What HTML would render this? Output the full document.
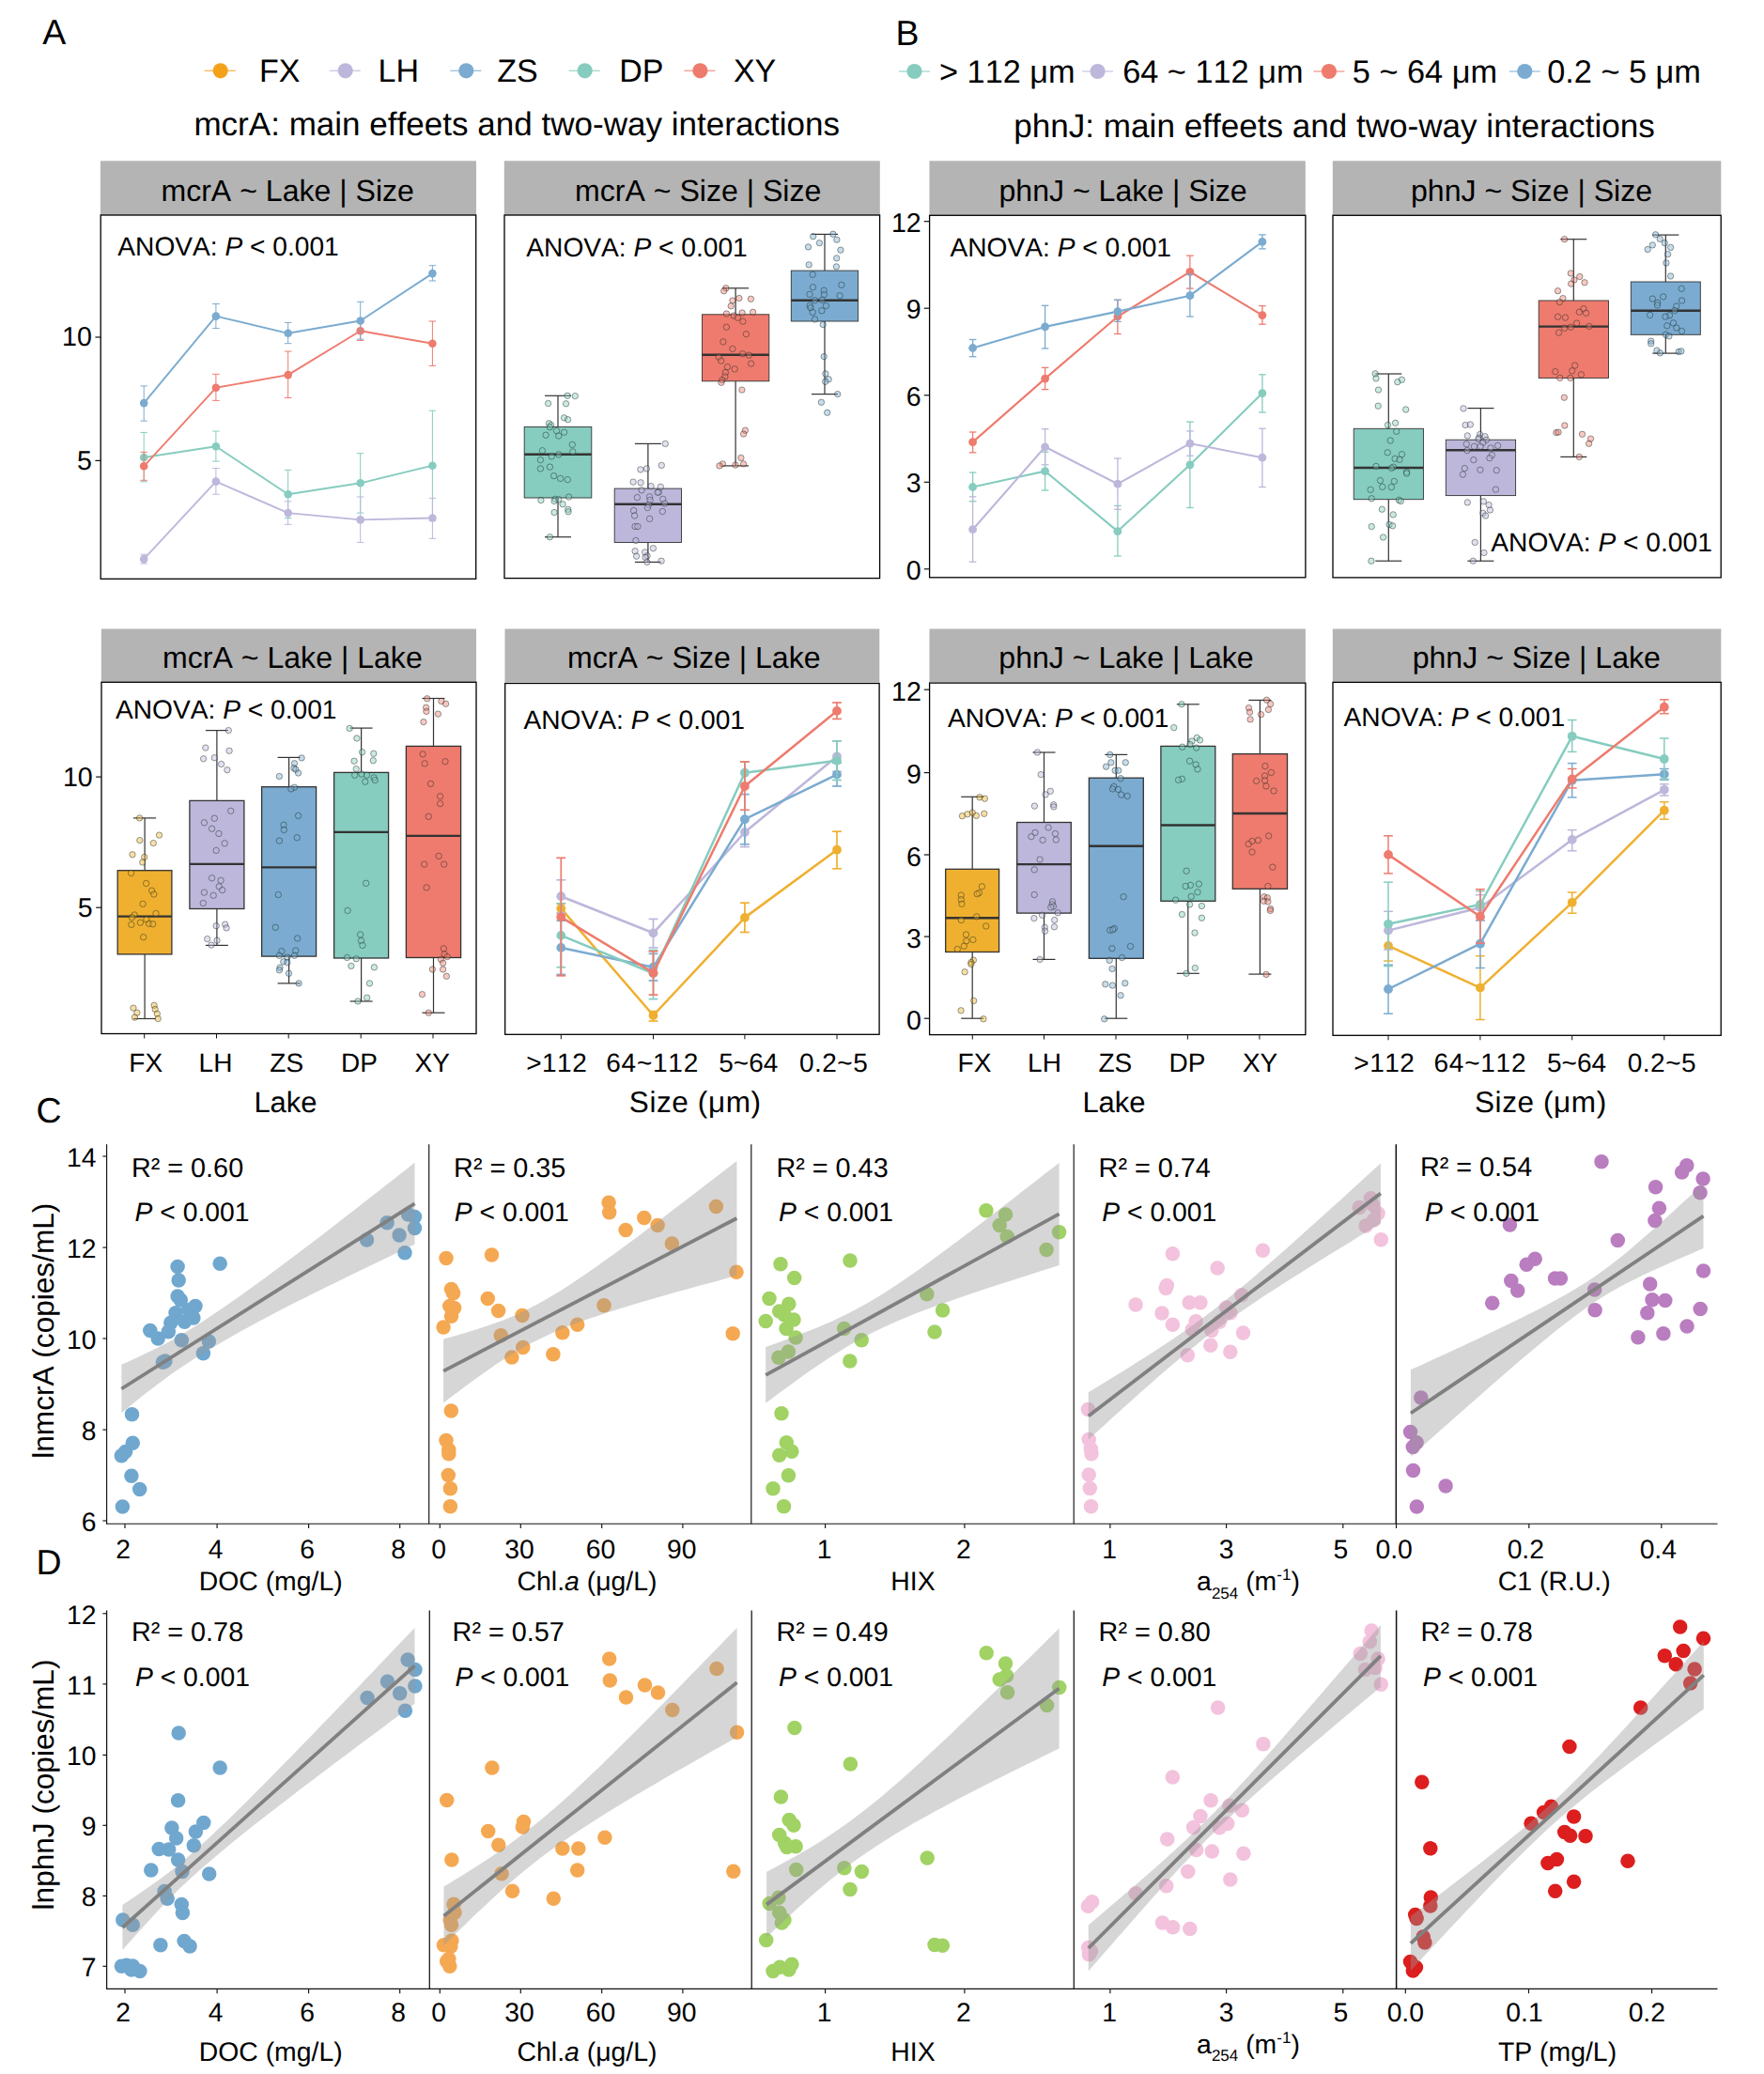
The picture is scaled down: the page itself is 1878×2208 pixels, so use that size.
<!DOCTYPE html>
<html lang="en"><head><meta charset="utf-8"><title>Figure</title>
<style>html,body{margin:0;padding:0;background:#fff}svg{display:block}</style></head>
<body>
<svg width="1878" height="2208" viewBox="0 0 1878 2208" font-family='"Liberation Sans", sans-serif' style="font-kerning:none" text-rendering="geometricPrecision">
<rect x="0.0" y="0.0" width="1878.0" height="2208.0" fill="#fff" stroke="none" stroke-width="1" />
<text x="45.3" y="47.3" font-size="37.5" text-anchor="start" fill="#000" >A</text>
<text x="953.5" y="47.8" font-size="37.5" text-anchor="start" fill="#000" >B</text>
<text x="38.5" y="1195.0" font-size="37.5" text-anchor="start" fill="#000" >C</text>
<text x="38.5" y="1676.3" font-size="37.5" text-anchor="start" fill="#000" >D</text>
<line x1="217.7" y1="75.3" x2="250.7" y2="75.3" stroke="#F4A21C" stroke-width="1.05" />
<circle cx="234.7" cy="75.3" r="8.1" fill="#F4A21C" />
<text x="276.1" y="87.0" font-size="34" text-anchor="start" fill="#000" >FX</text>
<line x1="350.7" y1="75.3" x2="383.7" y2="75.3" stroke="#BDB7DB" stroke-width="1.05" />
<circle cx="367.7" cy="75.3" r="8.1" fill="#BDB7DB" />
<text x="402.5" y="87.0" font-size="34" text-anchor="start" fill="#000" >LH</text>
<line x1="479.3" y1="75.3" x2="512.3" y2="75.3" stroke="#7BABD0" stroke-width="1.05" />
<circle cx="496.3" cy="75.3" r="8.1" fill="#7BABD0" />
<text x="529.2" y="87.0" font-size="34" text-anchor="start" fill="#000" >ZS</text>
<line x1="605.7" y1="75.3" x2="638.7" y2="75.3" stroke="#86CCBF" stroke-width="1.05" />
<circle cx="622.7" cy="75.3" r="8.1" fill="#86CCBF" />
<text x="659.3" y="87.0" font-size="34" text-anchor="start" fill="#000" >DP</text>
<line x1="728.4" y1="75.3" x2="761.4" y2="75.3" stroke="#EE7B6E" stroke-width="1.05" />
<circle cx="745.4" cy="75.3" r="8.1" fill="#EE7B6E" />
<text x="780.9" y="87.0" font-size="34" text-anchor="start" fill="#000" >XY</text>
<line x1="957.0" y1="76.0" x2="990.0" y2="76.0" stroke="#86CCBF" stroke-width="1.05" />
<circle cx="973.5" cy="76.0" r="8.1" fill="#86CCBF" />
<text x="1000.0" y="87.5" font-size="34.3" text-anchor="start" fill="#000" >&gt; 112 μm</text>
<line x1="1152.1" y1="76.0" x2="1185.1" y2="76.0" stroke="#BDB7DB" stroke-width="1.05" />
<circle cx="1168.6" cy="76.0" r="8.1" fill="#BDB7DB" />
<text x="1195.2" y="87.5" font-size="34.3" text-anchor="start" fill="#000" >64 ~ 112 μm</text>
<line x1="1398.4" y1="76.0" x2="1431.4" y2="76.0" stroke="#EE7B6E" stroke-width="1.05" />
<circle cx="1414.9" cy="76.0" r="8.1" fill="#EE7B6E" />
<text x="1439.8" y="87.5" font-size="34.3" text-anchor="start" fill="#000" >5 ~ 64 μm</text>
<line x1="1606.8" y1="76.0" x2="1639.8" y2="76.0" stroke="#7BABD0" stroke-width="1.05" />
<circle cx="1623.3" cy="76.0" r="8.1" fill="#7BABD0" />
<text x="1647.2" y="87.5" font-size="34.3" text-anchor="start" fill="#000" >0.2 ~ 5 μm</text>
<text x="206.4" y="143.5" font-size="35.05" text-anchor="start" fill="#000" >mcrA: main effeets and two-way interactions</text>
<text x="1079.3" y="145.5" font-size="35.1" text-anchor="start" fill="#000" >phnJ: main effeets and two-way interactions</text>
<rect x="106.9" y="171.3" width="400.1" height="57.7" fill="#B4B4B4" stroke="none" stroke-width="1" />
<text x="306.2" y="213.5" font-size="32.1" text-anchor="middle" fill="#000" >mcrA ~ Lake | Size</text>
<rect x="107.2" y="229.0" width="399.5" height="387.3" fill="#fff" stroke="#000" stroke-width="1.3" />
<line x1="101.4" y1="359.0" x2="107.2" y2="359.0" stroke="#111" stroke-width="1.2" />
<text x="97.9" y="368.4" font-size="28.6" text-anchor="end" fill="#000" >10</text>
<line x1="101.4" y1="490.4" x2="107.2" y2="490.4" stroke="#111" stroke-width="1.2" />
<text x="97.9" y="499.8" font-size="28.6" text-anchor="end" fill="#000" >5</text>
<text x="125.3" y="272.2" font-size="28.15" text-anchor="start" fill="#000" >ANOVA: <tspan font-style="italic">P</tspan> &lt; 0.001</text>
<line x1="153.2" y1="460.4" x2="153.2" y2="512.9" stroke="#86CCBF" stroke-width="1.0" />
<line x1="149.4" y1="460.4" x2="156.9" y2="460.4" stroke="#86CCBF" stroke-width="1.0" />
<line x1="149.4" y1="512.9" x2="156.9" y2="512.9" stroke="#86CCBF" stroke-width="1.0" />
<line x1="229.9" y1="459.0" x2="229.9" y2="491.1" stroke="#86CCBF" stroke-width="1.0" />
<line x1="226.2" y1="459.0" x2="233.7" y2="459.0" stroke="#86CCBF" stroke-width="1.0" />
<line x1="226.2" y1="491.1" x2="233.7" y2="491.1" stroke="#86CCBF" stroke-width="1.0" />
<line x1="306.7" y1="500.4" x2="306.7" y2="551.5" stroke="#86CCBF" stroke-width="1.0" />
<line x1="302.9" y1="500.4" x2="310.4" y2="500.4" stroke="#86CCBF" stroke-width="1.0" />
<line x1="302.9" y1="551.5" x2="310.4" y2="551.5" stroke="#86CCBF" stroke-width="1.0" />
<line x1="383.7" y1="482.7" x2="383.7" y2="546.1" stroke="#86CCBF" stroke-width="1.0" />
<line x1="379.9" y1="482.7" x2="387.4" y2="482.7" stroke="#86CCBF" stroke-width="1.0" />
<line x1="379.9" y1="546.1" x2="387.4" y2="546.1" stroke="#86CCBF" stroke-width="1.0" />
<line x1="460.4" y1="437.2" x2="460.4" y2="554.3" stroke="#86CCBF" stroke-width="1.0" />
<line x1="456.6" y1="437.2" x2="464.1" y2="437.2" stroke="#86CCBF" stroke-width="1.0" />
<line x1="456.6" y1="554.3" x2="464.1" y2="554.3" stroke="#86CCBF" stroke-width="1.0" />
<polyline points="153.2,487.0 229.9,475.3 306.7,526.2 383.7,514.3 460.4,495.7" fill="none" stroke="#86CCBF" stroke-width="1.9" stroke-linejoin="round"/>
<circle cx="153.2" cy="487.0" r="4.3" fill="#86CCBF" />
<circle cx="229.9" cy="475.3" r="4.3" fill="#86CCBF" />
<circle cx="306.7" cy="526.2" r="4.3" fill="#86CCBF" />
<circle cx="383.7" cy="514.3" r="4.3" fill="#86CCBF" />
<circle cx="460.4" cy="495.7" r="4.3" fill="#86CCBF" />
<line x1="153.2" y1="590.2" x2="153.2" y2="600.0" stroke="#BDB7DB" stroke-width="1.0" />
<line x1="149.4" y1="590.2" x2="156.9" y2="590.2" stroke="#BDB7DB" stroke-width="1.0" />
<line x1="149.4" y1="600.0" x2="156.9" y2="600.0" stroke="#BDB7DB" stroke-width="1.0" />
<line x1="229.9" y1="498.5" x2="229.9" y2="526.2" stroke="#BDB7DB" stroke-width="1.0" />
<line x1="226.2" y1="498.5" x2="233.7" y2="498.5" stroke="#BDB7DB" stroke-width="1.0" />
<line x1="226.2" y1="526.2" x2="233.7" y2="526.2" stroke="#BDB7DB" stroke-width="1.0" />
<line x1="306.7" y1="533.8" x2="306.7" y2="558.3" stroke="#BDB7DB" stroke-width="1.0" />
<line x1="302.9" y1="533.8" x2="310.4" y2="533.8" stroke="#BDB7DB" stroke-width="1.0" />
<line x1="302.9" y1="558.3" x2="310.4" y2="558.3" stroke="#BDB7DB" stroke-width="1.0" />
<line x1="383.7" y1="529.0" x2="383.7" y2="577.4" stroke="#BDB7DB" stroke-width="1.0" />
<line x1="379.9" y1="529.0" x2="387.4" y2="529.0" stroke="#BDB7DB" stroke-width="1.0" />
<line x1="379.9" y1="577.4" x2="387.4" y2="577.4" stroke="#BDB7DB" stroke-width="1.0" />
<line x1="460.4" y1="530.3" x2="460.4" y2="573.3" stroke="#BDB7DB" stroke-width="1.0" />
<line x1="456.6" y1="530.3" x2="464.1" y2="530.3" stroke="#BDB7DB" stroke-width="1.0" />
<line x1="456.6" y1="573.3" x2="464.1" y2="573.3" stroke="#BDB7DB" stroke-width="1.0" />
<polyline points="153.2,595.1 229.9,512.6 306.7,546.1 383.7,553.4 460.4,551.5" fill="none" stroke="#BDB7DB" stroke-width="1.9" stroke-linejoin="round"/>
<circle cx="153.2" cy="595.1" r="4.3" fill="#BDB7DB" />
<circle cx="229.9" cy="512.6" r="4.3" fill="#BDB7DB" />
<circle cx="306.7" cy="546.1" r="4.3" fill="#BDB7DB" />
<circle cx="383.7" cy="553.4" r="4.3" fill="#BDB7DB" />
<circle cx="460.4" cy="551.5" r="4.3" fill="#BDB7DB" />
<line x1="153.2" y1="481.3" x2="153.2" y2="511.3" stroke="#EE7B6E" stroke-width="1.0" />
<line x1="149.4" y1="481.3" x2="156.9" y2="481.3" stroke="#EE7B6E" stroke-width="1.0" />
<line x1="149.4" y1="511.3" x2="156.9" y2="511.3" stroke="#EE7B6E" stroke-width="1.0" />
<line x1="229.9" y1="398.3" x2="229.9" y2="426.4" stroke="#EE7B6E" stroke-width="1.0" />
<line x1="226.2" y1="398.3" x2="233.7" y2="398.3" stroke="#EE7B6E" stroke-width="1.0" />
<line x1="226.2" y1="426.4" x2="233.7" y2="426.4" stroke="#EE7B6E" stroke-width="1.0" />
<line x1="306.7" y1="374.1" x2="306.7" y2="423.6" stroke="#EE7B6E" stroke-width="1.0" />
<line x1="302.9" y1="374.1" x2="310.4" y2="374.1" stroke="#EE7B6E" stroke-width="1.0" />
<line x1="302.9" y1="423.6" x2="310.4" y2="423.6" stroke="#EE7B6E" stroke-width="1.0" />
<line x1="383.7" y1="342.6" x2="383.7" y2="362.4" stroke="#EE7B6E" stroke-width="1.0" />
<line x1="379.9" y1="342.6" x2="387.4" y2="342.6" stroke="#EE7B6E" stroke-width="1.0" />
<line x1="379.9" y1="362.4" x2="387.4" y2="362.4" stroke="#EE7B6E" stroke-width="1.0" />
<line x1="460.4" y1="342.0" x2="460.4" y2="389.4" stroke="#EE7B6E" stroke-width="1.0" />
<line x1="456.6" y1="342.0" x2="464.1" y2="342.0" stroke="#EE7B6E" stroke-width="1.0" />
<line x1="456.6" y1="389.4" x2="464.1" y2="389.4" stroke="#EE7B6E" stroke-width="1.0" />
<polyline points="153.2,496.3 229.9,412.8 306.7,399.1 383.7,352.3 460.4,365.7" fill="none" stroke="#EE7B6E" stroke-width="1.9" stroke-linejoin="round"/>
<circle cx="153.2" cy="496.3" r="4.3" fill="#EE7B6E" />
<circle cx="229.9" cy="412.8" r="4.3" fill="#EE7B6E" />
<circle cx="306.7" cy="399.1" r="4.3" fill="#EE7B6E" />
<circle cx="383.7" cy="352.3" r="4.3" fill="#EE7B6E" />
<circle cx="460.4" cy="365.7" r="4.3" fill="#EE7B6E" />
<line x1="153.2" y1="410.9" x2="153.2" y2="448.1" stroke="#7BABD0" stroke-width="1.0" />
<line x1="149.4" y1="410.9" x2="156.9" y2="410.9" stroke="#7BABD0" stroke-width="1.0" />
<line x1="149.4" y1="448.1" x2="156.9" y2="448.1" stroke="#7BABD0" stroke-width="1.0" />
<line x1="229.9" y1="323.5" x2="229.9" y2="349.6" stroke="#7BABD0" stroke-width="1.0" />
<line x1="226.2" y1="323.5" x2="233.7" y2="323.5" stroke="#7BABD0" stroke-width="1.0" />
<line x1="226.2" y1="349.6" x2="233.7" y2="349.6" stroke="#7BABD0" stroke-width="1.0" />
<line x1="306.7" y1="343.4" x2="306.7" y2="365.7" stroke="#7BABD0" stroke-width="1.0" />
<line x1="302.9" y1="343.4" x2="310.4" y2="343.4" stroke="#7BABD0" stroke-width="1.0" />
<line x1="302.9" y1="365.7" x2="310.4" y2="365.7" stroke="#7BABD0" stroke-width="1.0" />
<line x1="383.7" y1="321.3" x2="383.7" y2="361.1" stroke="#7BABD0" stroke-width="1.0" />
<line x1="379.9" y1="321.3" x2="387.4" y2="321.3" stroke="#7BABD0" stroke-width="1.0" />
<line x1="379.9" y1="361.1" x2="387.4" y2="361.1" stroke="#7BABD0" stroke-width="1.0" />
<line x1="460.4" y1="282.7" x2="460.4" y2="299.0" stroke="#7BABD0" stroke-width="1.0" />
<line x1="456.6" y1="282.7" x2="464.1" y2="282.7" stroke="#7BABD0" stroke-width="1.0" />
<line x1="456.6" y1="299.0" x2="464.1" y2="299.0" stroke="#7BABD0" stroke-width="1.0" />
<polyline points="153.2,429.1 229.9,336.6 306.7,354.8 383.7,341.5 460.4,291.1" fill="none" stroke="#7BABD0" stroke-width="1.9" stroke-linejoin="round"/>
<circle cx="153.2" cy="429.1" r="4.3" fill="#7BABD0" />
<circle cx="229.9" cy="336.6" r="4.3" fill="#7BABD0" />
<circle cx="306.7" cy="354.8" r="4.3" fill="#7BABD0" />
<circle cx="383.7" cy="341.5" r="4.3" fill="#7BABD0" />
<circle cx="460.4" cy="291.1" r="4.3" fill="#7BABD0" />
<rect x="536.8" y="171.3" width="400.0" height="57.7" fill="#B4B4B4" stroke="none" stroke-width="1" />
<text x="743.2" y="213.5" font-size="32.1" text-anchor="middle" fill="#000" >mcrA ~ Size | Size</text>
<rect x="537.0" y="229.0" width="399.6" height="386.6" fill="#fff" stroke="#000" stroke-width="1.3" />
<text x="560.3" y="272.5" font-size="28.15" text-anchor="start" fill="#000" >ANOVA: <tspan font-style="italic">P</tspan> &lt; 0.001</text>
<line x1="594.0" y1="421.3" x2="594.0" y2="454.5" stroke="#333333" stroke-width="1.2" />
<line x1="594.0" y1="530.0" x2="594.0" y2="571.7" stroke="#333333" stroke-width="1.2" />
<line x1="580.0" y1="421.3" x2="608.0" y2="421.3" stroke="#333333" stroke-width="1.2" />
<line x1="580.0" y1="571.7" x2="608.0" y2="571.7" stroke="#333333" stroke-width="1.2" />
<rect x="558.2" y="454.5" width="71.6" height="75.5" fill="#86CCBF" stroke="#333333" stroke-width="0.9" />
<line x1="558.2" y1="483.7" x2="629.8" y2="483.7" stroke="#333333" stroke-width="2.4" />
<circle cx="604.1" cy="421.3" r="3.2" fill="#86CCBF" fill-opacity="0.42" stroke="#10201c" stroke-opacity="0.62" stroke-width="0.7"/>
<circle cx="612.3" cy="421.6" r="3.2" fill="#86CCBF" fill-opacity="0.42" stroke="#10201c" stroke-opacity="0.62" stroke-width="0.7"/>
<circle cx="583.6" cy="429.5" r="3.2" fill="#86CCBF" fill-opacity="0.42" stroke="#10201c" stroke-opacity="0.62" stroke-width="0.7"/>
<circle cx="602.6" cy="429.8" r="3.2" fill="#86CCBF" fill-opacity="0.42" stroke="#10201c" stroke-opacity="0.62" stroke-width="0.7"/>
<circle cx="600.6" cy="444.8" r="3.2" fill="#86CCBF" fill-opacity="0.42" stroke="#10201c" stroke-opacity="0.62" stroke-width="0.7"/>
<circle cx="604.6" cy="446.7" r="3.2" fill="#86CCBF" fill-opacity="0.42" stroke="#10201c" stroke-opacity="0.62" stroke-width="0.7"/>
<circle cx="584.4" cy="450.7" r="3.2" fill="#86CCBF" fill-opacity="0.42" stroke="#10201c" stroke-opacity="0.62" stroke-width="0.7"/>
<circle cx="586.6" cy="452.5" r="3.2" fill="#86CCBF" fill-opacity="0.42" stroke="#10201c" stroke-opacity="0.62" stroke-width="0.7"/>
<circle cx="585.4" cy="454.7" r="3.2" fill="#86CCBF" fill-opacity="0.42" stroke="#10201c" stroke-opacity="0.62" stroke-width="0.7"/>
<circle cx="592.6" cy="458.7" r="3.2" fill="#86CCBF" fill-opacity="0.42" stroke="#10201c" stroke-opacity="0.62" stroke-width="0.7"/>
<circle cx="600.6" cy="460.2" r="3.2" fill="#86CCBF" fill-opacity="0.42" stroke="#10201c" stroke-opacity="0.62" stroke-width="0.7"/>
<circle cx="581.1" cy="463.2" r="3.2" fill="#86CCBF" fill-opacity="0.42" stroke="#10201c" stroke-opacity="0.62" stroke-width="0.7"/>
<circle cx="594.8" cy="464.0" r="3.2" fill="#86CCBF" fill-opacity="0.42" stroke="#10201c" stroke-opacity="0.62" stroke-width="0.7"/>
<circle cx="609.3" cy="473.4" r="3.2" fill="#86CCBF" fill-opacity="0.42" stroke="#10201c" stroke-opacity="0.62" stroke-width="0.7"/>
<circle cx="577.4" cy="479.7" r="3.2" fill="#86CCBF" fill-opacity="0.42" stroke="#10201c" stroke-opacity="0.62" stroke-width="0.7"/>
<circle cx="609.8" cy="480.9" r="3.2" fill="#86CCBF" fill-opacity="0.42" stroke="#10201c" stroke-opacity="0.62" stroke-width="0.7"/>
<circle cx="594.8" cy="483.9" r="3.2" fill="#86CCBF" fill-opacity="0.42" stroke="#10201c" stroke-opacity="0.62" stroke-width="0.7"/>
<circle cx="587.3" cy="485.9" r="3.2" fill="#86CCBF" fill-opacity="0.42" stroke="#10201c" stroke-opacity="0.62" stroke-width="0.7"/>
<circle cx="575.4" cy="489.6" r="3.2" fill="#86CCBF" fill-opacity="0.42" stroke="#10201c" stroke-opacity="0.62" stroke-width="0.7"/>
<circle cx="585.4" cy="497.1" r="3.2" fill="#86CCBF" fill-opacity="0.42" stroke="#10201c" stroke-opacity="0.62" stroke-width="0.7"/>
<circle cx="575.4" cy="498.9" r="3.2" fill="#86CCBF" fill-opacity="0.42" stroke="#10201c" stroke-opacity="0.62" stroke-width="0.7"/>
<circle cx="589.6" cy="506.6" r="3.2" fill="#86CCBF" fill-opacity="0.42" stroke="#10201c" stroke-opacity="0.62" stroke-width="0.7"/>
<circle cx="596.6" cy="509.4" r="3.2" fill="#86CCBF" fill-opacity="0.42" stroke="#10201c" stroke-opacity="0.62" stroke-width="0.7"/>
<circle cx="604.3" cy="510.6" r="3.2" fill="#86CCBF" fill-opacity="0.42" stroke="#10201c" stroke-opacity="0.62" stroke-width="0.7"/>
<circle cx="575.9" cy="532.6" r="3.2" fill="#86CCBF" fill-opacity="0.42" stroke="#10201c" stroke-opacity="0.62" stroke-width="0.7"/>
<circle cx="605.6" cy="529.1" r="3.2" fill="#86CCBF" fill-opacity="0.42" stroke="#10201c" stroke-opacity="0.62" stroke-width="0.7"/>
<circle cx="591.1" cy="531.3" r="3.2" fill="#86CCBF" fill-opacity="0.42" stroke="#10201c" stroke-opacity="0.62" stroke-width="0.7"/>
<circle cx="594.8" cy="531.8" r="3.2" fill="#86CCBF" fill-opacity="0.42" stroke="#10201c" stroke-opacity="0.62" stroke-width="0.7"/>
<circle cx="590.1" cy="533.5" r="3.2" fill="#86CCBF" fill-opacity="0.42" stroke="#10201c" stroke-opacity="0.62" stroke-width="0.7"/>
<circle cx="599.1" cy="536.8" r="3.2" fill="#86CCBF" fill-opacity="0.42" stroke="#10201c" stroke-opacity="0.62" stroke-width="0.7"/>
<circle cx="604.8" cy="542.3" r="3.2" fill="#86CCBF" fill-opacity="0.42" stroke="#10201c" stroke-opacity="0.62" stroke-width="0.7"/>
<circle cx="605.1" cy="544.8" r="3.2" fill="#86CCBF" fill-opacity="0.42" stroke="#10201c" stroke-opacity="0.62" stroke-width="0.7"/>
<circle cx="590.1" cy="545.5" r="3.2" fill="#86CCBF" fill-opacity="0.42" stroke="#10201c" stroke-opacity="0.62" stroke-width="0.7"/>
<circle cx="585.4" cy="571.7" r="3.2" fill="#86CCBF" fill-opacity="0.42" stroke="#10201c" stroke-opacity="0.62" stroke-width="0.7"/>
<line x1="689.9" y1="472.4" x2="689.9" y2="520.1" stroke="#333333" stroke-width="1.2" />
<line x1="689.9" y1="577.5" x2="689.9" y2="598.4" stroke="#333333" stroke-width="1.2" />
<line x1="675.9" y1="472.4" x2="703.9" y2="472.4" stroke="#333333" stroke-width="1.2" />
<line x1="675.9" y1="598.4" x2="703.9" y2="598.4" stroke="#333333" stroke-width="1.2" />
<rect x="654.2" y="520.1" width="71.3" height="57.4" fill="#BDB7DB" stroke="#333333" stroke-width="0.9" />
<line x1="654.2" y1="536.8" x2="725.5" y2="536.8" stroke="#333333" stroke-width="2.4" />
<circle cx="708.3" cy="472.4" r="3.2" fill="#BDB7DB" fill-opacity="0.42" stroke="#10201c" stroke-opacity="0.62" stroke-width="0.7"/>
<circle cx="704.3" cy="495.4" r="3.2" fill="#BDB7DB" fill-opacity="0.42" stroke="#10201c" stroke-opacity="0.62" stroke-width="0.7"/>
<circle cx="681.9" cy="499.9" r="3.2" fill="#BDB7DB" fill-opacity="0.42" stroke="#10201c" stroke-opacity="0.62" stroke-width="0.7"/>
<circle cx="688.4" cy="498.9" r="3.2" fill="#BDB7DB" fill-opacity="0.42" stroke="#10201c" stroke-opacity="0.62" stroke-width="0.7"/>
<circle cx="674.1" cy="513.1" r="3.2" fill="#BDB7DB" fill-opacity="0.42" stroke="#10201c" stroke-opacity="0.62" stroke-width="0.7"/>
<circle cx="682.1" cy="513.8" r="3.2" fill="#BDB7DB" fill-opacity="0.42" stroke="#10201c" stroke-opacity="0.62" stroke-width="0.7"/>
<circle cx="693.1" cy="517.6" r="3.2" fill="#BDB7DB" fill-opacity="0.42" stroke="#10201c" stroke-opacity="0.62" stroke-width="0.7"/>
<circle cx="703.3" cy="518.3" r="3.2" fill="#BDB7DB" fill-opacity="0.42" stroke="#10201c" stroke-opacity="0.62" stroke-width="0.7"/>
<circle cx="683.1" cy="521.8" r="3.2" fill="#BDB7DB" fill-opacity="0.42" stroke="#10201c" stroke-opacity="0.62" stroke-width="0.7"/>
<circle cx="701.3" cy="523.8" r="3.2" fill="#BDB7DB" fill-opacity="0.42" stroke="#10201c" stroke-opacity="0.62" stroke-width="0.7"/>
<circle cx="700.1" cy="524.3" r="3.2" fill="#BDB7DB" fill-opacity="0.42" stroke="#10201c" stroke-opacity="0.62" stroke-width="0.7"/>
<circle cx="678.4" cy="529.6" r="3.2" fill="#BDB7DB" fill-opacity="0.42" stroke="#10201c" stroke-opacity="0.62" stroke-width="0.7"/>
<circle cx="691.6" cy="528.8" r="3.2" fill="#BDB7DB" fill-opacity="0.42" stroke="#10201c" stroke-opacity="0.62" stroke-width="0.7"/>
<circle cx="705.8" cy="531.3" r="3.2" fill="#BDB7DB" fill-opacity="0.42" stroke="#10201c" stroke-opacity="0.62" stroke-width="0.7"/>
<circle cx="692.1" cy="532.3" r="3.2" fill="#BDB7DB" fill-opacity="0.42" stroke="#10201c" stroke-opacity="0.62" stroke-width="0.7"/>
<circle cx="707.6" cy="536.0" r="3.2" fill="#BDB7DB" fill-opacity="0.42" stroke="#10201c" stroke-opacity="0.62" stroke-width="0.7"/>
<circle cx="690.6" cy="537.3" r="3.2" fill="#BDB7DB" fill-opacity="0.42" stroke="#10201c" stroke-opacity="0.62" stroke-width="0.7"/>
<circle cx="689.4" cy="540.5" r="3.2" fill="#BDB7DB" fill-opacity="0.42" stroke="#10201c" stroke-opacity="0.62" stroke-width="0.7"/>
<circle cx="674.6" cy="543.5" r="3.2" fill="#BDB7DB" fill-opacity="0.42" stroke="#10201c" stroke-opacity="0.62" stroke-width="0.7"/>
<circle cx="705.3" cy="544.5" r="3.2" fill="#BDB7DB" fill-opacity="0.42" stroke="#10201c" stroke-opacity="0.62" stroke-width="0.7"/>
<circle cx="675.6" cy="549.0" r="3.2" fill="#BDB7DB" fill-opacity="0.42" stroke="#10201c" stroke-opacity="0.62" stroke-width="0.7"/>
<circle cx="691.6" cy="552.3" r="3.2" fill="#BDB7DB" fill-opacity="0.42" stroke="#10201c" stroke-opacity="0.62" stroke-width="0.7"/>
<circle cx="676.1" cy="560.5" r="3.2" fill="#BDB7DB" fill-opacity="0.42" stroke="#10201c" stroke-opacity="0.62" stroke-width="0.7"/>
<circle cx="678.9" cy="560.5" r="3.2" fill="#BDB7DB" fill-opacity="0.42" stroke="#10201c" stroke-opacity="0.62" stroke-width="0.7"/>
<circle cx="676.9" cy="575.5" r="3.2" fill="#BDB7DB" fill-opacity="0.42" stroke="#10201c" stroke-opacity="0.62" stroke-width="0.7"/>
<circle cx="695.4" cy="583.7" r="3.2" fill="#BDB7DB" fill-opacity="0.42" stroke="#10201c" stroke-opacity="0.62" stroke-width="0.7"/>
<circle cx="676.1" cy="586.7" r="3.2" fill="#BDB7DB" fill-opacity="0.42" stroke="#10201c" stroke-opacity="0.62" stroke-width="0.7"/>
<circle cx="686.6" cy="587.9" r="3.2" fill="#BDB7DB" fill-opacity="0.42" stroke="#10201c" stroke-opacity="0.62" stroke-width="0.7"/>
<circle cx="677.6" cy="592.2" r="3.2" fill="#BDB7DB" fill-opacity="0.42" stroke="#10201c" stroke-opacity="0.62" stroke-width="0.7"/>
<circle cx="689.1" cy="591.7" r="3.2" fill="#BDB7DB" fill-opacity="0.42" stroke="#10201c" stroke-opacity="0.62" stroke-width="0.7"/>
<circle cx="687.1" cy="593.4" r="3.2" fill="#BDB7DB" fill-opacity="0.42" stroke="#10201c" stroke-opacity="0.62" stroke-width="0.7"/>
<circle cx="704.1" cy="597.2" r="3.2" fill="#BDB7DB" fill-opacity="0.42" stroke="#10201c" stroke-opacity="0.62" stroke-width="0.7"/>
<circle cx="688.9" cy="598.4" r="3.2" fill="#BDB7DB" fill-opacity="0.42" stroke="#10201c" stroke-opacity="0.62" stroke-width="0.7"/>
<line x1="783.1" y1="306.8" x2="783.1" y2="334.8" stroke="#333333" stroke-width="1.2" />
<line x1="783.1" y1="405.8" x2="783.1" y2="495.9" stroke="#333333" stroke-width="1.2" />
<line x1="769.1" y1="306.8" x2="797.1" y2="306.8" stroke="#333333" stroke-width="1.2" />
<line x1="769.1" y1="495.9" x2="797.1" y2="495.9" stroke="#333333" stroke-width="1.2" />
<rect x="747.5" y="334.8" width="71.3" height="71.0" fill="#EE7B6E" stroke="#333333" stroke-width="0.9" />
<line x1="747.5" y1="377.7" x2="818.8" y2="377.7" stroke="#333333" stroke-width="2.4" />
<circle cx="772.9" cy="306.8" r="3.2" fill="#EE7B6E" fill-opacity="0.42" stroke="#10201c" stroke-opacity="0.62" stroke-width="0.7"/>
<circle cx="770.7" cy="309.8" r="3.2" fill="#EE7B6E" fill-opacity="0.42" stroke="#10201c" stroke-opacity="0.62" stroke-width="0.7"/>
<circle cx="786.9" cy="317.5" r="3.2" fill="#EE7B6E" fill-opacity="0.42" stroke="#10201c" stroke-opacity="0.62" stroke-width="0.7"/>
<circle cx="779.9" cy="320.0" r="3.2" fill="#EE7B6E" fill-opacity="0.42" stroke="#10201c" stroke-opacity="0.62" stroke-width="0.7"/>
<circle cx="799.4" cy="318.3" r="3.2" fill="#EE7B6E" fill-opacity="0.42" stroke="#10201c" stroke-opacity="0.62" stroke-width="0.7"/>
<circle cx="778.2" cy="325.8" r="3.2" fill="#EE7B6E" fill-opacity="0.42" stroke="#10201c" stroke-opacity="0.62" stroke-width="0.7"/>
<circle cx="773.4" cy="334.0" r="3.2" fill="#EE7B6E" fill-opacity="0.42" stroke="#10201c" stroke-opacity="0.62" stroke-width="0.7"/>
<circle cx="790.1" cy="333.0" r="3.2" fill="#EE7B6E" fill-opacity="0.42" stroke="#10201c" stroke-opacity="0.62" stroke-width="0.7"/>
<circle cx="801.6" cy="332.3" r="3.2" fill="#EE7B6E" fill-opacity="0.42" stroke="#10201c" stroke-opacity="0.62" stroke-width="0.7"/>
<circle cx="781.2" cy="336.0" r="3.2" fill="#EE7B6E" fill-opacity="0.42" stroke="#10201c" stroke-opacity="0.62" stroke-width="0.7"/>
<circle cx="785.4" cy="338.2" r="3.2" fill="#EE7B6E" fill-opacity="0.42" stroke="#10201c" stroke-opacity="0.62" stroke-width="0.7"/>
<circle cx="790.9" cy="342.2" r="3.2" fill="#EE7B6E" fill-opacity="0.42" stroke="#10201c" stroke-opacity="0.62" stroke-width="0.7"/>
<circle cx="773.4" cy="348.2" r="3.2" fill="#EE7B6E" fill-opacity="0.42" stroke="#10201c" stroke-opacity="0.62" stroke-width="0.7"/>
<circle cx="794.4" cy="355.7" r="3.2" fill="#EE7B6E" fill-opacity="0.42" stroke="#10201c" stroke-opacity="0.62" stroke-width="0.7"/>
<circle cx="769.9" cy="363.9" r="3.2" fill="#EE7B6E" fill-opacity="0.42" stroke="#10201c" stroke-opacity="0.62" stroke-width="0.7"/>
<circle cx="779.9" cy="371.4" r="3.2" fill="#EE7B6E" fill-opacity="0.42" stroke="#10201c" stroke-opacity="0.62" stroke-width="0.7"/>
<circle cx="790.6" cy="376.7" r="3.2" fill="#EE7B6E" fill-opacity="0.42" stroke="#10201c" stroke-opacity="0.62" stroke-width="0.7"/>
<circle cx="797.4" cy="378.2" r="3.2" fill="#EE7B6E" fill-opacity="0.42" stroke="#10201c" stroke-opacity="0.62" stroke-width="0.7"/>
<circle cx="765.2" cy="380.1" r="3.2" fill="#EE7B6E" fill-opacity="0.42" stroke="#10201c" stroke-opacity="0.62" stroke-width="0.7"/>
<circle cx="767.7" cy="384.1" r="3.2" fill="#EE7B6E" fill-opacity="0.42" stroke="#10201c" stroke-opacity="0.62" stroke-width="0.7"/>
<circle cx="799.6" cy="387.1" r="3.2" fill="#EE7B6E" fill-opacity="0.42" stroke="#10201c" stroke-opacity="0.62" stroke-width="0.7"/>
<circle cx="774.4" cy="390.6" r="3.2" fill="#EE7B6E" fill-opacity="0.42" stroke="#10201c" stroke-opacity="0.62" stroke-width="0.7"/>
<circle cx="782.2" cy="392.9" r="3.2" fill="#EE7B6E" fill-opacity="0.42" stroke="#10201c" stroke-opacity="0.62" stroke-width="0.7"/>
<circle cx="772.4" cy="396.6" r="3.2" fill="#EE7B6E" fill-opacity="0.42" stroke="#10201c" stroke-opacity="0.62" stroke-width="0.7"/>
<circle cx="771.9" cy="400.9" r="3.2" fill="#EE7B6E" fill-opacity="0.42" stroke="#10201c" stroke-opacity="0.62" stroke-width="0.7"/>
<circle cx="768.9" cy="404.6" r="3.2" fill="#EE7B6E" fill-opacity="0.42" stroke="#10201c" stroke-opacity="0.62" stroke-width="0.7"/>
<circle cx="767.9" cy="407.3" r="3.2" fill="#EE7B6E" fill-opacity="0.42" stroke="#10201c" stroke-opacity="0.62" stroke-width="0.7"/>
<circle cx="789.9" cy="415.1" r="3.2" fill="#EE7B6E" fill-opacity="0.42" stroke="#10201c" stroke-opacity="0.62" stroke-width="0.7"/>
<circle cx="793.4" cy="458.2" r="3.2" fill="#EE7B6E" fill-opacity="0.42" stroke="#10201c" stroke-opacity="0.62" stroke-width="0.7"/>
<circle cx="791.6" cy="462.0" r="3.2" fill="#EE7B6E" fill-opacity="0.42" stroke="#10201c" stroke-opacity="0.62" stroke-width="0.7"/>
<circle cx="788.9" cy="487.4" r="3.2" fill="#EE7B6E" fill-opacity="0.42" stroke="#10201c" stroke-opacity="0.62" stroke-width="0.7"/>
<circle cx="769.4" cy="493.9" r="3.2" fill="#EE7B6E" fill-opacity="0.42" stroke="#10201c" stroke-opacity="0.62" stroke-width="0.7"/>
<circle cx="765.9" cy="495.9" r="3.2" fill="#EE7B6E" fill-opacity="0.42" stroke="#10201c" stroke-opacity="0.62" stroke-width="0.7"/>
<circle cx="782.9" cy="495.1" r="3.2" fill="#EE7B6E" fill-opacity="0.42" stroke="#10201c" stroke-opacity="0.62" stroke-width="0.7"/>
<circle cx="791.6" cy="493.9" r="3.2" fill="#EE7B6E" fill-opacity="0.42" stroke="#10201c" stroke-opacity="0.62" stroke-width="0.7"/>
<line x1="878.0" y1="249.4" x2="878.0" y2="288.1" stroke="#333333" stroke-width="1.2" />
<line x1="878.0" y1="342.0" x2="878.0" y2="419.6" stroke="#333333" stroke-width="1.2" />
<line x1="864.0" y1="249.4" x2="892.0" y2="249.4" stroke="#333333" stroke-width="1.2" />
<line x1="864.0" y1="419.6" x2="892.0" y2="419.6" stroke="#333333" stroke-width="1.2" />
<rect x="842.3" y="288.1" width="71.3" height="53.9" fill="#7BABD0" stroke="#333333" stroke-width="0.9" />
<line x1="842.3" y1="319.8" x2="913.6" y2="319.8" stroke="#333333" stroke-width="2.4" />
<circle cx="865.7" cy="251.7" r="3.2" fill="#7BABD0" fill-opacity="0.42" stroke="#10201c" stroke-opacity="0.62" stroke-width="0.7"/>
<circle cx="886.9" cy="249.2" r="3.2" fill="#7BABD0" fill-opacity="0.42" stroke="#10201c" stroke-opacity="0.62" stroke-width="0.7"/>
<circle cx="890.9" cy="255.2" r="3.2" fill="#7BABD0" fill-opacity="0.42" stroke="#10201c" stroke-opacity="0.62" stroke-width="0.7"/>
<circle cx="872.4" cy="258.7" r="3.2" fill="#7BABD0" fill-opacity="0.42" stroke="#10201c" stroke-opacity="0.62" stroke-width="0.7"/>
<circle cx="860.5" cy="262.9" r="3.2" fill="#7BABD0" fill-opacity="0.42" stroke="#10201c" stroke-opacity="0.62" stroke-width="0.7"/>
<circle cx="894.9" cy="266.2" r="3.2" fill="#7BABD0" fill-opacity="0.42" stroke="#10201c" stroke-opacity="0.62" stroke-width="0.7"/>
<circle cx="890.7" cy="274.9" r="3.2" fill="#7BABD0" fill-opacity="0.42" stroke="#10201c" stroke-opacity="0.62" stroke-width="0.7"/>
<circle cx="861.2" cy="281.9" r="3.2" fill="#7BABD0" fill-opacity="0.42" stroke="#10201c" stroke-opacity="0.62" stroke-width="0.7"/>
<circle cx="890.4" cy="283.9" r="3.2" fill="#7BABD0" fill-opacity="0.42" stroke="#10201c" stroke-opacity="0.62" stroke-width="0.7"/>
<circle cx="865.2" cy="292.3" r="3.2" fill="#7BABD0" fill-opacity="0.42" stroke="#10201c" stroke-opacity="0.62" stroke-width="0.7"/>
<circle cx="895.9" cy="303.3" r="3.2" fill="#7BABD0" fill-opacity="0.42" stroke="#10201c" stroke-opacity="0.62" stroke-width="0.7"/>
<circle cx="865.5" cy="305.8" r="3.2" fill="#7BABD0" fill-opacity="0.42" stroke="#10201c" stroke-opacity="0.62" stroke-width="0.7"/>
<circle cx="877.2" cy="309.3" r="3.2" fill="#7BABD0" fill-opacity="0.42" stroke="#10201c" stroke-opacity="0.62" stroke-width="0.7"/>
<circle cx="862.0" cy="313.3" r="3.2" fill="#7BABD0" fill-opacity="0.42" stroke="#10201c" stroke-opacity="0.62" stroke-width="0.7"/>
<circle cx="877.4" cy="313.5" r="3.2" fill="#7BABD0" fill-opacity="0.42" stroke="#10201c" stroke-opacity="0.62" stroke-width="0.7"/>
<circle cx="894.1" cy="314.8" r="3.2" fill="#7BABD0" fill-opacity="0.42" stroke="#10201c" stroke-opacity="0.62" stroke-width="0.7"/>
<circle cx="867.5" cy="319.8" r="3.2" fill="#7BABD0" fill-opacity="0.42" stroke="#10201c" stroke-opacity="0.62" stroke-width="0.7"/>
<circle cx="875.2" cy="319.3" r="3.2" fill="#7BABD0" fill-opacity="0.42" stroke="#10201c" stroke-opacity="0.62" stroke-width="0.7"/>
<circle cx="862.2" cy="325.3" r="3.2" fill="#7BABD0" fill-opacity="0.42" stroke="#10201c" stroke-opacity="0.62" stroke-width="0.7"/>
<circle cx="879.4" cy="325.5" r="3.2" fill="#7BABD0" fill-opacity="0.42" stroke="#10201c" stroke-opacity="0.62" stroke-width="0.7"/>
<circle cx="863.0" cy="327.8" r="3.2" fill="#7BABD0" fill-opacity="0.42" stroke="#10201c" stroke-opacity="0.62" stroke-width="0.7"/>
<circle cx="874.9" cy="330.8" r="3.2" fill="#7BABD0" fill-opacity="0.42" stroke="#10201c" stroke-opacity="0.62" stroke-width="0.7"/>
<circle cx="865.2" cy="332.5" r="3.2" fill="#7BABD0" fill-opacity="0.42" stroke="#10201c" stroke-opacity="0.62" stroke-width="0.7"/>
<circle cx="867.5" cy="340.0" r="3.2" fill="#7BABD0" fill-opacity="0.42" stroke="#10201c" stroke-opacity="0.62" stroke-width="0.7"/>
<circle cx="876.2" cy="345.5" r="3.2" fill="#7BABD0" fill-opacity="0.42" stroke="#10201c" stroke-opacity="0.62" stroke-width="0.7"/>
<circle cx="877.2" cy="379.6" r="3.2" fill="#7BABD0" fill-opacity="0.42" stroke="#10201c" stroke-opacity="0.62" stroke-width="0.7"/>
<circle cx="878.9" cy="397.9" r="3.2" fill="#7BABD0" fill-opacity="0.42" stroke="#10201c" stroke-opacity="0.62" stroke-width="0.7"/>
<circle cx="882.2" cy="403.8" r="3.2" fill="#7BABD0" fill-opacity="0.42" stroke="#10201c" stroke-opacity="0.62" stroke-width="0.7"/>
<circle cx="878.7" cy="406.3" r="3.2" fill="#7BABD0" fill-opacity="0.42" stroke="#10201c" stroke-opacity="0.62" stroke-width="0.7"/>
<circle cx="891.7" cy="419.6" r="3.2" fill="#7BABD0" fill-opacity="0.42" stroke="#10201c" stroke-opacity="0.62" stroke-width="0.7"/>
<circle cx="874.4" cy="428.3" r="3.2" fill="#7BABD0" fill-opacity="0.42" stroke="#10201c" stroke-opacity="0.62" stroke-width="0.7"/>
<circle cx="880.7" cy="439.3" r="3.2" fill="#7BABD0" fill-opacity="0.42" stroke="#10201c" stroke-opacity="0.62" stroke-width="0.7"/>
<rect x="989.5" y="171.3" width="400.3" height="57.7" fill="#B4B4B4" stroke="none" stroke-width="1" />
<text x="1195.6" y="213.5" font-size="32.1" text-anchor="middle" fill="#000" >phnJ ~ Lake | Size</text>
<rect x="989.6" y="229.3" width="400.3" height="385.5" fill="#fff" stroke="#000" stroke-width="1.3" />
<line x1="983.8" y1="235.7" x2="989.6" y2="235.7" stroke="#111" stroke-width="1.2" />
<text x="980.7" y="246.5" font-size="28.6" text-anchor="end" fill="#000" >12</text>
<line x1="983.8" y1="328.2" x2="989.6" y2="328.2" stroke="#111" stroke-width="1.2" />
<text x="980.7" y="339.0" font-size="28.6" text-anchor="end" fill="#000" >9</text>
<line x1="983.8" y1="420.8" x2="989.6" y2="420.8" stroke="#111" stroke-width="1.2" />
<text x="980.7" y="431.6" font-size="28.6" text-anchor="end" fill="#000" >6</text>
<line x1="983.8" y1="513.3" x2="989.6" y2="513.3" stroke="#111" stroke-width="1.2" />
<text x="980.7" y="524.1" font-size="28.6" text-anchor="end" fill="#000" >3</text>
<line x1="983.8" y1="605.8" x2="989.6" y2="605.8" stroke="#111" stroke-width="1.2" />
<text x="980.7" y="616.6" font-size="28.6" text-anchor="end" fill="#000" >0</text>
<text x="1011.5" y="272.8" font-size="28.15" text-anchor="start" fill="#000" >ANOVA: <tspan font-style="italic">P</tspan> &lt; 0.001</text>
<line x1="1035.6" y1="503.0" x2="1035.6" y2="533.7" stroke="#86CCBF" stroke-width="1.3" />
<line x1="1031.8" y1="503.0" x2="1039.4" y2="503.0" stroke="#86CCBF" stroke-width="1.3" />
<line x1="1031.8" y1="533.7" x2="1039.4" y2="533.7" stroke="#86CCBF" stroke-width="1.3" />
<line x1="1112.6" y1="481.2" x2="1112.6" y2="522.0" stroke="#86CCBF" stroke-width="1.3" />
<line x1="1108.8" y1="481.2" x2="1116.4" y2="481.2" stroke="#86CCBF" stroke-width="1.3" />
<line x1="1108.8" y1="522.0" x2="1116.4" y2="522.0" stroke="#86CCBF" stroke-width="1.3" />
<line x1="1189.9" y1="538.4" x2="1189.9" y2="592.0" stroke="#86CCBF" stroke-width="1.3" />
<line x1="1186.1" y1="538.4" x2="1193.7" y2="538.4" stroke="#86CCBF" stroke-width="1.3" />
<line x1="1186.1" y1="592.0" x2="1193.7" y2="592.0" stroke="#86CCBF" stroke-width="1.3" />
<line x1="1266.9" y1="449.1" x2="1266.9" y2="540.5" stroke="#86CCBF" stroke-width="1.3" />
<line x1="1263.1" y1="449.1" x2="1270.7" y2="449.1" stroke="#86CCBF" stroke-width="1.3" />
<line x1="1263.1" y1="540.5" x2="1270.7" y2="540.5" stroke="#86CCBF" stroke-width="1.3" />
<line x1="1343.9" y1="398.8" x2="1343.9" y2="439.0" stroke="#86CCBF" stroke-width="1.3" />
<line x1="1340.1" y1="398.8" x2="1347.7" y2="398.8" stroke="#86CCBF" stroke-width="1.3" />
<line x1="1340.1" y1="439.0" x2="1347.7" y2="439.0" stroke="#86CCBF" stroke-width="1.3" />
<polyline points="1035.6,518.5 1112.6,501.6 1189.9,565.6 1266.9,494.8 1343.9,418.6" fill="none" stroke="#86CCBF" stroke-width="2.1" stroke-linejoin="round"/>
<circle cx="1035.6" cy="518.5" r="4.4" fill="#86CCBF" />
<circle cx="1112.6" cy="501.6" r="4.4" fill="#86CCBF" />
<circle cx="1189.9" cy="565.6" r="4.4" fill="#86CCBF" />
<circle cx="1266.9" cy="494.8" r="4.4" fill="#86CCBF" />
<circle cx="1343.9" cy="418.6" r="4.4" fill="#86CCBF" />
<line x1="1035.6" y1="528.8" x2="1035.6" y2="598.2" stroke="#BDB7DB" stroke-width="1.3" />
<line x1="1031.8" y1="528.8" x2="1039.4" y2="528.8" stroke="#BDB7DB" stroke-width="1.3" />
<line x1="1031.8" y1="598.2" x2="1039.4" y2="598.2" stroke="#BDB7DB" stroke-width="1.3" />
<line x1="1112.6" y1="456.7" x2="1112.6" y2="494.8" stroke="#BDB7DB" stroke-width="1.3" />
<line x1="1108.8" y1="456.7" x2="1116.4" y2="456.7" stroke="#BDB7DB" stroke-width="1.3" />
<line x1="1108.8" y1="494.8" x2="1116.4" y2="494.8" stroke="#BDB7DB" stroke-width="1.3" />
<line x1="1189.9" y1="488.0" x2="1189.9" y2="542.4" stroke="#BDB7DB" stroke-width="1.3" />
<line x1="1186.1" y1="488.0" x2="1193.7" y2="488.0" stroke="#BDB7DB" stroke-width="1.3" />
<line x1="1186.1" y1="542.4" x2="1193.7" y2="542.4" stroke="#BDB7DB" stroke-width="1.3" />
<line x1="1266.9" y1="458.9" x2="1266.9" y2="485.3" stroke="#BDB7DB" stroke-width="1.3" />
<line x1="1263.1" y1="458.9" x2="1270.7" y2="458.9" stroke="#BDB7DB" stroke-width="1.3" />
<line x1="1263.1" y1="485.3" x2="1270.7" y2="485.3" stroke="#BDB7DB" stroke-width="1.3" />
<line x1="1343.9" y1="456.2" x2="1343.9" y2="518.5" stroke="#BDB7DB" stroke-width="1.3" />
<line x1="1340.1" y1="456.2" x2="1347.7" y2="456.2" stroke="#BDB7DB" stroke-width="1.3" />
<line x1="1340.1" y1="518.5" x2="1347.7" y2="518.5" stroke="#BDB7DB" stroke-width="1.3" />
<polyline points="1035.6,563.7 1112.6,475.8 1189.9,515.2 1266.9,472.2 1343.9,487.2" fill="none" stroke="#BDB7DB" stroke-width="2.1" stroke-linejoin="round"/>
<circle cx="1035.6" cy="563.7" r="4.4" fill="#BDB7DB" />
<circle cx="1112.6" cy="475.8" r="4.4" fill="#BDB7DB" />
<circle cx="1189.9" cy="515.2" r="4.4" fill="#BDB7DB" />
<circle cx="1266.9" cy="472.2" r="4.4" fill="#BDB7DB" />
<circle cx="1343.9" cy="487.2" r="4.4" fill="#BDB7DB" />
<line x1="1035.6" y1="460.0" x2="1035.6" y2="481.8" stroke="#EE7B6E" stroke-width="1.3" />
<line x1="1031.8" y1="460.0" x2="1039.4" y2="460.0" stroke="#EE7B6E" stroke-width="1.3" />
<line x1="1031.8" y1="481.8" x2="1039.4" y2="481.8" stroke="#EE7B6E" stroke-width="1.3" />
<line x1="1112.6" y1="391.4" x2="1112.6" y2="414.6" stroke="#EE7B6E" stroke-width="1.3" />
<line x1="1108.8" y1="391.4" x2="1116.4" y2="391.4" stroke="#EE7B6E" stroke-width="1.3" />
<line x1="1108.8" y1="414.6" x2="1116.4" y2="414.6" stroke="#EE7B6E" stroke-width="1.3" />
<line x1="1189.9" y1="319.3" x2="1189.9" y2="355.5" stroke="#EE7B6E" stroke-width="1.3" />
<line x1="1186.1" y1="319.3" x2="1193.7" y2="319.3" stroke="#EE7B6E" stroke-width="1.3" />
<line x1="1186.1" y1="355.5" x2="1193.7" y2="355.5" stroke="#EE7B6E" stroke-width="1.3" />
<line x1="1266.9" y1="272.2" x2="1266.9" y2="307.1" stroke="#EE7B6E" stroke-width="1.3" />
<line x1="1263.1" y1="272.2" x2="1270.7" y2="272.2" stroke="#EE7B6E" stroke-width="1.3" />
<line x1="1263.1" y1="307.1" x2="1270.7" y2="307.1" stroke="#EE7B6E" stroke-width="1.3" />
<line x1="1343.9" y1="325.6" x2="1343.9" y2="345.2" stroke="#EE7B6E" stroke-width="1.3" />
<line x1="1340.1" y1="325.6" x2="1347.7" y2="325.6" stroke="#EE7B6E" stroke-width="1.3" />
<line x1="1340.1" y1="345.2" x2="1347.7" y2="345.2" stroke="#EE7B6E" stroke-width="1.3" />
<polyline points="1035.6,470.6 1112.6,403.1 1189.9,337.0 1266.9,289.4 1343.9,335.6" fill="none" stroke="#EE7B6E" stroke-width="2.1" stroke-linejoin="round"/>
<circle cx="1035.6" cy="470.6" r="4.4" fill="#EE7B6E" />
<circle cx="1112.6" cy="403.1" r="4.4" fill="#EE7B6E" />
<circle cx="1189.9" cy="337.0" r="4.4" fill="#EE7B6E" />
<circle cx="1266.9" cy="289.4" r="4.4" fill="#EE7B6E" />
<circle cx="1343.9" cy="335.6" r="4.4" fill="#EE7B6E" />
<line x1="1035.6" y1="361.5" x2="1035.6" y2="379.7" stroke="#7BABD0" stroke-width="1.3" />
<line x1="1031.8" y1="361.5" x2="1039.4" y2="361.5" stroke="#7BABD0" stroke-width="1.3" />
<line x1="1031.8" y1="379.7" x2="1039.4" y2="379.7" stroke="#7BABD0" stroke-width="1.3" />
<line x1="1112.6" y1="325.3" x2="1112.6" y2="371.0" stroke="#7BABD0" stroke-width="1.3" />
<line x1="1108.8" y1="325.3" x2="1116.4" y2="325.3" stroke="#7BABD0" stroke-width="1.3" />
<line x1="1108.8" y1="371.0" x2="1116.4" y2="371.0" stroke="#7BABD0" stroke-width="1.3" />
<line x1="1189.9" y1="319.3" x2="1189.9" y2="342.4" stroke="#7BABD0" stroke-width="1.3" />
<line x1="1186.1" y1="319.3" x2="1193.7" y2="319.3" stroke="#7BABD0" stroke-width="1.3" />
<line x1="1186.1" y1="342.4" x2="1193.7" y2="342.4" stroke="#7BABD0" stroke-width="1.3" />
<line x1="1266.9" y1="292.1" x2="1266.9" y2="337.0" stroke="#7BABD0" stroke-width="1.3" />
<line x1="1263.1" y1="292.1" x2="1270.7" y2="292.1" stroke="#7BABD0" stroke-width="1.3" />
<line x1="1263.1" y1="337.0" x2="1270.7" y2="337.0" stroke="#7BABD0" stroke-width="1.3" />
<line x1="1343.9" y1="249.9" x2="1343.9" y2="264.9" stroke="#7BABD0" stroke-width="1.3" />
<line x1="1340.1" y1="249.9" x2="1347.7" y2="249.9" stroke="#7BABD0" stroke-width="1.3" />
<line x1="1340.1" y1="264.9" x2="1347.7" y2="264.9" stroke="#7BABD0" stroke-width="1.3" />
<polyline points="1035.6,370.5 1112.6,347.9 1189.9,331.6 1266.9,314.7 1343.9,257.3" fill="none" stroke="#7BABD0" stroke-width="2.1" stroke-linejoin="round"/>
<circle cx="1035.6" cy="370.5" r="4.4" fill="#7BABD0" />
<circle cx="1112.6" cy="347.9" r="4.4" fill="#7BABD0" />
<circle cx="1189.9" cy="331.6" r="4.4" fill="#7BABD0" />
<circle cx="1266.9" cy="314.7" r="4.4" fill="#7BABD0" />
<circle cx="1343.9" cy="257.3" r="4.4" fill="#7BABD0" />
<rect x="1418.8" y="171.3" width="413.5" height="57.7" fill="#B4B4B4" stroke="none" stroke-width="1" />
<text x="1630.5" y="213.5" font-size="32.1" text-anchor="middle" fill="#000" >phnJ ~ Size | Size</text>
<rect x="1419.0" y="229.3" width="413.2" height="385.6" fill="#fff" stroke="#000" stroke-width="1.3" />
<text x="1822.8" y="587.2" font-size="28.15" text-anchor="end" fill="#000" >ANOVA: <tspan font-style="italic">P</tspan> &lt; 0.001</text>
<line x1="1478.3" y1="398.0" x2="1478.3" y2="456.3" stroke="#333333" stroke-width="1.2" />
<line x1="1478.3" y1="531.7" x2="1478.3" y2="597.2" stroke="#333333" stroke-width="1.2" />
<line x1="1464.3" y1="398.0" x2="1492.3" y2="398.0" stroke="#333333" stroke-width="1.2" />
<line x1="1464.3" y1="597.2" x2="1492.3" y2="597.2" stroke="#333333" stroke-width="1.2" />
<rect x="1441.2" y="456.3" width="74.2" height="75.4" fill="#86CCBF" stroke="#333333" stroke-width="0.9" />
<line x1="1441.2" y1="498.0" x2="1515.4" y2="498.0" stroke="#333333" stroke-width="2.4" />
<circle cx="1464.2" cy="397.8" r="3.2" fill="#86CCBF" fill-opacity="0.42" stroke="#10201c" stroke-opacity="0.62" stroke-width="0.7"/>
<circle cx="1465.0" cy="402.9" r="3.2" fill="#86CCBF" fill-opacity="0.42" stroke="#10201c" stroke-opacity="0.62" stroke-width="0.7"/>
<circle cx="1492.4" cy="404.3" r="3.2" fill="#86CCBF" fill-opacity="0.42" stroke="#10201c" stroke-opacity="0.62" stroke-width="0.7"/>
<circle cx="1487.8" cy="406.7" r="3.2" fill="#86CCBF" fill-opacity="0.42" stroke="#10201c" stroke-opacity="0.62" stroke-width="0.7"/>
<circle cx="1467.5" cy="415.1" r="3.2" fill="#86CCBF" fill-opacity="0.42" stroke="#10201c" stroke-opacity="0.62" stroke-width="0.7"/>
<circle cx="1467.2" cy="432.2" r="3.2" fill="#86CCBF" fill-opacity="0.42" stroke="#10201c" stroke-opacity="0.62" stroke-width="0.7"/>
<circle cx="1496.7" cy="436.0" r="3.2" fill="#86CCBF" fill-opacity="0.42" stroke="#10201c" stroke-opacity="0.62" stroke-width="0.7"/>
<circle cx="1485.6" cy="450.3" r="3.2" fill="#86CCBF" fill-opacity="0.42" stroke="#10201c" stroke-opacity="0.62" stroke-width="0.7"/>
<circle cx="1477.5" cy="452.5" r="3.2" fill="#86CCBF" fill-opacity="0.42" stroke="#10201c" stroke-opacity="0.62" stroke-width="0.7"/>
<circle cx="1486.7" cy="459.3" r="3.2" fill="#86CCBF" fill-opacity="0.42" stroke="#10201c" stroke-opacity="0.62" stroke-width="0.7"/>
<circle cx="1480.2" cy="469.0" r="3.2" fill="#86CCBF" fill-opacity="0.42" stroke="#10201c" stroke-opacity="0.62" stroke-width="0.7"/>
<circle cx="1477.2" cy="481.8" r="3.2" fill="#86CCBF" fill-opacity="0.42" stroke="#10201c" stroke-opacity="0.62" stroke-width="0.7"/>
<circle cx="1492.4" cy="483.7" r="3.2" fill="#86CCBF" fill-opacity="0.42" stroke="#10201c" stroke-opacity="0.62" stroke-width="0.7"/>
<circle cx="1485.1" cy="488.3" r="3.2" fill="#86CCBF" fill-opacity="0.42" stroke="#10201c" stroke-opacity="0.62" stroke-width="0.7"/>
<circle cx="1490.0" cy="489.3" r="3.2" fill="#86CCBF" fill-opacity="0.42" stroke="#10201c" stroke-opacity="0.62" stroke-width="0.7"/>
<circle cx="1465.0" cy="496.4" r="3.2" fill="#86CCBF" fill-opacity="0.42" stroke="#10201c" stroke-opacity="0.62" stroke-width="0.7"/>
<circle cx="1483.5" cy="497.2" r="3.2" fill="#86CCBF" fill-opacity="0.42" stroke="#10201c" stroke-opacity="0.62" stroke-width="0.7"/>
<circle cx="1481.3" cy="498.3" r="3.2" fill="#86CCBF" fill-opacity="0.42" stroke="#10201c" stroke-opacity="0.62" stroke-width="0.7"/>
<circle cx="1497.6" cy="502.4" r="3.2" fill="#86CCBF" fill-opacity="0.42" stroke="#10201c" stroke-opacity="0.62" stroke-width="0.7"/>
<circle cx="1497.6" cy="504.0" r="3.2" fill="#86CCBF" fill-opacity="0.42" stroke="#10201c" stroke-opacity="0.62" stroke-width="0.7"/>
<circle cx="1469.4" cy="511.6" r="3.2" fill="#86CCBF" fill-opacity="0.42" stroke="#10201c" stroke-opacity="0.62" stroke-width="0.7"/>
<circle cx="1484.3" cy="512.4" r="3.2" fill="#86CCBF" fill-opacity="0.42" stroke="#10201c" stroke-opacity="0.62" stroke-width="0.7"/>
<circle cx="1471.8" cy="518.3" r="3.2" fill="#86CCBF" fill-opacity="0.42" stroke="#10201c" stroke-opacity="0.62" stroke-width="0.7"/>
<circle cx="1481.3" cy="518.6" r="3.2" fill="#86CCBF" fill-opacity="0.42" stroke="#10201c" stroke-opacity="0.62" stroke-width="0.7"/>
<circle cx="1459.1" cy="521.3" r="3.2" fill="#86CCBF" fill-opacity="0.42" stroke="#10201c" stroke-opacity="0.62" stroke-width="0.7"/>
<circle cx="1460.2" cy="530.8" r="3.2" fill="#86CCBF" fill-opacity="0.42" stroke="#10201c" stroke-opacity="0.62" stroke-width="0.7"/>
<circle cx="1489.4" cy="532.4" r="3.2" fill="#86CCBF" fill-opacity="0.42" stroke="#10201c" stroke-opacity="0.62" stroke-width="0.7"/>
<circle cx="1491.3" cy="533.5" r="3.2" fill="#86CCBF" fill-opacity="0.42" stroke="#10201c" stroke-opacity="0.62" stroke-width="0.7"/>
<circle cx="1471.3" cy="542.2" r="3.2" fill="#86CCBF" fill-opacity="0.42" stroke="#10201c" stroke-opacity="0.62" stroke-width="0.7"/>
<circle cx="1483.2" cy="547.9" r="3.2" fill="#86CCBF" fill-opacity="0.42" stroke="#10201c" stroke-opacity="0.62" stroke-width="0.7"/>
<circle cx="1460.2" cy="560.6" r="3.2" fill="#86CCBF" fill-opacity="0.42" stroke="#10201c" stroke-opacity="0.62" stroke-width="0.7"/>
<circle cx="1479.1" cy="558.4" r="3.2" fill="#86CCBF" fill-opacity="0.42" stroke="#10201c" stroke-opacity="0.62" stroke-width="0.7"/>
<circle cx="1482.6" cy="559.8" r="3.2" fill="#86CCBF" fill-opacity="0.42" stroke="#10201c" stroke-opacity="0.62" stroke-width="0.7"/>
<circle cx="1472.6" cy="572.0" r="3.2" fill="#86CCBF" fill-opacity="0.42" stroke="#10201c" stroke-opacity="0.62" stroke-width="0.7"/>
<circle cx="1459.9" cy="597.2" r="3.2" fill="#86CCBF" fill-opacity="0.42" stroke="#10201c" stroke-opacity="0.62" stroke-width="0.7"/>
<line x1="1576.4" y1="434.6" x2="1576.4" y2="468.2" stroke="#333333" stroke-width="1.2" />
<line x1="1576.4" y1="527.6" x2="1576.4" y2="597.2" stroke="#333333" stroke-width="1.2" />
<line x1="1562.4" y1="434.6" x2="1590.4" y2="434.6" stroke="#333333" stroke-width="1.2" />
<line x1="1562.4" y1="597.2" x2="1590.4" y2="597.2" stroke="#333333" stroke-width="1.2" />
<rect x="1539.3" y="468.2" width="74.3" height="59.4" fill="#BDB7DB" stroke="#333333" stroke-width="0.9" />
<line x1="1539.3" y1="479.3" x2="1613.6" y2="479.3" stroke="#333333" stroke-width="2.4" />
<circle cx="1558.0" cy="434.9" r="3.2" fill="#BDB7DB" fill-opacity="0.42" stroke="#10201c" stroke-opacity="0.62" stroke-width="0.7"/>
<circle cx="1560.1" cy="452.5" r="3.2" fill="#BDB7DB" fill-opacity="0.42" stroke="#10201c" stroke-opacity="0.62" stroke-width="0.7"/>
<circle cx="1565.3" cy="452.0" r="3.2" fill="#BDB7DB" fill-opacity="0.42" stroke="#10201c" stroke-opacity="0.62" stroke-width="0.7"/>
<circle cx="1562.3" cy="463.9" r="3.2" fill="#BDB7DB" fill-opacity="0.42" stroke="#10201c" stroke-opacity="0.62" stroke-width="0.7"/>
<circle cx="1575.6" cy="462.5" r="3.2" fill="#BDB7DB" fill-opacity="0.42" stroke="#10201c" stroke-opacity="0.62" stroke-width="0.7"/>
<circle cx="1581.0" cy="464.7" r="3.2" fill="#BDB7DB" fill-opacity="0.42" stroke="#10201c" stroke-opacity="0.62" stroke-width="0.7"/>
<circle cx="1574.8" cy="466.0" r="3.2" fill="#BDB7DB" fill-opacity="0.42" stroke="#10201c" stroke-opacity="0.62" stroke-width="0.7"/>
<circle cx="1582.4" cy="468.2" r="3.2" fill="#BDB7DB" fill-opacity="0.42" stroke="#10201c" stroke-opacity="0.62" stroke-width="0.7"/>
<circle cx="1574.0" cy="467.4" r="3.2" fill="#BDB7DB" fill-opacity="0.42" stroke="#10201c" stroke-opacity="0.62" stroke-width="0.7"/>
<circle cx="1561.2" cy="472.8" r="3.2" fill="#BDB7DB" fill-opacity="0.42" stroke="#10201c" stroke-opacity="0.62" stroke-width="0.7"/>
<circle cx="1569.4" cy="475.3" r="3.2" fill="#BDB7DB" fill-opacity="0.42" stroke="#10201c" stroke-opacity="0.62" stroke-width="0.7"/>
<circle cx="1578.8" cy="471.2" r="3.2" fill="#BDB7DB" fill-opacity="0.42" stroke="#10201c" stroke-opacity="0.62" stroke-width="0.7"/>
<circle cx="1576.1" cy="475.3" r="3.2" fill="#BDB7DB" fill-opacity="0.42" stroke="#10201c" stroke-opacity="0.62" stroke-width="0.7"/>
<circle cx="1587.0" cy="476.9" r="3.2" fill="#BDB7DB" fill-opacity="0.42" stroke="#10201c" stroke-opacity="0.62" stroke-width="0.7"/>
<circle cx="1594.6" cy="474.4" r="3.2" fill="#BDB7DB" fill-opacity="0.42" stroke="#10201c" stroke-opacity="0.62" stroke-width="0.7"/>
<circle cx="1562.0" cy="479.6" r="3.2" fill="#BDB7DB" fill-opacity="0.42" stroke="#10201c" stroke-opacity="0.62" stroke-width="0.7"/>
<circle cx="1588.3" cy="484.5" r="3.2" fill="#BDB7DB" fill-opacity="0.42" stroke="#10201c" stroke-opacity="0.62" stroke-width="0.7"/>
<circle cx="1585.9" cy="487.7" r="3.2" fill="#BDB7DB" fill-opacity="0.42" stroke="#10201c" stroke-opacity="0.62" stroke-width="0.7"/>
<circle cx="1568.8" cy="489.6" r="3.2" fill="#BDB7DB" fill-opacity="0.42" stroke="#10201c" stroke-opacity="0.62" stroke-width="0.7"/>
<circle cx="1559.3" cy="498.6" r="3.2" fill="#BDB7DB" fill-opacity="0.42" stroke="#10201c" stroke-opacity="0.62" stroke-width="0.7"/>
<circle cx="1575.9" cy="500.2" r="3.2" fill="#BDB7DB" fill-opacity="0.42" stroke="#10201c" stroke-opacity="0.62" stroke-width="0.7"/>
<circle cx="1593.2" cy="500.7" r="3.2" fill="#BDB7DB" fill-opacity="0.42" stroke="#10201c" stroke-opacity="0.62" stroke-width="0.7"/>
<circle cx="1557.4" cy="505.1" r="3.2" fill="#BDB7DB" fill-opacity="0.42" stroke="#10201c" stroke-opacity="0.62" stroke-width="0.7"/>
<circle cx="1592.4" cy="521.1" r="3.2" fill="#BDB7DB" fill-opacity="0.42" stroke="#10201c" stroke-opacity="0.62" stroke-width="0.7"/>
<circle cx="1562.3" cy="534.9" r="3.2" fill="#BDB7DB" fill-opacity="0.42" stroke="#10201c" stroke-opacity="0.62" stroke-width="0.7"/>
<circle cx="1579.4" cy="533.8" r="3.2" fill="#BDB7DB" fill-opacity="0.42" stroke="#10201c" stroke-opacity="0.62" stroke-width="0.7"/>
<circle cx="1585.1" cy="537.6" r="3.2" fill="#BDB7DB" fill-opacity="0.42" stroke="#10201c" stroke-opacity="0.62" stroke-width="0.7"/>
<circle cx="1586.4" cy="543.0" r="3.2" fill="#BDB7DB" fill-opacity="0.42" stroke="#10201c" stroke-opacity="0.62" stroke-width="0.7"/>
<circle cx="1578.8" cy="546.3" r="3.2" fill="#BDB7DB" fill-opacity="0.42" stroke="#10201c" stroke-opacity="0.62" stroke-width="0.7"/>
<circle cx="1581.6" cy="549.0" r="3.2" fill="#BDB7DB" fill-opacity="0.42" stroke="#10201c" stroke-opacity="0.62" stroke-width="0.7"/>
<circle cx="1570.2" cy="577.4" r="3.2" fill="#BDB7DB" fill-opacity="0.42" stroke="#10201c" stroke-opacity="0.62" stroke-width="0.7"/>
<circle cx="1579.9" cy="588.5" r="3.2" fill="#BDB7DB" fill-opacity="0.42" stroke="#10201c" stroke-opacity="0.62" stroke-width="0.7"/>
<circle cx="1568.3" cy="597.2" r="3.2" fill="#BDB7DB" fill-opacity="0.42" stroke="#10201c" stroke-opacity="0.62" stroke-width="0.7"/>
<line x1="1675.3" y1="254.7" x2="1675.3" y2="320.0" stroke="#333333" stroke-width="1.2" />
<line x1="1675.3" y1="402.4" x2="1675.3" y2="486.4" stroke="#333333" stroke-width="1.2" />
<line x1="1661.3" y1="254.7" x2="1689.3" y2="254.7" stroke="#333333" stroke-width="1.2" />
<line x1="1661.3" y1="486.4" x2="1689.3" y2="486.4" stroke="#333333" stroke-width="1.2" />
<rect x="1638.2" y="320.0" width="74.3" height="82.4" fill="#EE7B6E" stroke="#333333" stroke-width="0.9" />
<line x1="1638.2" y1="347.6" x2="1712.5" y2="347.6" stroke="#333333" stroke-width="2.4" />
<circle cx="1665.6" cy="254.7" r="3.2" fill="#EE7B6E" fill-opacity="0.42" stroke="#10201c" stroke-opacity="0.62" stroke-width="0.7"/>
<circle cx="1672.3" cy="291.0" r="3.2" fill="#EE7B6E" fill-opacity="0.42" stroke="#10201c" stroke-opacity="0.62" stroke-width="0.7"/>
<circle cx="1681.8" cy="294.5" r="3.2" fill="#EE7B6E" fill-opacity="0.42" stroke="#10201c" stroke-opacity="0.62" stroke-width="0.7"/>
<circle cx="1675.9" cy="298.0" r="3.2" fill="#EE7B6E" fill-opacity="0.42" stroke="#10201c" stroke-opacity="0.62" stroke-width="0.7"/>
<circle cx="1687.0" cy="300.8" r="3.2" fill="#EE7B6E" fill-opacity="0.42" stroke="#10201c" stroke-opacity="0.62" stroke-width="0.7"/>
<circle cx="1672.6" cy="302.1" r="3.2" fill="#EE7B6E" fill-opacity="0.42" stroke="#10201c" stroke-opacity="0.62" stroke-width="0.7"/>
<circle cx="1658.5" cy="309.7" r="3.2" fill="#EE7B6E" fill-opacity="0.42" stroke="#10201c" stroke-opacity="0.62" stroke-width="0.7"/>
<circle cx="1663.9" cy="317.6" r="3.2" fill="#EE7B6E" fill-opacity="0.42" stroke="#10201c" stroke-opacity="0.62" stroke-width="0.7"/>
<circle cx="1660.4" cy="321.6" r="3.2" fill="#EE7B6E" fill-opacity="0.42" stroke="#10201c" stroke-opacity="0.62" stroke-width="0.7"/>
<circle cx="1685.9" cy="328.7" r="3.2" fill="#EE7B6E" fill-opacity="0.42" stroke="#10201c" stroke-opacity="0.62" stroke-width="0.7"/>
<circle cx="1681.3" cy="332.2" r="3.2" fill="#EE7B6E" fill-opacity="0.42" stroke="#10201c" stroke-opacity="0.62" stroke-width="0.7"/>
<circle cx="1688.6" cy="333.3" r="3.2" fill="#EE7B6E" fill-opacity="0.42" stroke="#10201c" stroke-opacity="0.62" stroke-width="0.7"/>
<circle cx="1658.5" cy="337.3" r="3.2" fill="#EE7B6E" fill-opacity="0.42" stroke="#10201c" stroke-opacity="0.62" stroke-width="0.7"/>
<circle cx="1666.4" cy="338.1" r="3.2" fill="#EE7B6E" fill-opacity="0.42" stroke="#10201c" stroke-opacity="0.62" stroke-width="0.7"/>
<circle cx="1678.6" cy="344.1" r="3.2" fill="#EE7B6E" fill-opacity="0.42" stroke="#10201c" stroke-opacity="0.62" stroke-width="0.7"/>
<circle cx="1691.8" cy="347.4" r="3.2" fill="#EE7B6E" fill-opacity="0.42" stroke="#10201c" stroke-opacity="0.62" stroke-width="0.7"/>
<circle cx="1672.3" cy="348.2" r="3.2" fill="#EE7B6E" fill-opacity="0.42" stroke="#10201c" stroke-opacity="0.62" stroke-width="0.7"/>
<circle cx="1665.6" cy="349.3" r="3.2" fill="#EE7B6E" fill-opacity="0.42" stroke="#10201c" stroke-opacity="0.62" stroke-width="0.7"/>
<circle cx="1659.6" cy="354.1" r="3.2" fill="#EE7B6E" fill-opacity="0.42" stroke="#10201c" stroke-opacity="0.62" stroke-width="0.7"/>
<circle cx="1676.7" cy="389.1" r="3.2" fill="#EE7B6E" fill-opacity="0.42" stroke="#10201c" stroke-opacity="0.62" stroke-width="0.7"/>
<circle cx="1673.7" cy="394.8" r="3.2" fill="#EE7B6E" fill-opacity="0.42" stroke="#10201c" stroke-opacity="0.62" stroke-width="0.7"/>
<circle cx="1655.8" cy="395.6" r="3.2" fill="#EE7B6E" fill-opacity="0.42" stroke="#10201c" stroke-opacity="0.62" stroke-width="0.7"/>
<circle cx="1683.4" cy="398.8" r="3.2" fill="#EE7B6E" fill-opacity="0.42" stroke="#10201c" stroke-opacity="0.62" stroke-width="0.7"/>
<circle cx="1660.7" cy="402.4" r="3.2" fill="#EE7B6E" fill-opacity="0.42" stroke="#10201c" stroke-opacity="0.62" stroke-width="0.7"/>
<circle cx="1671.8" cy="402.4" r="3.2" fill="#EE7B6E" fill-opacity="0.42" stroke="#10201c" stroke-opacity="0.62" stroke-width="0.7"/>
<circle cx="1665.3" cy="423.2" r="3.2" fill="#EE7B6E" fill-opacity="0.42" stroke="#10201c" stroke-opacity="0.62" stroke-width="0.7"/>
<circle cx="1665.8" cy="453.0" r="3.2" fill="#EE7B6E" fill-opacity="0.42" stroke="#10201c" stroke-opacity="0.62" stroke-width="0.7"/>
<circle cx="1656.9" cy="460.6" r="3.2" fill="#EE7B6E" fill-opacity="0.42" stroke="#10201c" stroke-opacity="0.62" stroke-width="0.7"/>
<circle cx="1659.1" cy="460.1" r="3.2" fill="#EE7B6E" fill-opacity="0.42" stroke="#10201c" stroke-opacity="0.62" stroke-width="0.7"/>
<circle cx="1684.5" cy="462.3" r="3.2" fill="#EE7B6E" fill-opacity="0.42" stroke="#10201c" stroke-opacity="0.62" stroke-width="0.7"/>
<circle cx="1693.5" cy="467.1" r="3.2" fill="#EE7B6E" fill-opacity="0.42" stroke="#10201c" stroke-opacity="0.62" stroke-width="0.7"/>
<circle cx="1691.6" cy="472.3" r="3.2" fill="#EE7B6E" fill-opacity="0.42" stroke="#10201c" stroke-opacity="0.62" stroke-width="0.7"/>
<circle cx="1681.3" cy="486.4" r="3.2" fill="#EE7B6E" fill-opacity="0.42" stroke="#10201c" stroke-opacity="0.62" stroke-width="0.7"/>
<line x1="1773.3" y1="250.1" x2="1773.3" y2="300.0" stroke="#333333" stroke-width="1.2" />
<line x1="1773.3" y1="356.3" x2="1773.3" y2="376.1" stroke="#333333" stroke-width="1.2" />
<line x1="1759.3" y1="250.1" x2="1787.3" y2="250.1" stroke="#333333" stroke-width="1.2" />
<line x1="1759.3" y1="376.1" x2="1787.3" y2="376.1" stroke="#333333" stroke-width="1.2" />
<rect x="1736.3" y="300.0" width="74.0" height="56.3" fill="#7BABD0" stroke="#333333" stroke-width="0.9" />
<line x1="1736.3" y1="330.8" x2="1810.3" y2="330.8" stroke="#333333" stroke-width="2.4" />
<circle cx="1762.6" cy="249.8" r="3.2" fill="#7BABD0" fill-opacity="0.42" stroke="#10201c" stroke-opacity="0.62" stroke-width="0.7"/>
<circle cx="1767.2" cy="254.4" r="3.2" fill="#7BABD0" fill-opacity="0.42" stroke="#10201c" stroke-opacity="0.62" stroke-width="0.7"/>
<circle cx="1772.3" cy="258.7" r="3.2" fill="#7BABD0" fill-opacity="0.42" stroke="#10201c" stroke-opacity="0.62" stroke-width="0.7"/>
<circle cx="1759.3" cy="260.9" r="3.2" fill="#7BABD0" fill-opacity="0.42" stroke="#10201c" stroke-opacity="0.62" stroke-width="0.7"/>
<circle cx="1778.6" cy="263.4" r="3.2" fill="#7BABD0" fill-opacity="0.42" stroke="#10201c" stroke-opacity="0.62" stroke-width="0.7"/>
<circle cx="1754.2" cy="265.5" r="3.2" fill="#7BABD0" fill-opacity="0.42" stroke="#10201c" stroke-opacity="0.62" stroke-width="0.7"/>
<circle cx="1775.6" cy="270.7" r="3.2" fill="#7BABD0" fill-opacity="0.42" stroke="#10201c" stroke-opacity="0.62" stroke-width="0.7"/>
<circle cx="1773.9" cy="279.9" r="3.2" fill="#7BABD0" fill-opacity="0.42" stroke="#10201c" stroke-opacity="0.62" stroke-width="0.7"/>
<circle cx="1778.6" cy="294.0" r="3.2" fill="#7BABD0" fill-opacity="0.42" stroke="#10201c" stroke-opacity="0.62" stroke-width="0.7"/>
<circle cx="1790.2" cy="307.3" r="3.2" fill="#7BABD0" fill-opacity="0.42" stroke="#10201c" stroke-opacity="0.62" stroke-width="0.7"/>
<circle cx="1770.7" cy="315.9" r="3.2" fill="#7BABD0" fill-opacity="0.42" stroke="#10201c" stroke-opacity="0.62" stroke-width="0.7"/>
<circle cx="1759.3" cy="318.1" r="3.2" fill="#7BABD0" fill-opacity="0.42" stroke="#10201c" stroke-opacity="0.62" stroke-width="0.7"/>
<circle cx="1790.5" cy="320.0" r="3.2" fill="#7BABD0" fill-opacity="0.42" stroke="#10201c" stroke-opacity="0.62" stroke-width="0.7"/>
<circle cx="1764.7" cy="322.2" r="3.2" fill="#7BABD0" fill-opacity="0.42" stroke="#10201c" stroke-opacity="0.62" stroke-width="0.7"/>
<circle cx="1764.5" cy="324.9" r="3.2" fill="#7BABD0" fill-opacity="0.42" stroke="#10201c" stroke-opacity="0.62" stroke-width="0.7"/>
<circle cx="1784.8" cy="326.0" r="3.2" fill="#7BABD0" fill-opacity="0.42" stroke="#10201c" stroke-opacity="0.62" stroke-width="0.7"/>
<circle cx="1782.9" cy="330.6" r="3.2" fill="#7BABD0" fill-opacity="0.42" stroke="#10201c" stroke-opacity="0.62" stroke-width="0.7"/>
<circle cx="1756.6" cy="335.4" r="3.2" fill="#7BABD0" fill-opacity="0.42" stroke="#10201c" stroke-opacity="0.62" stroke-width="0.7"/>
<circle cx="1777.5" cy="335.7" r="3.2" fill="#7BABD0" fill-opacity="0.42" stroke="#10201c" stroke-opacity="0.62" stroke-width="0.7"/>
<circle cx="1773.1" cy="337.1" r="3.2" fill="#7BABD0" fill-opacity="0.42" stroke="#10201c" stroke-opacity="0.62" stroke-width="0.7"/>
<circle cx="1781.5" cy="343.8" r="3.2" fill="#7BABD0" fill-opacity="0.42" stroke="#10201c" stroke-opacity="0.62" stroke-width="0.7"/>
<circle cx="1774.8" cy="346.8" r="3.2" fill="#7BABD0" fill-opacity="0.42" stroke="#10201c" stroke-opacity="0.62" stroke-width="0.7"/>
<circle cx="1784.8" cy="349.0" r="3.2" fill="#7BABD0" fill-opacity="0.42" stroke="#10201c" stroke-opacity="0.62" stroke-width="0.7"/>
<circle cx="1790.5" cy="352.5" r="3.2" fill="#7BABD0" fill-opacity="0.42" stroke="#10201c" stroke-opacity="0.62" stroke-width="0.7"/>
<circle cx="1773.4" cy="356.3" r="3.2" fill="#7BABD0" fill-opacity="0.42" stroke="#10201c" stroke-opacity="0.62" stroke-width="0.7"/>
<circle cx="1776.9" cy="357.9" r="3.2" fill="#7BABD0" fill-opacity="0.42" stroke="#10201c" stroke-opacity="0.62" stroke-width="0.7"/>
<circle cx="1757.7" cy="363.1" r="3.2" fill="#7BABD0" fill-opacity="0.42" stroke="#10201c" stroke-opacity="0.62" stroke-width="0.7"/>
<circle cx="1757.7" cy="365.8" r="3.2" fill="#7BABD0" fill-opacity="0.42" stroke="#10201c" stroke-opacity="0.62" stroke-width="0.7"/>
<circle cx="1763.9" cy="373.1" r="3.2" fill="#7BABD0" fill-opacity="0.42" stroke="#10201c" stroke-opacity="0.62" stroke-width="0.7"/>
<circle cx="1767.4" cy="375.8" r="3.2" fill="#7BABD0" fill-opacity="0.42" stroke="#10201c" stroke-opacity="0.62" stroke-width="0.7"/>
<circle cx="1787.2" cy="374.5" r="3.2" fill="#7BABD0" fill-opacity="0.42" stroke="#10201c" stroke-opacity="0.62" stroke-width="0.7"/>
<circle cx="1789.9" cy="373.9" r="3.2" fill="#7BABD0" fill-opacity="0.42" stroke="#10201c" stroke-opacity="0.62" stroke-width="0.7"/>
<rect x="107.8" y="669.5" width="399.2" height="56.9" fill="#B4B4B4" stroke="none" stroke-width="1" />
<text x="311.4" y="711.3" font-size="32.1" text-anchor="middle" fill="#000" >mcrA ~ Lake | Lake</text>
<rect x="108.0" y="726.3" width="399.0" height="374.2" fill="#fff" stroke="#000" stroke-width="1.3" />
<line x1="102.2" y1="827.1" x2="108.0" y2="827.1" stroke="#111" stroke-width="1.2" />
<text x="98.7" y="836.5" font-size="28.6" text-anchor="end" fill="#000" >10</text>
<line x1="102.2" y1="966.2" x2="108.0" y2="966.2" stroke="#111" stroke-width="1.2" />
<text x="98.7" y="975.6" font-size="28.6" text-anchor="end" fill="#000" >5</text>
<text x="123.0" y="764.8" font-size="28.15" text-anchor="start" fill="#000" >ANOVA: <tspan font-style="italic">P</tspan> &lt; 0.001</text>
<line x1="154.1" y1="870.9" x2="154.1" y2="926.7" stroke="#333333" stroke-width="1.2" />
<line x1="154.1" y1="1015.9" x2="154.1" y2="1084.5" stroke="#333333" stroke-width="1.2" />
<line x1="142.1" y1="870.9" x2="166.1" y2="870.9" stroke="#333333" stroke-width="1.2" />
<line x1="142.1" y1="1084.5" x2="166.1" y2="1084.5" stroke="#333333" stroke-width="1.2" />
<rect x="125.2" y="926.7" width="57.7" height="89.2" fill="#EFB030" stroke="#333333" stroke-width="1.3" />
<line x1="125.2" y1="975.6" x2="182.9" y2="975.6" stroke="#333333" stroke-width="2.4" />
<circle cx="148.6" cy="870.9" r="3.2" fill="#EFB030" fill-opacity="0.42" stroke="#10201c" stroke-opacity="0.62" stroke-width="0.7"/>
<circle cx="169.5" cy="889.1" r="3.2" fill="#EFB030" fill-opacity="0.42" stroke="#10201c" stroke-opacity="0.62" stroke-width="0.7"/>
<circle cx="148.8" cy="894.6" r="3.2" fill="#EFB030" fill-opacity="0.42" stroke="#10201c" stroke-opacity="0.62" stroke-width="0.7"/>
<circle cx="163.3" cy="897.6" r="3.2" fill="#EFB030" fill-opacity="0.42" stroke="#10201c" stroke-opacity="0.62" stroke-width="0.7"/>
<circle cx="141.0" cy="909.8" r="3.2" fill="#EFB030" fill-opacity="0.42" stroke="#10201c" stroke-opacity="0.62" stroke-width="0.7"/>
<circle cx="153.7" cy="912.5" r="3.2" fill="#EFB030" fill-opacity="0.42" stroke="#10201c" stroke-opacity="0.62" stroke-width="0.7"/>
<circle cx="151.8" cy="918.0" r="3.2" fill="#EFB030" fill-opacity="0.42" stroke="#10201c" stroke-opacity="0.62" stroke-width="0.7"/>
<circle cx="139.6" cy="929.4" r="3.2" fill="#EFB030" fill-opacity="0.42" stroke="#10201c" stroke-opacity="0.62" stroke-width="0.7"/>
<circle cx="155.6" cy="940.5" r="3.2" fill="#EFB030" fill-opacity="0.42" stroke="#10201c" stroke-opacity="0.62" stroke-width="0.7"/>
<circle cx="161.6" cy="948.2" r="3.2" fill="#EFB030" fill-opacity="0.42" stroke="#10201c" stroke-opacity="0.62" stroke-width="0.7"/>
<circle cx="163.8" cy="952.0" r="3.2" fill="#EFB030" fill-opacity="0.42" stroke="#10201c" stroke-opacity="0.62" stroke-width="0.7"/>
<circle cx="152.1" cy="962.3" r="3.2" fill="#EFB030" fill-opacity="0.42" stroke="#10201c" stroke-opacity="0.62" stroke-width="0.7"/>
<circle cx="166.0" cy="972.4" r="3.2" fill="#EFB030" fill-opacity="0.42" stroke="#10201c" stroke-opacity="0.62" stroke-width="0.7"/>
<circle cx="143.1" cy="974.0" r="3.2" fill="#EFB030" fill-opacity="0.42" stroke="#10201c" stroke-opacity="0.62" stroke-width="0.7"/>
<circle cx="140.4" cy="976.7" r="3.2" fill="#EFB030" fill-opacity="0.42" stroke="#10201c" stroke-opacity="0.62" stroke-width="0.7"/>
<circle cx="155.9" cy="978.9" r="3.2" fill="#EFB030" fill-opacity="0.42" stroke="#10201c" stroke-opacity="0.62" stroke-width="0.7"/>
<circle cx="149.4" cy="982.2" r="3.2" fill="#EFB030" fill-opacity="0.42" stroke="#10201c" stroke-opacity="0.62" stroke-width="0.7"/>
<circle cx="139.9" cy="984.4" r="3.2" fill="#EFB030" fill-opacity="0.42" stroke="#10201c" stroke-opacity="0.62" stroke-width="0.7"/>
<circle cx="158.6" cy="983.3" r="3.2" fill="#EFB030" fill-opacity="0.42" stroke="#10201c" stroke-opacity="0.62" stroke-width="0.7"/>
<circle cx="162.7" cy="983.8" r="3.2" fill="#EFB030" fill-opacity="0.42" stroke="#10201c" stroke-opacity="0.62" stroke-width="0.7"/>
<circle cx="152.7" cy="997.7" r="3.2" fill="#EFB030" fill-opacity="0.42" stroke="#10201c" stroke-opacity="0.62" stroke-width="0.7"/>
<circle cx="142.0" cy="1073.1" r="3.2" fill="#EFB030" fill-opacity="0.42" stroke="#10201c" stroke-opacity="0.62" stroke-width="0.7"/>
<circle cx="164.1" cy="1070.3" r="3.2" fill="#EFB030" fill-opacity="0.42" stroke="#10201c" stroke-opacity="0.62" stroke-width="0.7"/>
<circle cx="165.2" cy="1074.4" r="3.2" fill="#EFB030" fill-opacity="0.42" stroke="#10201c" stroke-opacity="0.62" stroke-width="0.7"/>
<circle cx="145.9" cy="1078.2" r="3.2" fill="#EFB030" fill-opacity="0.42" stroke="#10201c" stroke-opacity="0.62" stroke-width="0.7"/>
<circle cx="167.3" cy="1079.3" r="3.2" fill="#EFB030" fill-opacity="0.42" stroke="#10201c" stroke-opacity="0.62" stroke-width="0.7"/>
<circle cx="143.4" cy="1083.1" r="3.2" fill="#EFB030" fill-opacity="0.42" stroke="#10201c" stroke-opacity="0.62" stroke-width="0.7"/>
<circle cx="168.2" cy="1084.5" r="3.2" fill="#EFB030" fill-opacity="0.42" stroke="#10201c" stroke-opacity="0.62" stroke-width="0.7"/>
<line x1="230.9" y1="777.6" x2="230.9" y2="852.4" stroke="#333333" stroke-width="1.2" />
<line x1="230.9" y1="967.5" x2="230.9" y2="1006.4" stroke="#333333" stroke-width="1.2" />
<line x1="218.9" y1="777.6" x2="242.9" y2="777.6" stroke="#333333" stroke-width="1.2" />
<line x1="218.9" y1="1006.4" x2="242.9" y2="1006.4" stroke="#333333" stroke-width="1.2" />
<rect x="201.9" y="852.4" width="58.0" height="115.1" fill="#BDB7DB" stroke="#333333" stroke-width="1.3" />
<line x1="201.9" y1="919.9" x2="259.9" y2="919.9" stroke="#333333" stroke-width="2.4" />
<circle cx="243.3" cy="777.6" r="3.2" fill="#BDB7DB" fill-opacity="0.42" stroke="#10201c" stroke-opacity="0.62" stroke-width="0.7"/>
<circle cx="218.8" cy="796.1" r="3.2" fill="#BDB7DB" fill-opacity="0.42" stroke="#10201c" stroke-opacity="0.62" stroke-width="0.7"/>
<circle cx="244.1" cy="799.3" r="3.2" fill="#BDB7DB" fill-opacity="0.42" stroke="#10201c" stroke-opacity="0.62" stroke-width="0.7"/>
<circle cx="216.6" cy="807.8" r="3.2" fill="#BDB7DB" fill-opacity="0.42" stroke="#10201c" stroke-opacity="0.62" stroke-width="0.7"/>
<circle cx="228.3" cy="806.7" r="3.2" fill="#BDB7DB" fill-opacity="0.42" stroke="#10201c" stroke-opacity="0.62" stroke-width="0.7"/>
<circle cx="235.6" cy="813.5" r="3.2" fill="#BDB7DB" fill-opacity="0.42" stroke="#10201c" stroke-opacity="0.62" stroke-width="0.7"/>
<circle cx="241.9" cy="819.7" r="3.2" fill="#BDB7DB" fill-opacity="0.42" stroke="#10201c" stroke-opacity="0.62" stroke-width="0.7"/>
<circle cx="245.7" cy="863.3" r="3.2" fill="#BDB7DB" fill-opacity="0.42" stroke="#10201c" stroke-opacity="0.62" stroke-width="0.7"/>
<circle cx="228.3" cy="871.2" r="3.2" fill="#BDB7DB" fill-opacity="0.42" stroke="#10201c" stroke-opacity="0.62" stroke-width="0.7"/>
<circle cx="217.4" cy="875.8" r="3.2" fill="#BDB7DB" fill-opacity="0.42" stroke="#10201c" stroke-opacity="0.62" stroke-width="0.7"/>
<circle cx="225.6" cy="882.3" r="3.2" fill="#BDB7DB" fill-opacity="0.42" stroke="#10201c" stroke-opacity="0.62" stroke-width="0.7"/>
<circle cx="232.9" cy="887.5" r="3.2" fill="#BDB7DB" fill-opacity="0.42" stroke="#10201c" stroke-opacity="0.62" stroke-width="0.7"/>
<circle cx="239.2" cy="897.8" r="3.2" fill="#BDB7DB" fill-opacity="0.42" stroke="#10201c" stroke-opacity="0.62" stroke-width="0.7"/>
<circle cx="230.2" cy="905.4" r="3.2" fill="#BDB7DB" fill-opacity="0.42" stroke="#10201c" stroke-opacity="0.62" stroke-width="0.7"/>
<circle cx="225.6" cy="934.8" r="3.2" fill="#BDB7DB" fill-opacity="0.42" stroke="#10201c" stroke-opacity="0.62" stroke-width="0.7"/>
<circle cx="235.1" cy="937.3" r="3.2" fill="#BDB7DB" fill-opacity="0.42" stroke="#10201c" stroke-opacity="0.62" stroke-width="0.7"/>
<circle cx="233.2" cy="943.8" r="3.2" fill="#BDB7DB" fill-opacity="0.42" stroke="#10201c" stroke-opacity="0.62" stroke-width="0.7"/>
<circle cx="236.7" cy="947.6" r="3.2" fill="#BDB7DB" fill-opacity="0.42" stroke="#10201c" stroke-opacity="0.62" stroke-width="0.7"/>
<circle cx="217.4" cy="950.1" r="3.2" fill="#BDB7DB" fill-opacity="0.42" stroke="#10201c" stroke-opacity="0.62" stroke-width="0.7"/>
<circle cx="227.2" cy="953.3" r="3.2" fill="#BDB7DB" fill-opacity="0.42" stroke="#10201c" stroke-opacity="0.62" stroke-width="0.7"/>
<circle cx="216.3" cy="961.5" r="3.2" fill="#BDB7DB" fill-opacity="0.42" stroke="#10201c" stroke-opacity="0.62" stroke-width="0.7"/>
<circle cx="239.7" cy="984.1" r="3.2" fill="#BDB7DB" fill-opacity="0.42" stroke="#10201c" stroke-opacity="0.62" stroke-width="0.7"/>
<circle cx="230.2" cy="985.7" r="3.2" fill="#BDB7DB" fill-opacity="0.42" stroke="#10201c" stroke-opacity="0.62" stroke-width="0.7"/>
<circle cx="241.1" cy="987.9" r="3.2" fill="#BDB7DB" fill-opacity="0.42" stroke="#10201c" stroke-opacity="0.62" stroke-width="0.7"/>
<circle cx="220.7" cy="999.6" r="3.2" fill="#BDB7DB" fill-opacity="0.42" stroke="#10201c" stroke-opacity="0.62" stroke-width="0.7"/>
<circle cx="231.0" cy="1001.2" r="3.2" fill="#BDB7DB" fill-opacity="0.42" stroke="#10201c" stroke-opacity="0.62" stroke-width="0.7"/>
<circle cx="225.0" cy="1006.1" r="3.2" fill="#BDB7DB" fill-opacity="0.42" stroke="#10201c" stroke-opacity="0.62" stroke-width="0.7"/>
<line x1="307.6" y1="806.4" x2="307.6" y2="837.7" stroke="#333333" stroke-width="1.2" />
<line x1="307.6" y1="1018.1" x2="307.6" y2="1046.9" stroke="#333333" stroke-width="1.2" />
<line x1="295.6" y1="806.4" x2="319.6" y2="806.4" stroke="#333333" stroke-width="1.2" />
<line x1="295.6" y1="1046.9" x2="319.6" y2="1046.9" stroke="#333333" stroke-width="1.2" />
<rect x="278.6" y="837.7" width="58.0" height="180.4" fill="#7BABD0" stroke="#333333" stroke-width="1.3" />
<line x1="278.6" y1="923.4" x2="336.6" y2="923.4" stroke="#333333" stroke-width="2.4" />
<circle cx="321.1" cy="806.9" r="3.2" fill="#7BABD0" fill-opacity="0.42" stroke="#10201c" stroke-opacity="0.62" stroke-width="0.7"/>
<circle cx="313.5" cy="812.7" r="3.2" fill="#7BABD0" fill-opacity="0.42" stroke="#10201c" stroke-opacity="0.62" stroke-width="0.7"/>
<circle cx="312.9" cy="817.8" r="3.2" fill="#7BABD0" fill-opacity="0.42" stroke="#10201c" stroke-opacity="0.62" stroke-width="0.7"/>
<circle cx="314.8" cy="819.2" r="3.2" fill="#7BABD0" fill-opacity="0.42" stroke="#10201c" stroke-opacity="0.62" stroke-width="0.7"/>
<circle cx="317.6" cy="823.0" r="3.2" fill="#7BABD0" fill-opacity="0.42" stroke="#10201c" stroke-opacity="0.62" stroke-width="0.7"/>
<circle cx="297.4" cy="826.5" r="3.2" fill="#7BABD0" fill-opacity="0.42" stroke="#10201c" stroke-opacity="0.62" stroke-width="0.7"/>
<circle cx="313.5" cy="838.2" r="3.2" fill="#7BABD0" fill-opacity="0.42" stroke="#10201c" stroke-opacity="0.62" stroke-width="0.7"/>
<circle cx="309.9" cy="839.9" r="3.2" fill="#7BABD0" fill-opacity="0.42" stroke="#10201c" stroke-opacity="0.62" stroke-width="0.7"/>
<circle cx="317.6" cy="868.4" r="3.2" fill="#7BABD0" fill-opacity="0.42" stroke="#10201c" stroke-opacity="0.62" stroke-width="0.7"/>
<circle cx="302.0" cy="878.2" r="3.2" fill="#7BABD0" fill-opacity="0.42" stroke="#10201c" stroke-opacity="0.62" stroke-width="0.7"/>
<circle cx="302.3" cy="883.4" r="3.2" fill="#7BABD0" fill-opacity="0.42" stroke="#10201c" stroke-opacity="0.62" stroke-width="0.7"/>
<circle cx="316.2" cy="891.8" r="3.2" fill="#7BABD0" fill-opacity="0.42" stroke="#10201c" stroke-opacity="0.62" stroke-width="0.7"/>
<circle cx="297.4" cy="895.1" r="3.2" fill="#7BABD0" fill-opacity="0.42" stroke="#10201c" stroke-opacity="0.62" stroke-width="0.7"/>
<circle cx="296.3" cy="952.5" r="3.2" fill="#7BABD0" fill-opacity="0.42" stroke="#10201c" stroke-opacity="0.62" stroke-width="0.7"/>
<circle cx="293.3" cy="987.3" r="3.2" fill="#7BABD0" fill-opacity="0.42" stroke="#10201c" stroke-opacity="0.62" stroke-width="0.7"/>
<circle cx="316.7" cy="999.0" r="3.2" fill="#7BABD0" fill-opacity="0.42" stroke="#10201c" stroke-opacity="0.62" stroke-width="0.7"/>
<circle cx="299.9" cy="1012.7" r="3.2" fill="#7BABD0" fill-opacity="0.42" stroke="#10201c" stroke-opacity="0.62" stroke-width="0.7"/>
<circle cx="314.8" cy="1012.1" r="3.2" fill="#7BABD0" fill-opacity="0.42" stroke="#10201c" stroke-opacity="0.62" stroke-width="0.7"/>
<circle cx="297.4" cy="1017.3" r="3.2" fill="#7BABD0" fill-opacity="0.42" stroke="#10201c" stroke-opacity="0.62" stroke-width="0.7"/>
<circle cx="313.5" cy="1017.3" r="3.2" fill="#7BABD0" fill-opacity="0.42" stroke="#10201c" stroke-opacity="0.62" stroke-width="0.7"/>
<circle cx="305.9" cy="1019.2" r="3.2" fill="#7BABD0" fill-opacity="0.42" stroke="#10201c" stroke-opacity="0.62" stroke-width="0.7"/>
<circle cx="301.8" cy="1023.8" r="3.2" fill="#7BABD0" fill-opacity="0.42" stroke="#10201c" stroke-opacity="0.62" stroke-width="0.7"/>
<circle cx="305.9" cy="1024.6" r="3.2" fill="#7BABD0" fill-opacity="0.42" stroke="#10201c" stroke-opacity="0.62" stroke-width="0.7"/>
<circle cx="298.0" cy="1030.1" r="3.2" fill="#7BABD0" fill-opacity="0.42" stroke="#10201c" stroke-opacity="0.62" stroke-width="0.7"/>
<circle cx="297.4" cy="1032.8" r="3.2" fill="#7BABD0" fill-opacity="0.42" stroke="#10201c" stroke-opacity="0.62" stroke-width="0.7"/>
<circle cx="307.5" cy="1036.3" r="3.2" fill="#7BABD0" fill-opacity="0.42" stroke="#10201c" stroke-opacity="0.62" stroke-width="0.7"/>
<circle cx="318.1" cy="1046.9" r="3.2" fill="#7BABD0" fill-opacity="0.42" stroke="#10201c" stroke-opacity="0.62" stroke-width="0.7"/>
<line x1="384.6" y1="775.1" x2="384.6" y2="822.4" stroke="#333333" stroke-width="1.2" />
<line x1="384.6" y1="1020.0" x2="384.6" y2="1066.0" stroke="#333333" stroke-width="1.2" />
<line x1="372.6" y1="775.1" x2="396.6" y2="775.1" stroke="#333333" stroke-width="1.2" />
<line x1="372.6" y1="1066.0" x2="396.6" y2="1066.0" stroke="#333333" stroke-width="1.2" />
<rect x="355.6" y="822.4" width="58.0" height="197.6" fill="#86CCBF" stroke="#333333" stroke-width="1.3" />
<line x1="355.6" y1="885.9" x2="413.6" y2="885.9" stroke="#333333" stroke-width="2.4" />
<circle cx="372.2" cy="775.4" r="3.2" fill="#86CCBF" fill-opacity="0.42" stroke="#10201c" stroke-opacity="0.62" stroke-width="0.7"/>
<circle cx="379.9" cy="786.0" r="3.2" fill="#86CCBF" fill-opacity="0.42" stroke="#10201c" stroke-opacity="0.62" stroke-width="0.7"/>
<circle cx="385.6" cy="800.7" r="3.2" fill="#86CCBF" fill-opacity="0.42" stroke="#10201c" stroke-opacity="0.62" stroke-width="0.7"/>
<circle cx="397.8" cy="802.3" r="3.2" fill="#86CCBF" fill-opacity="0.42" stroke="#10201c" stroke-opacity="0.62" stroke-width="0.7"/>
<circle cx="377.1" cy="810.2" r="3.2" fill="#86CCBF" fill-opacity="0.42" stroke="#10201c" stroke-opacity="0.62" stroke-width="0.7"/>
<circle cx="397.3" cy="809.7" r="3.2" fill="#86CCBF" fill-opacity="0.42" stroke="#10201c" stroke-opacity="0.62" stroke-width="0.7"/>
<circle cx="379.3" cy="818.6" r="3.2" fill="#86CCBF" fill-opacity="0.42" stroke="#10201c" stroke-opacity="0.62" stroke-width="0.7"/>
<circle cx="377.7" cy="825.2" r="3.2" fill="#86CCBF" fill-opacity="0.42" stroke="#10201c" stroke-opacity="0.62" stroke-width="0.7"/>
<circle cx="385.0" cy="824.1" r="3.2" fill="#86CCBF" fill-opacity="0.42" stroke="#10201c" stroke-opacity="0.62" stroke-width="0.7"/>
<circle cx="390.5" cy="825.2" r="3.2" fill="#86CCBF" fill-opacity="0.42" stroke="#10201c" stroke-opacity="0.62" stroke-width="0.7"/>
<circle cx="398.1" cy="827.9" r="3.2" fill="#86CCBF" fill-opacity="0.42" stroke="#10201c" stroke-opacity="0.62" stroke-width="0.7"/>
<circle cx="399.2" cy="830.6" r="3.2" fill="#86CCBF" fill-opacity="0.42" stroke="#10201c" stroke-opacity="0.62" stroke-width="0.7"/>
<circle cx="388.8" cy="832.2" r="3.2" fill="#86CCBF" fill-opacity="0.42" stroke="#10201c" stroke-opacity="0.62" stroke-width="0.7"/>
<circle cx="389.7" cy="940.3" r="3.2" fill="#86CCBF" fill-opacity="0.42" stroke="#10201c" stroke-opacity="0.62" stroke-width="0.7"/>
<circle cx="370.1" cy="969.4" r="3.2" fill="#86CCBF" fill-opacity="0.42" stroke="#10201c" stroke-opacity="0.62" stroke-width="0.7"/>
<circle cx="383.7" cy="995.0" r="3.2" fill="#86CCBF" fill-opacity="0.42" stroke="#10201c" stroke-opacity="0.62" stroke-width="0.7"/>
<circle cx="384.5" cy="1001.5" r="3.2" fill="#86CCBF" fill-opacity="0.42" stroke="#10201c" stroke-opacity="0.62" stroke-width="0.7"/>
<circle cx="385.9" cy="1006.4" r="3.2" fill="#86CCBF" fill-opacity="0.42" stroke="#10201c" stroke-opacity="0.62" stroke-width="0.7"/>
<circle cx="369.5" cy="1019.5" r="3.2" fill="#86CCBF" fill-opacity="0.42" stroke="#10201c" stroke-opacity="0.62" stroke-width="0.7"/>
<circle cx="379.3" cy="1020.8" r="3.2" fill="#86CCBF" fill-opacity="0.42" stroke="#10201c" stroke-opacity="0.62" stroke-width="0.7"/>
<circle cx="373.9" cy="1028.4" r="3.2" fill="#86CCBF" fill-opacity="0.42" stroke="#10201c" stroke-opacity="0.62" stroke-width="0.7"/>
<circle cx="398.4" cy="1029.8" r="3.2" fill="#86CCBF" fill-opacity="0.42" stroke="#10201c" stroke-opacity="0.62" stroke-width="0.7"/>
<circle cx="393.5" cy="1046.9" r="3.2" fill="#86CCBF" fill-opacity="0.42" stroke="#10201c" stroke-opacity="0.62" stroke-width="0.7"/>
<circle cx="390.7" cy="1062.2" r="3.2" fill="#86CCBF" fill-opacity="0.42" stroke="#10201c" stroke-opacity="0.62" stroke-width="0.7"/>
<circle cx="381.0" cy="1066.0" r="3.2" fill="#86CCBF" fill-opacity="0.42" stroke="#10201c" stroke-opacity="0.62" stroke-width="0.7"/>
<line x1="461.5" y1="743.5" x2="461.5" y2="794.4" stroke="#333333" stroke-width="1.2" />
<line x1="461.5" y1="1019.5" x2="461.5" y2="1078.2" stroke="#333333" stroke-width="1.2" />
<line x1="449.5" y1="743.5" x2="473.5" y2="743.5" stroke="#333333" stroke-width="1.2" />
<line x1="449.5" y1="1078.2" x2="473.5" y2="1078.2" stroke="#333333" stroke-width="1.2" />
<rect x="432.4" y="794.4" width="58.2" height="225.1" fill="#EE7B6E" stroke="#333333" stroke-width="1.3" />
<line x1="432.4" y1="889.9" x2="490.6" y2="889.9" stroke="#333333" stroke-width="2.4" />
<circle cx="454.7" cy="743.8" r="3.2" fill="#EE7B6E" fill-opacity="0.42" stroke="#10201c" stroke-opacity="0.62" stroke-width="0.7"/>
<circle cx="469.9" cy="746.5" r="3.2" fill="#EE7B6E" fill-opacity="0.42" stroke="#10201c" stroke-opacity="0.62" stroke-width="0.7"/>
<circle cx="474.6" cy="749.3" r="3.2" fill="#EE7B6E" fill-opacity="0.42" stroke="#10201c" stroke-opacity="0.62" stroke-width="0.7"/>
<circle cx="453.6" cy="753.3" r="3.2" fill="#EE7B6E" fill-opacity="0.42" stroke="#10201c" stroke-opacity="0.62" stroke-width="0.7"/>
<circle cx="453.9" cy="757.4" r="3.2" fill="#EE7B6E" fill-opacity="0.42" stroke="#10201c" stroke-opacity="0.62" stroke-width="0.7"/>
<circle cx="466.4" cy="760.1" r="3.2" fill="#EE7B6E" fill-opacity="0.42" stroke="#10201c" stroke-opacity="0.62" stroke-width="0.7"/>
<circle cx="450.9" cy="768.6" r="3.2" fill="#EE7B6E" fill-opacity="0.42" stroke="#10201c" stroke-opacity="0.62" stroke-width="0.7"/>
<circle cx="450.1" cy="802.9" r="3.2" fill="#EE7B6E" fill-opacity="0.42" stroke="#10201c" stroke-opacity="0.62" stroke-width="0.7"/>
<circle cx="474.0" cy="810.7" r="3.2" fill="#EE7B6E" fill-opacity="0.42" stroke="#10201c" stroke-opacity="0.62" stroke-width="0.7"/>
<circle cx="452.2" cy="812.9" r="3.2" fill="#EE7B6E" fill-opacity="0.42" stroke="#10201c" stroke-opacity="0.62" stroke-width="0.7"/>
<circle cx="458.5" cy="834.4" r="3.2" fill="#EE7B6E" fill-opacity="0.42" stroke="#10201c" stroke-opacity="0.62" stroke-width="0.7"/>
<circle cx="468.6" cy="847.8" r="3.2" fill="#EE7B6E" fill-opacity="0.42" stroke="#10201c" stroke-opacity="0.62" stroke-width="0.7"/>
<circle cx="468.6" cy="855.6" r="3.2" fill="#EE7B6E" fill-opacity="0.42" stroke="#10201c" stroke-opacity="0.62" stroke-width="0.7"/>
<circle cx="456.3" cy="869.3" r="3.2" fill="#EE7B6E" fill-opacity="0.42" stroke="#10201c" stroke-opacity="0.62" stroke-width="0.7"/>
<circle cx="467.2" cy="911.4" r="3.2" fill="#EE7B6E" fill-opacity="0.42" stroke="#10201c" stroke-opacity="0.62" stroke-width="0.7"/>
<circle cx="451.7" cy="920.1" r="3.2" fill="#EE7B6E" fill-opacity="0.42" stroke="#10201c" stroke-opacity="0.62" stroke-width="0.7"/>
<circle cx="472.7" cy="920.1" r="3.2" fill="#EE7B6E" fill-opacity="0.42" stroke="#10201c" stroke-opacity="0.62" stroke-width="0.7"/>
<circle cx="454.1" cy="944.9" r="3.2" fill="#EE7B6E" fill-opacity="0.42" stroke="#10201c" stroke-opacity="0.62" stroke-width="0.7"/>
<circle cx="472.4" cy="1009.9" r="3.2" fill="#EE7B6E" fill-opacity="0.42" stroke="#10201c" stroke-opacity="0.62" stroke-width="0.7"/>
<circle cx="473.2" cy="1015.9" r="3.2" fill="#EE7B6E" fill-opacity="0.42" stroke="#10201c" stroke-opacity="0.62" stroke-width="0.7"/>
<circle cx="476.2" cy="1018.6" r="3.2" fill="#EE7B6E" fill-opacity="0.42" stroke="#10201c" stroke-opacity="0.62" stroke-width="0.7"/>
<circle cx="469.4" cy="1021.4" r="3.2" fill="#EE7B6E" fill-opacity="0.42" stroke="#10201c" stroke-opacity="0.62" stroke-width="0.7"/>
<circle cx="471.6" cy="1025.2" r="3.2" fill="#EE7B6E" fill-opacity="0.42" stroke="#10201c" stroke-opacity="0.62" stroke-width="0.7"/>
<circle cx="460.4" cy="1032.0" r="3.2" fill="#EE7B6E" fill-opacity="0.42" stroke="#10201c" stroke-opacity="0.62" stroke-width="0.7"/>
<circle cx="471.6" cy="1032.0" r="3.2" fill="#EE7B6E" fill-opacity="0.42" stroke="#10201c" stroke-opacity="0.62" stroke-width="0.7"/>
<circle cx="475.4" cy="1039.3" r="3.2" fill="#EE7B6E" fill-opacity="0.42" stroke="#10201c" stroke-opacity="0.62" stroke-width="0.7"/>
<circle cx="449.5" cy="1058.6" r="3.2" fill="#EE7B6E" fill-opacity="0.42" stroke="#10201c" stroke-opacity="0.62" stroke-width="0.7"/>
<circle cx="456.3" cy="1078.2" r="3.2" fill="#EE7B6E" fill-opacity="0.42" stroke="#10201c" stroke-opacity="0.62" stroke-width="0.7"/>
<line x1="153.7" y1="1100.5" x2="153.7" y2="1105.5" stroke="#111" stroke-width="1.0" />
<text x="155.2" y="1141.4" font-size="28" text-anchor="middle" fill="#000" >FX</text>
<line x1="230.5" y1="1100.5" x2="230.5" y2="1105.5" stroke="#111" stroke-width="1.0" />
<text x="229.5" y="1141.4" font-size="28" text-anchor="middle" fill="#000" >LH</text>
<line x1="307.2" y1="1100.5" x2="307.2" y2="1105.5" stroke="#111" stroke-width="1.0" />
<text x="305.2" y="1141.4" font-size="28" text-anchor="middle" fill="#000" >ZS</text>
<line x1="384.2" y1="1100.5" x2="384.2" y2="1105.5" stroke="#111" stroke-width="1.0" />
<text x="382.5" y="1141.4" font-size="28" text-anchor="middle" fill="#000" >DP</text>
<line x1="461.0" y1="1100.5" x2="461.0" y2="1105.5" stroke="#111" stroke-width="1.0" />
<text x="460.3" y="1141.4" font-size="28" text-anchor="middle" fill="#000" >XY</text>
<text x="304.0" y="1184.0" font-size="31" text-anchor="middle" fill="#000" >Lake</text>
<rect x="537.5" y="669.5" width="398.8" height="56.9" fill="#B4B4B4" stroke="none" stroke-width="1" />
<text x="738.8" y="711.3" font-size="32.1" text-anchor="middle" fill="#000" >mcrA ~ Size | Lake</text>
<rect x="537.7" y="727.5" width="398.4" height="373.8" fill="#fff" stroke="#000" stroke-width="1.3" />
<text x="557.5" y="776.1" font-size="28.15" text-anchor="start" fill="#000" >ANOVA: <tspan font-style="italic">P</tspan> &lt; 0.001</text>
<line x1="597.3" y1="962.0" x2="597.3" y2="972.4" stroke="#EFB030" stroke-width="1.7" />
<line x1="592.4" y1="962.0" x2="602.2" y2="962.0" stroke="#EFB030" stroke-width="1.7" />
<line x1="592.4" y1="972.4" x2="602.2" y2="972.4" stroke="#EFB030" stroke-width="1.7" />
<line x1="695.5" y1="1076.6" x2="695.5" y2="1087.0" stroke="#EFB030" stroke-width="1.7" />
<line x1="690.6" y1="1076.6" x2="700.4" y2="1076.6" stroke="#EFB030" stroke-width="1.7" />
<line x1="690.6" y1="1087.0" x2="700.4" y2="1087.0" stroke="#EFB030" stroke-width="1.7" />
<line x1="792.9" y1="961.2" x2="792.9" y2="992.5" stroke="#EFB030" stroke-width="1.7" />
<line x1="788.0" y1="961.2" x2="797.8" y2="961.2" stroke="#EFB030" stroke-width="1.7" />
<line x1="788.0" y1="992.5" x2="797.8" y2="992.5" stroke="#EFB030" stroke-width="1.7" />
<line x1="891.0" y1="885.2" x2="891.0" y2="924.8" stroke="#EFB030" stroke-width="1.7" />
<line x1="886.1" y1="885.2" x2="895.9" y2="885.2" stroke="#EFB030" stroke-width="1.7" />
<line x1="886.1" y1="924.8" x2="895.9" y2="924.8" stroke="#EFB030" stroke-width="1.7" />
<polyline points="597.3,967.2 695.5,1081.0 792.9,976.9 891.0,904.7" fill="none" stroke="#EFB030" stroke-width="2.55" stroke-linejoin="round"/>
<circle cx="597.3" cy="967.2" r="4.9" fill="#EFB030" />
<circle cx="695.5" cy="1081.0" r="4.9" fill="#EFB030" />
<circle cx="792.9" cy="976.9" r="4.9" fill="#EFB030" />
<circle cx="891.0" cy="904.7" r="4.9" fill="#EFB030" />
<line x1="597.3" y1="936.8" x2="597.3" y2="971.7" stroke="#BDB7DB" stroke-width="1.7" />
<line x1="592.4" y1="936.8" x2="602.2" y2="936.8" stroke="#BDB7DB" stroke-width="1.7" />
<line x1="592.4" y1="971.7" x2="602.2" y2="971.7" stroke="#BDB7DB" stroke-width="1.7" />
<line x1="695.5" y1="978.4" x2="695.5" y2="1008.9" stroke="#BDB7DB" stroke-width="1.7" />
<line x1="690.6" y1="978.4" x2="700.4" y2="978.4" stroke="#BDB7DB" stroke-width="1.7" />
<line x1="690.6" y1="1008.9" x2="700.4" y2="1008.9" stroke="#BDB7DB" stroke-width="1.7" />
<line x1="792.9" y1="870.9" x2="792.9" y2="901.6" stroke="#BDB7DB" stroke-width="1.7" />
<line x1="788.0" y1="870.9" x2="797.8" y2="870.9" stroke="#BDB7DB" stroke-width="1.7" />
<line x1="788.0" y1="901.6" x2="797.8" y2="901.6" stroke="#BDB7DB" stroke-width="1.7" />
<line x1="891.0" y1="788.9" x2="891.0" y2="821.4" stroke="#BDB7DB" stroke-width="1.7" />
<line x1="886.1" y1="788.9" x2="895.9" y2="788.9" stroke="#BDB7DB" stroke-width="1.7" />
<line x1="886.1" y1="821.4" x2="895.9" y2="821.4" stroke="#BDB7DB" stroke-width="1.7" />
<polyline points="597.3,954.2 695.5,993.3 792.9,886.0 891.0,805.3" fill="none" stroke="#BDB7DB" stroke-width="2.55" stroke-linejoin="round"/>
<circle cx="597.3" cy="954.2" r="4.9" fill="#BDB7DB" />
<circle cx="695.5" cy="993.3" r="4.9" fill="#BDB7DB" />
<circle cx="792.9" cy="886.0" r="4.9" fill="#BDB7DB" />
<circle cx="891.0" cy="805.3" r="4.9" fill="#BDB7DB" />
<line x1="597.3" y1="980.3" x2="597.3" y2="1037.5" stroke="#7BABD0" stroke-width="1.7" />
<line x1="592.4" y1="980.3" x2="602.2" y2="980.3" stroke="#7BABD0" stroke-width="1.7" />
<line x1="592.4" y1="1037.5" x2="602.2" y2="1037.5" stroke="#7BABD0" stroke-width="1.7" />
<line x1="695.5" y1="1015.4" x2="695.5" y2="1044.0" stroke="#7BABD0" stroke-width="1.7" />
<line x1="690.6" y1="1015.4" x2="700.4" y2="1015.4" stroke="#7BABD0" stroke-width="1.7" />
<line x1="690.6" y1="1044.0" x2="700.4" y2="1044.0" stroke="#7BABD0" stroke-width="1.7" />
<line x1="792.9" y1="845.6" x2="792.9" y2="898.8" stroke="#7BABD0" stroke-width="1.7" />
<line x1="788.0" y1="845.6" x2="797.8" y2="845.6" stroke="#7BABD0" stroke-width="1.7" />
<line x1="788.0" y1="898.8" x2="797.8" y2="898.8" stroke="#7BABD0" stroke-width="1.7" />
<line x1="891.0" y1="812.3" x2="891.0" y2="837.0" stroke="#7BABD0" stroke-width="1.7" />
<line x1="886.1" y1="812.3" x2="895.9" y2="812.3" stroke="#7BABD0" stroke-width="1.7" />
<line x1="886.1" y1="837.0" x2="895.9" y2="837.0" stroke="#7BABD0" stroke-width="1.7" />
<polyline points="597.3,1008.9 695.5,1029.7 792.9,872.2 891.0,824.6" fill="none" stroke="#7BABD0" stroke-width="2.55" stroke-linejoin="round"/>
<circle cx="597.3" cy="1008.9" r="4.9" fill="#7BABD0" />
<circle cx="695.5" cy="1029.7" r="4.9" fill="#7BABD0" />
<circle cx="792.9" cy="872.2" r="4.9" fill="#7BABD0" />
<circle cx="891.0" cy="824.6" r="4.9" fill="#7BABD0" />
<line x1="597.3" y1="962.0" x2="597.3" y2="1029.7" stroke="#86CCBF" stroke-width="1.7" />
<line x1="592.4" y1="962.0" x2="602.2" y2="962.0" stroke="#86CCBF" stroke-width="1.7" />
<line x1="592.4" y1="1029.7" x2="602.2" y2="1029.7" stroke="#86CCBF" stroke-width="1.7" />
<line x1="695.5" y1="1011.5" x2="695.5" y2="1063.6" stroke="#86CCBF" stroke-width="1.7" />
<line x1="690.6" y1="1011.5" x2="700.4" y2="1011.5" stroke="#86CCBF" stroke-width="1.7" />
<line x1="690.6" y1="1063.6" x2="700.4" y2="1063.6" stroke="#86CCBF" stroke-width="1.7" />
<line x1="792.9" y1="811.0" x2="792.9" y2="834.4" stroke="#86CCBF" stroke-width="1.7" />
<line x1="788.0" y1="811.0" x2="797.8" y2="811.0" stroke="#86CCBF" stroke-width="1.7" />
<line x1="788.0" y1="834.4" x2="797.8" y2="834.4" stroke="#86CCBF" stroke-width="1.7" />
<line x1="891.0" y1="788.9" x2="891.0" y2="830.5" stroke="#86CCBF" stroke-width="1.7" />
<line x1="886.1" y1="788.9" x2="895.9" y2="788.9" stroke="#86CCBF" stroke-width="1.7" />
<line x1="886.1" y1="830.5" x2="895.9" y2="830.5" stroke="#86CCBF" stroke-width="1.7" />
<polyline points="597.3,995.9 695.5,1036.2 792.9,822.7 891.0,809.7" fill="none" stroke="#86CCBF" stroke-width="2.55" stroke-linejoin="round"/>
<circle cx="597.3" cy="995.9" r="4.9" fill="#86CCBF" />
<circle cx="695.5" cy="1036.2" r="4.9" fill="#86CCBF" />
<circle cx="792.9" cy="822.7" r="4.9" fill="#86CCBF" />
<circle cx="891.0" cy="809.7" r="4.9" fill="#86CCBF" />
<line x1="597.3" y1="913.3" x2="597.3" y2="1038.8" stroke="#EE7B6E" stroke-width="1.7" />
<line x1="592.4" y1="913.3" x2="602.2" y2="913.3" stroke="#EE7B6E" stroke-width="1.7" />
<line x1="592.4" y1="1038.8" x2="602.2" y2="1038.8" stroke="#EE7B6E" stroke-width="1.7" />
<line x1="695.5" y1="1012.8" x2="695.5" y2="1059.1" stroke="#EE7B6E" stroke-width="1.7" />
<line x1="690.6" y1="1012.8" x2="700.4" y2="1012.8" stroke="#EE7B6E" stroke-width="1.7" />
<line x1="690.6" y1="1059.1" x2="700.4" y2="1059.1" stroke="#EE7B6E" stroke-width="1.7" />
<line x1="792.9" y1="811.0" x2="792.9" y2="862.3" stroke="#EE7B6E" stroke-width="1.7" />
<line x1="788.0" y1="811.0" x2="797.8" y2="811.0" stroke="#EE7B6E" stroke-width="1.7" />
<line x1="788.0" y1="862.3" x2="797.8" y2="862.3" stroke="#EE7B6E" stroke-width="1.7" />
<line x1="891.0" y1="748.0" x2="891.0" y2="765.4" stroke="#EE7B6E" stroke-width="1.7" />
<line x1="886.1" y1="748.0" x2="895.9" y2="748.0" stroke="#EE7B6E" stroke-width="1.7" />
<line x1="886.1" y1="765.4" x2="895.9" y2="765.4" stroke="#EE7B6E" stroke-width="1.7" />
<polyline points="597.3,976.3 695.5,1035.7 792.9,837.0 891.0,756.9" fill="none" stroke="#EE7B6E" stroke-width="2.55" stroke-linejoin="round"/>
<circle cx="597.3" cy="976.3" r="4.9" fill="#EE7B6E" />
<circle cx="695.5" cy="1035.7" r="4.9" fill="#EE7B6E" />
<circle cx="792.9" cy="837.0" r="4.9" fill="#EE7B6E" />
<circle cx="891.0" cy="756.9" r="4.9" fill="#EE7B6E" />
<line x1="597.3" y1="1101.3" x2="597.3" y2="1106.3" stroke="#111" stroke-width="1.0" />
<text x="592.7" y="1141.4" font-size="28" text-anchor="middle" fill="#000" letter-spacing="0.5">&gt;112</text>
<line x1="695.5" y1="1101.3" x2="695.5" y2="1106.3" stroke="#111" stroke-width="1.0" />
<text x="694.6" y="1141.4" font-size="28" text-anchor="middle" fill="#000" letter-spacing="0.75">64~112</text>
<line x1="792.9" y1="1101.3" x2="792.9" y2="1106.3" stroke="#111" stroke-width="1.0" />
<text x="796.8" y="1141.4" font-size="28" text-anchor="middle" fill="#000" >5~64</text>
<line x1="891.0" y1="1101.3" x2="891.0" y2="1106.3" stroke="#111" stroke-width="1.0" />
<text x="887.6" y="1141.4" font-size="28" text-anchor="middle" fill="#000" letter-spacing="0.5">0.2~5</text>
<text x="740.2" y="1184.0" font-size="31.5" text-anchor="middle" fill="#000" letter-spacing="0.6">Size (μm)</text>
<rect x="989.5" y="669.5" width="400.4" height="56.9" fill="#B4B4B4" stroke="none" stroke-width="1" />
<text x="1199.0" y="711.3" font-size="32.1" text-anchor="middle" fill="#000" >phnJ ~ Lake | Lake</text>
<rect x="989.6" y="727.1" width="400.3" height="374.5" fill="#fff" stroke="#000" stroke-width="1.3" />
<line x1="983.8" y1="734.2" x2="989.6" y2="734.2" stroke="#111" stroke-width="1.2" />
<text x="980.8" y="745.9" font-size="28.6" text-anchor="end" fill="#000" >12</text>
<line x1="983.8" y1="822.6" x2="989.6" y2="822.6" stroke="#111" stroke-width="1.2" />
<text x="980.8" y="834.3" font-size="28.6" text-anchor="end" fill="#000" >9</text>
<line x1="983.8" y1="910.0" x2="989.6" y2="910.0" stroke="#111" stroke-width="1.2" />
<text x="980.8" y="921.7" font-size="28.6" text-anchor="end" fill="#000" >6</text>
<line x1="983.8" y1="997.1" x2="989.6" y2="997.1" stroke="#111" stroke-width="1.2" />
<text x="980.8" y="1008.8" font-size="28.6" text-anchor="end" fill="#000" >3</text>
<line x1="983.8" y1="1084.2" x2="989.6" y2="1084.2" stroke="#111" stroke-width="1.2" />
<text x="980.8" y="1095.9" font-size="28.6" text-anchor="end" fill="#000" >0</text>
<text x="1008.9" y="774.3" font-size="28.15" text-anchor="start" fill="#000" >ANOVA: <tspan font-style="italic">P</tspan> &lt; 0.001</text>
<line x1="1035.2" y1="848.3" x2="1035.2" y2="925.3" stroke="#333333" stroke-width="1.2" />
<line x1="1035.2" y1="1013.5" x2="1035.2" y2="1084.2" stroke="#333333" stroke-width="1.2" />
<line x1="1023.2" y1="848.3" x2="1047.2" y2="848.3" stroke="#333333" stroke-width="1.2" />
<line x1="1023.2" y1="1084.2" x2="1047.2" y2="1084.2" stroke="#333333" stroke-width="1.2" />
<rect x="1006.7" y="925.3" width="56.9" height="88.2" fill="#EFB030" stroke="#333333" stroke-width="1.3" />
<line x1="1006.7" y1="977.3" x2="1063.6" y2="977.3" stroke="#333333" stroke-width="2.4" />
<circle cx="1042.9" cy="848.8" r="3.2" fill="#EFB030" fill-opacity="0.42" stroke="#10201c" stroke-opacity="0.62" stroke-width="0.7"/>
<circle cx="1048.4" cy="850.2" r="3.2" fill="#EFB030" fill-opacity="0.42" stroke="#10201c" stroke-opacity="0.62" stroke-width="0.7"/>
<circle cx="1035.3" cy="865.2" r="3.2" fill="#EFB030" fill-opacity="0.42" stroke="#10201c" stroke-opacity="0.62" stroke-width="0.7"/>
<circle cx="1047.8" cy="866.3" r="3.2" fill="#EFB030" fill-opacity="0.42" stroke="#10201c" stroke-opacity="0.62" stroke-width="0.7"/>
<circle cx="1029.9" cy="866.8" r="3.2" fill="#EFB030" fill-opacity="0.42" stroke="#10201c" stroke-opacity="0.62" stroke-width="0.7"/>
<circle cx="1024.4" cy="868.7" r="3.2" fill="#EFB030" fill-opacity="0.42" stroke="#10201c" stroke-opacity="0.62" stroke-width="0.7"/>
<circle cx="1039.4" cy="868.4" r="3.2" fill="#EFB030" fill-opacity="0.42" stroke="#10201c" stroke-opacity="0.62" stroke-width="0.7"/>
<circle cx="1045.4" cy="943.8" r="3.2" fill="#EFB030" fill-opacity="0.42" stroke="#10201c" stroke-opacity="0.62" stroke-width="0.7"/>
<circle cx="1023.3" cy="953.1" r="3.2" fill="#EFB030" fill-opacity="0.42" stroke="#10201c" stroke-opacity="0.62" stroke-width="0.7"/>
<circle cx="1042.4" cy="950.6" r="3.2" fill="#EFB030" fill-opacity="0.42" stroke="#10201c" stroke-opacity="0.62" stroke-width="0.7"/>
<circle cx="1040.2" cy="951.7" r="3.2" fill="#EFB030" fill-opacity="0.42" stroke="#10201c" stroke-opacity="0.62" stroke-width="0.7"/>
<circle cx="1023.3" cy="957.7" r="3.2" fill="#EFB030" fill-opacity="0.42" stroke="#10201c" stroke-opacity="0.62" stroke-width="0.7"/>
<circle cx="1023.9" cy="962.3" r="3.2" fill="#EFB030" fill-opacity="0.42" stroke="#10201c" stroke-opacity="0.62" stroke-width="0.7"/>
<circle cx="1039.7" cy="975.9" r="3.2" fill="#EFB030" fill-opacity="0.42" stroke="#10201c" stroke-opacity="0.62" stroke-width="0.7"/>
<circle cx="1023.3" cy="979.5" r="3.2" fill="#EFB030" fill-opacity="0.42" stroke="#10201c" stroke-opacity="0.62" stroke-width="0.7"/>
<circle cx="1049.7" cy="986.0" r="3.2" fill="#EFB030" fill-opacity="0.42" stroke="#10201c" stroke-opacity="0.62" stroke-width="0.7"/>
<circle cx="1028.5" cy="995.0" r="3.2" fill="#EFB030" fill-opacity="0.42" stroke="#10201c" stroke-opacity="0.62" stroke-width="0.7"/>
<circle cx="1035.9" cy="1000.4" r="3.2" fill="#EFB030" fill-opacity="0.42" stroke="#10201c" stroke-opacity="0.62" stroke-width="0.7"/>
<circle cx="1028.8" cy="1001.8" r="3.2" fill="#EFB030" fill-opacity="0.42" stroke="#10201c" stroke-opacity="0.62" stroke-width="0.7"/>
<circle cx="1026.3" cy="1007.2" r="3.2" fill="#EFB030" fill-opacity="0.42" stroke="#10201c" stroke-opacity="0.62" stroke-width="0.7"/>
<circle cx="1019.3" cy="1010.5" r="3.2" fill="#EFB030" fill-opacity="0.42" stroke="#10201c" stroke-opacity="0.62" stroke-width="0.7"/>
<circle cx="1036.4" cy="1022.2" r="3.2" fill="#EFB030" fill-opacity="0.42" stroke="#10201c" stroke-opacity="0.62" stroke-width="0.7"/>
<circle cx="1033.9" cy="1024.6" r="3.2" fill="#EFB030" fill-opacity="0.42" stroke="#10201c" stroke-opacity="0.62" stroke-width="0.7"/>
<circle cx="1033.9" cy="1026.5" r="3.2" fill="#EFB030" fill-opacity="0.42" stroke="#10201c" stroke-opacity="0.62" stroke-width="0.7"/>
<circle cx="1027.1" cy="1034.7" r="3.2" fill="#EFB030" fill-opacity="0.42" stroke="#10201c" stroke-opacity="0.62" stroke-width="0.7"/>
<circle cx="1036.7" cy="1065.4" r="3.2" fill="#EFB030" fill-opacity="0.42" stroke="#10201c" stroke-opacity="0.62" stroke-width="0.7"/>
<circle cx="1023.1" cy="1075.8" r="3.2" fill="#EFB030" fill-opacity="0.42" stroke="#10201c" stroke-opacity="0.62" stroke-width="0.7"/>
<circle cx="1047.0" cy="1084.8" r="3.2" fill="#EFB030" fill-opacity="0.42" stroke="#10201c" stroke-opacity="0.62" stroke-width="0.7"/>
<line x1="1111.5" y1="801.0" x2="1111.5" y2="875.5" stroke="#333333" stroke-width="1.2" />
<line x1="1111.5" y1="972.1" x2="1111.5" y2="1021.4" stroke="#333333" stroke-width="1.2" />
<line x1="1099.5" y1="801.0" x2="1123.5" y2="801.0" stroke="#333333" stroke-width="1.2" />
<line x1="1099.5" y1="1021.4" x2="1123.5" y2="1021.4" stroke="#333333" stroke-width="1.2" />
<rect x="1082.7" y="875.5" width="57.6" height="96.6" fill="#BDB7DB" stroke="#333333" stroke-width="1.3" />
<line x1="1082.7" y1="920.1" x2="1140.3" y2="920.1" stroke="#333333" stroke-width="2.4" />
<circle cx="1104.4" cy="801.0" r="3.2" fill="#BDB7DB" fill-opacity="0.42" stroke="#10201c" stroke-opacity="0.62" stroke-width="0.7"/>
<circle cx="1108.2" cy="824.6" r="3.2" fill="#BDB7DB" fill-opacity="0.42" stroke="#10201c" stroke-opacity="0.62" stroke-width="0.7"/>
<circle cx="1118.3" cy="842.3" r="3.2" fill="#BDB7DB" fill-opacity="0.42" stroke="#10201c" stroke-opacity="0.62" stroke-width="0.7"/>
<circle cx="1113.1" cy="845.9" r="3.2" fill="#BDB7DB" fill-opacity="0.42" stroke="#10201c" stroke-opacity="0.62" stroke-width="0.7"/>
<circle cx="1101.4" cy="858.1" r="3.2" fill="#BDB7DB" fill-opacity="0.42" stroke="#10201c" stroke-opacity="0.62" stroke-width="0.7"/>
<circle cx="1121.6" cy="856.7" r="3.2" fill="#BDB7DB" fill-opacity="0.42" stroke="#10201c" stroke-opacity="0.62" stroke-width="0.7"/>
<circle cx="1121.8" cy="858.9" r="3.2" fill="#BDB7DB" fill-opacity="0.42" stroke="#10201c" stroke-opacity="0.62" stroke-width="0.7"/>
<circle cx="1116.1" cy="881.0" r="3.2" fill="#BDB7DB" fill-opacity="0.42" stroke="#10201c" stroke-opacity="0.62" stroke-width="0.7"/>
<circle cx="1102.0" cy="886.4" r="3.2" fill="#BDB7DB" fill-opacity="0.42" stroke="#10201c" stroke-opacity="0.62" stroke-width="0.7"/>
<circle cx="1123.5" cy="887.5" r="3.2" fill="#BDB7DB" fill-opacity="0.42" stroke="#10201c" stroke-opacity="0.62" stroke-width="0.7"/>
<circle cx="1097.9" cy="890.7" r="3.2" fill="#BDB7DB" fill-opacity="0.42" stroke="#10201c" stroke-opacity="0.62" stroke-width="0.7"/>
<circle cx="1110.1" cy="894.3" r="3.2" fill="#BDB7DB" fill-opacity="0.42" stroke="#10201c" stroke-opacity="0.62" stroke-width="0.7"/>
<circle cx="1124.3" cy="894.0" r="3.2" fill="#BDB7DB" fill-opacity="0.42" stroke="#10201c" stroke-opacity="0.62" stroke-width="0.7"/>
<circle cx="1107.1" cy="915.0" r="3.2" fill="#BDB7DB" fill-opacity="0.42" stroke="#10201c" stroke-opacity="0.62" stroke-width="0.7"/>
<circle cx="1101.2" cy="925.9" r="3.2" fill="#BDB7DB" fill-opacity="0.42" stroke="#10201c" stroke-opacity="0.62" stroke-width="0.7"/>
<circle cx="1101.2" cy="952.5" r="3.2" fill="#BDB7DB" fill-opacity="0.42" stroke="#10201c" stroke-opacity="0.62" stroke-width="0.7"/>
<circle cx="1120.5" cy="959.9" r="3.2" fill="#BDB7DB" fill-opacity="0.42" stroke="#10201c" stroke-opacity="0.62" stroke-width="0.7"/>
<circle cx="1120.2" cy="962.9" r="3.2" fill="#BDB7DB" fill-opacity="0.42" stroke="#10201c" stroke-opacity="0.62" stroke-width="0.7"/>
<circle cx="1121.6" cy="965.0" r="3.2" fill="#BDB7DB" fill-opacity="0.42" stroke="#10201c" stroke-opacity="0.62" stroke-width="0.7"/>
<circle cx="1118.8" cy="965.9" r="3.2" fill="#BDB7DB" fill-opacity="0.42" stroke="#10201c" stroke-opacity="0.62" stroke-width="0.7"/>
<circle cx="1109.6" cy="974.3" r="3.2" fill="#BDB7DB" fill-opacity="0.42" stroke="#10201c" stroke-opacity="0.62" stroke-width="0.7"/>
<circle cx="1100.9" cy="977.6" r="3.2" fill="#BDB7DB" fill-opacity="0.42" stroke="#10201c" stroke-opacity="0.62" stroke-width="0.7"/>
<circle cx="1122.7" cy="979.5" r="3.2" fill="#BDB7DB" fill-opacity="0.42" stroke="#10201c" stroke-opacity="0.62" stroke-width="0.7"/>
<circle cx="1126.2" cy="971.8" r="3.2" fill="#BDB7DB" fill-opacity="0.42" stroke="#10201c" stroke-opacity="0.62" stroke-width="0.7"/>
<circle cx="1112.3" cy="987.3" r="3.2" fill="#BDB7DB" fill-opacity="0.42" stroke="#10201c" stroke-opacity="0.62" stroke-width="0.7"/>
<circle cx="1122.4" cy="986.8" r="3.2" fill="#BDB7DB" fill-opacity="0.42" stroke="#10201c" stroke-opacity="0.62" stroke-width="0.7"/>
<circle cx="1112.6" cy="991.2" r="3.2" fill="#BDB7DB" fill-opacity="0.42" stroke="#10201c" stroke-opacity="0.62" stroke-width="0.7"/>
<circle cx="1107.1" cy="1021.4" r="3.2" fill="#BDB7DB" fill-opacity="0.42" stroke="#10201c" stroke-opacity="0.62" stroke-width="0.7"/>
<line x1="1188.3" y1="803.4" x2="1188.3" y2="828.2" stroke="#333333" stroke-width="1.2" />
<line x1="1188.3" y1="1020.3" x2="1188.3" y2="1084.2" stroke="#333333" stroke-width="1.2" />
<line x1="1176.3" y1="803.4" x2="1200.3" y2="803.4" stroke="#333333" stroke-width="1.2" />
<line x1="1176.3" y1="1084.2" x2="1200.3" y2="1084.2" stroke="#333333" stroke-width="1.2" />
<rect x="1159.4" y="828.2" width="57.9" height="192.1" fill="#7BABD0" stroke="#333333" stroke-width="1.3" />
<line x1="1159.4" y1="900.8" x2="1217.3" y2="900.8" stroke="#333333" stroke-width="2.4" />
<circle cx="1181.7" cy="803.4" r="3.2" fill="#7BABD0" fill-opacity="0.42" stroke="#10201c" stroke-opacity="0.62" stroke-width="0.7"/>
<circle cx="1182.8" cy="811.8" r="3.2" fill="#7BABD0" fill-opacity="0.42" stroke="#10201c" stroke-opacity="0.62" stroke-width="0.7"/>
<circle cx="1198.3" cy="811.8" r="3.2" fill="#7BABD0" fill-opacity="0.42" stroke="#10201c" stroke-opacity="0.62" stroke-width="0.7"/>
<circle cx="1177.6" cy="816.2" r="3.2" fill="#7BABD0" fill-opacity="0.42" stroke="#10201c" stroke-opacity="0.62" stroke-width="0.7"/>
<circle cx="1187.1" cy="820.3" r="3.2" fill="#7BABD0" fill-opacity="0.42" stroke="#10201c" stroke-opacity="0.62" stroke-width="0.7"/>
<circle cx="1190.7" cy="820.3" r="3.2" fill="#7BABD0" fill-opacity="0.42" stroke="#10201c" stroke-opacity="0.62" stroke-width="0.7"/>
<circle cx="1193.1" cy="828.7" r="3.2" fill="#7BABD0" fill-opacity="0.42" stroke="#10201c" stroke-opacity="0.62" stroke-width="0.7"/>
<circle cx="1185.8" cy="837.4" r="3.2" fill="#7BABD0" fill-opacity="0.42" stroke="#10201c" stroke-opacity="0.62" stroke-width="0.7"/>
<circle cx="1184.4" cy="839.9" r="3.2" fill="#7BABD0" fill-opacity="0.42" stroke="#10201c" stroke-opacity="0.62" stroke-width="0.7"/>
<circle cx="1190.4" cy="840.4" r="3.2" fill="#7BABD0" fill-opacity="0.42" stroke="#10201c" stroke-opacity="0.62" stroke-width="0.7"/>
<circle cx="1193.7" cy="846.1" r="3.2" fill="#7BABD0" fill-opacity="0.42" stroke="#10201c" stroke-opacity="0.62" stroke-width="0.7"/>
<circle cx="1200.2" cy="847.5" r="3.2" fill="#7BABD0" fill-opacity="0.42" stroke="#10201c" stroke-opacity="0.62" stroke-width="0.7"/>
<circle cx="1196.1" cy="954.7" r="3.2" fill="#7BABD0" fill-opacity="0.42" stroke="#10201c" stroke-opacity="0.62" stroke-width="0.7"/>
<circle cx="1186.3" cy="988.4" r="3.2" fill="#7BABD0" fill-opacity="0.42" stroke="#10201c" stroke-opacity="0.62" stroke-width="0.7"/>
<circle cx="1181.7" cy="990.3" r="3.2" fill="#7BABD0" fill-opacity="0.42" stroke="#10201c" stroke-opacity="0.62" stroke-width="0.7"/>
<circle cx="1184.7" cy="989.8" r="3.2" fill="#7BABD0" fill-opacity="0.42" stroke="#10201c" stroke-opacity="0.62" stroke-width="0.7"/>
<circle cx="1203.5" cy="1007.5" r="3.2" fill="#7BABD0" fill-opacity="0.42" stroke="#10201c" stroke-opacity="0.62" stroke-width="0.7"/>
<circle cx="1183.9" cy="1009.7" r="3.2" fill="#7BABD0" fill-opacity="0.42" stroke="#10201c" stroke-opacity="0.62" stroke-width="0.7"/>
<circle cx="1181.2" cy="1022.4" r="3.2" fill="#7BABD0" fill-opacity="0.42" stroke="#10201c" stroke-opacity="0.62" stroke-width="0.7"/>
<circle cx="1194.5" cy="1019.5" r="3.2" fill="#7BABD0" fill-opacity="0.42" stroke="#10201c" stroke-opacity="0.62" stroke-width="0.7"/>
<circle cx="1184.1" cy="1031.4" r="3.2" fill="#7BABD0" fill-opacity="0.42" stroke="#10201c" stroke-opacity="0.62" stroke-width="0.7"/>
<circle cx="1176.8" cy="1047.8" r="3.2" fill="#7BABD0" fill-opacity="0.42" stroke="#10201c" stroke-opacity="0.62" stroke-width="0.7"/>
<circle cx="1184.4" cy="1049.1" r="3.2" fill="#7BABD0" fill-opacity="0.42" stroke="#10201c" stroke-opacity="0.62" stroke-width="0.7"/>
<circle cx="1197.8" cy="1046.7" r="3.2" fill="#7BABD0" fill-opacity="0.42" stroke="#10201c" stroke-opacity="0.62" stroke-width="0.7"/>
<circle cx="1193.1" cy="1059.7" r="3.2" fill="#7BABD0" fill-opacity="0.42" stroke="#10201c" stroke-opacity="0.62" stroke-width="0.7"/>
<circle cx="1175.7" cy="1084.8" r="3.2" fill="#7BABD0" fill-opacity="0.42" stroke="#10201c" stroke-opacity="0.62" stroke-width="0.7"/>
<line x1="1264.8" y1="749.8" x2="1264.8" y2="794.4" stroke="#333333" stroke-width="1.2" />
<line x1="1264.8" y1="959.3" x2="1264.8" y2="1036.3" stroke="#333333" stroke-width="1.2" />
<line x1="1252.8" y1="749.8" x2="1276.8" y2="749.8" stroke="#333333" stroke-width="1.2" />
<line x1="1252.8" y1="1036.3" x2="1276.8" y2="1036.3" stroke="#333333" stroke-width="1.2" />
<rect x="1235.9" y="794.4" width="57.9" height="164.9" fill="#86CCBF" stroke="#333333" stroke-width="1.3" />
<line x1="1235.9" y1="878.5" x2="1293.8" y2="878.5" stroke="#333333" stroke-width="2.4" />
<circle cx="1257.9" cy="749.8" r="3.2" fill="#86CCBF" fill-opacity="0.42" stroke="#10201c" stroke-opacity="0.62" stroke-width="0.7"/>
<circle cx="1249.7" cy="774.6" r="3.2" fill="#86CCBF" fill-opacity="0.42" stroke="#10201c" stroke-opacity="0.62" stroke-width="0.7"/>
<circle cx="1274.2" cy="785.4" r="3.2" fill="#86CCBF" fill-opacity="0.42" stroke="#10201c" stroke-opacity="0.62" stroke-width="0.7"/>
<circle cx="1269.0" cy="789.0" r="3.2" fill="#86CCBF" fill-opacity="0.42" stroke="#10201c" stroke-opacity="0.62" stroke-width="0.7"/>
<circle cx="1277.5" cy="787.9" r="3.2" fill="#86CCBF" fill-opacity="0.42" stroke="#10201c" stroke-opacity="0.62" stroke-width="0.7"/>
<circle cx="1266.9" cy="792.5" r="3.2" fill="#86CCBF" fill-opacity="0.42" stroke="#10201c" stroke-opacity="0.62" stroke-width="0.7"/>
<circle cx="1258.7" cy="795.2" r="3.2" fill="#86CCBF" fill-opacity="0.42" stroke="#10201c" stroke-opacity="0.62" stroke-width="0.7"/>
<circle cx="1273.7" cy="796.1" r="3.2" fill="#86CCBF" fill-opacity="0.42" stroke="#10201c" stroke-opacity="0.62" stroke-width="0.7"/>
<circle cx="1266.6" cy="810.2" r="3.2" fill="#86CCBF" fill-opacity="0.42" stroke="#10201c" stroke-opacity="0.62" stroke-width="0.7"/>
<circle cx="1273.1" cy="814.0" r="3.2" fill="#86CCBF" fill-opacity="0.42" stroke="#10201c" stroke-opacity="0.62" stroke-width="0.7"/>
<circle cx="1275.0" cy="818.9" r="3.2" fill="#86CCBF" fill-opacity="0.42" stroke="#10201c" stroke-opacity="0.62" stroke-width="0.7"/>
<circle cx="1258.4" cy="829.3" r="3.2" fill="#86CCBF" fill-opacity="0.42" stroke="#10201c" stroke-opacity="0.62" stroke-width="0.7"/>
<circle cx="1254.6" cy="830.3" r="3.2" fill="#86CCBF" fill-opacity="0.42" stroke="#10201c" stroke-opacity="0.62" stroke-width="0.7"/>
<circle cx="1263.1" cy="927.2" r="3.2" fill="#86CCBF" fill-opacity="0.42" stroke="#10201c" stroke-opacity="0.62" stroke-width="0.7"/>
<circle cx="1276.4" cy="941.1" r="3.2" fill="#86CCBF" fill-opacity="0.42" stroke="#10201c" stroke-opacity="0.62" stroke-width="0.7"/>
<circle cx="1267.4" cy="942.4" r="3.2" fill="#86CCBF" fill-opacity="0.42" stroke="#10201c" stroke-opacity="0.62" stroke-width="0.7"/>
<circle cx="1262.2" cy="943.5" r="3.2" fill="#86CCBF" fill-opacity="0.42" stroke="#10201c" stroke-opacity="0.62" stroke-width="0.7"/>
<circle cx="1275.0" cy="949.8" r="3.2" fill="#86CCBF" fill-opacity="0.42" stroke="#10201c" stroke-opacity="0.62" stroke-width="0.7"/>
<circle cx="1268.2" cy="954.4" r="3.2" fill="#86CCBF" fill-opacity="0.42" stroke="#10201c" stroke-opacity="0.62" stroke-width="0.7"/>
<circle cx="1251.6" cy="958.2" r="3.2" fill="#86CCBF" fill-opacity="0.42" stroke="#10201c" stroke-opacity="0.62" stroke-width="0.7"/>
<circle cx="1266.6" cy="962.9" r="3.2" fill="#86CCBF" fill-opacity="0.42" stroke="#10201c" stroke-opacity="0.62" stroke-width="0.7"/>
<circle cx="1279.4" cy="964.5" r="3.2" fill="#86CCBF" fill-opacity="0.42" stroke="#10201c" stroke-opacity="0.62" stroke-width="0.7"/>
<circle cx="1258.4" cy="973.5" r="3.2" fill="#86CCBF" fill-opacity="0.42" stroke="#10201c" stroke-opacity="0.62" stroke-width="0.7"/>
<circle cx="1279.4" cy="977.3" r="3.2" fill="#86CCBF" fill-opacity="0.42" stroke="#10201c" stroke-opacity="0.62" stroke-width="0.7"/>
<circle cx="1272.0" cy="993.1" r="3.2" fill="#86CCBF" fill-opacity="0.42" stroke="#10201c" stroke-opacity="0.62" stroke-width="0.7"/>
<circle cx="1272.3" cy="1030.6" r="3.2" fill="#86CCBF" fill-opacity="0.42" stroke="#10201c" stroke-opacity="0.62" stroke-width="0.7"/>
<circle cx="1263.1" cy="1036.3" r="3.2" fill="#86CCBF" fill-opacity="0.42" stroke="#10201c" stroke-opacity="0.62" stroke-width="0.7"/>
<line x1="1341.4" y1="745.4" x2="1341.4" y2="802.6" stroke="#333333" stroke-width="1.2" />
<line x1="1341.4" y1="946.3" x2="1341.4" y2="1037.1" stroke="#333333" stroke-width="1.2" />
<line x1="1329.4" y1="745.4" x2="1353.4" y2="745.4" stroke="#333333" stroke-width="1.2" />
<line x1="1329.4" y1="1037.1" x2="1353.4" y2="1037.1" stroke="#333333" stroke-width="1.2" />
<rect x="1312.3" y="802.6" width="58.2" height="143.7" fill="#EE7B6E" stroke="#333333" stroke-width="1.3" />
<line x1="1312.3" y1="866.0" x2="1370.5" y2="866.0" stroke="#333333" stroke-width="2.4" />
<circle cx="1348.5" cy="745.2" r="3.2" fill="#EE7B6E" fill-opacity="0.42" stroke="#10201c" stroke-opacity="0.62" stroke-width="0.7"/>
<circle cx="1352.6" cy="749.5" r="3.2" fill="#EE7B6E" fill-opacity="0.42" stroke="#10201c" stroke-opacity="0.62" stroke-width="0.7"/>
<circle cx="1329.5" cy="753.6" r="3.2" fill="#EE7B6E" fill-opacity="0.42" stroke="#10201c" stroke-opacity="0.62" stroke-width="0.7"/>
<circle cx="1350.4" cy="755.5" r="3.2" fill="#EE7B6E" fill-opacity="0.42" stroke="#10201c" stroke-opacity="0.62" stroke-width="0.7"/>
<circle cx="1330.5" cy="758.2" r="3.2" fill="#EE7B6E" fill-opacity="0.42" stroke="#10201c" stroke-opacity="0.62" stroke-width="0.7"/>
<circle cx="1342.5" cy="760.7" r="3.2" fill="#EE7B6E" fill-opacity="0.42" stroke="#10201c" stroke-opacity="0.62" stroke-width="0.7"/>
<circle cx="1331.1" cy="765.9" r="3.2" fill="#EE7B6E" fill-opacity="0.42" stroke="#10201c" stroke-opacity="0.62" stroke-width="0.7"/>
<circle cx="1346.9" cy="815.6" r="3.2" fill="#EE7B6E" fill-opacity="0.42" stroke="#10201c" stroke-opacity="0.62" stroke-width="0.7"/>
<circle cx="1353.4" cy="822.4" r="3.2" fill="#EE7B6E" fill-opacity="0.42" stroke="#10201c" stroke-opacity="0.62" stroke-width="0.7"/>
<circle cx="1346.6" cy="826.0" r="3.2" fill="#EE7B6E" fill-opacity="0.42" stroke="#10201c" stroke-opacity="0.62" stroke-width="0.7"/>
<circle cx="1337.6" cy="831.4" r="3.2" fill="#EE7B6E" fill-opacity="0.42" stroke="#10201c" stroke-opacity="0.62" stroke-width="0.7"/>
<circle cx="1346.6" cy="830.9" r="3.2" fill="#EE7B6E" fill-opacity="0.42" stroke="#10201c" stroke-opacity="0.62" stroke-width="0.7"/>
<circle cx="1348.0" cy="836.9" r="3.2" fill="#EE7B6E" fill-opacity="0.42" stroke="#10201c" stroke-opacity="0.62" stroke-width="0.7"/>
<circle cx="1356.1" cy="842.0" r="3.2" fill="#EE7B6E" fill-opacity="0.42" stroke="#10201c" stroke-opacity="0.62" stroke-width="0.7"/>
<circle cx="1350.7" cy="889.9" r="3.2" fill="#EE7B6E" fill-opacity="0.42" stroke="#10201c" stroke-opacity="0.62" stroke-width="0.7"/>
<circle cx="1339.5" cy="894.6" r="3.2" fill="#EE7B6E" fill-opacity="0.42" stroke="#10201c" stroke-opacity="0.62" stroke-width="0.7"/>
<circle cx="1333.0" cy="895.6" r="3.2" fill="#EE7B6E" fill-opacity="0.42" stroke="#10201c" stroke-opacity="0.62" stroke-width="0.7"/>
<circle cx="1329.2" cy="898.6" r="3.2" fill="#EE7B6E" fill-opacity="0.42" stroke="#10201c" stroke-opacity="0.62" stroke-width="0.7"/>
<circle cx="1333.0" cy="907.1" r="3.2" fill="#EE7B6E" fill-opacity="0.42" stroke="#10201c" stroke-opacity="0.62" stroke-width="0.7"/>
<circle cx="1354.8" cy="923.1" r="3.2" fill="#EE7B6E" fill-opacity="0.42" stroke="#10201c" stroke-opacity="0.62" stroke-width="0.7"/>
<circle cx="1349.9" cy="943.5" r="3.2" fill="#EE7B6E" fill-opacity="0.42" stroke="#10201c" stroke-opacity="0.62" stroke-width="0.7"/>
<circle cx="1345.8" cy="954.7" r="3.2" fill="#EE7B6E" fill-opacity="0.42" stroke="#10201c" stroke-opacity="0.62" stroke-width="0.7"/>
<circle cx="1349.3" cy="955.8" r="3.2" fill="#EE7B6E" fill-opacity="0.42" stroke="#10201c" stroke-opacity="0.62" stroke-width="0.7"/>
<circle cx="1345.5" cy="959.3" r="3.2" fill="#EE7B6E" fill-opacity="0.42" stroke="#10201c" stroke-opacity="0.62" stroke-width="0.7"/>
<circle cx="1349.9" cy="959.9" r="3.2" fill="#EE7B6E" fill-opacity="0.42" stroke="#10201c" stroke-opacity="0.62" stroke-width="0.7"/>
<circle cx="1352.6" cy="967.5" r="3.2" fill="#EE7B6E" fill-opacity="0.42" stroke="#10201c" stroke-opacity="0.62" stroke-width="0.7"/>
<circle cx="1352.3" cy="969.4" r="3.2" fill="#EE7B6E" fill-opacity="0.42" stroke="#10201c" stroke-opacity="0.62" stroke-width="0.7"/>
<circle cx="1348.0" cy="1037.4" r="3.2" fill="#EE7B6E" fill-opacity="0.42" stroke="#10201c" stroke-opacity="0.62" stroke-width="0.7"/>
<line x1="1035.3" y1="1101.6" x2="1035.3" y2="1106.6" stroke="#111" stroke-width="1.0" />
<text x="1037.5" y="1141.4" font-size="28" text-anchor="middle" fill="#000" >FX</text>
<line x1="1111.5" y1="1101.6" x2="1111.5" y2="1106.6" stroke="#111" stroke-width="1.0" />
<text x="1112.0" y="1141.4" font-size="28" text-anchor="middle" fill="#000" >LH</text>
<line x1="1188.0" y1="1101.6" x2="1188.0" y2="1106.6" stroke="#111" stroke-width="1.0" />
<text x="1187.3" y="1141.4" font-size="28" text-anchor="middle" fill="#000" >ZS</text>
<line x1="1264.4" y1="1101.6" x2="1264.4" y2="1106.6" stroke="#111" stroke-width="1.0" />
<text x="1263.9" y="1141.4" font-size="28" text-anchor="middle" fill="#000" >DP</text>
<line x1="1340.9" y1="1101.6" x2="1340.9" y2="1106.6" stroke="#111" stroke-width="1.0" />
<text x="1341.6" y="1141.4" font-size="28" text-anchor="middle" fill="#000" >XY</text>
<text x="1186.0" y="1184.0" font-size="31" text-anchor="middle" fill="#000" >Lake</text>
<rect x="1418.8" y="669.5" width="413.5" height="56.9" fill="#B4B4B4" stroke="none" stroke-width="1" />
<text x="1635.8" y="711.3" font-size="32.1" text-anchor="middle" fill="#000" >phnJ ~ Size | Lake</text>
<rect x="1419.0" y="726.4" width="413.2" height="375.9" fill="#fff" stroke="#000" stroke-width="1.3" />
<text x="1430.6" y="773.3" font-size="28.15" text-anchor="start" fill="#000" >ANOVA: <tspan font-style="italic">P</tspan> &lt; 0.001</text>
<line x1="1478.0" y1="990.6" x2="1478.0" y2="1023.1" stroke="#EFB030" stroke-width="1.5" />
<line x1="1473.1" y1="990.6" x2="1482.9" y2="990.6" stroke="#EFB030" stroke-width="1.5" />
<line x1="1473.1" y1="1023.1" x2="1482.9" y2="1023.1" stroke="#EFB030" stroke-width="1.5" />
<line x1="1575.9" y1="1017.7" x2="1575.9" y2="1085.5" stroke="#EFB030" stroke-width="1.5" />
<line x1="1571.0" y1="1017.7" x2="1580.8" y2="1017.7" stroke="#EFB030" stroke-width="1.5" />
<line x1="1571.0" y1="1085.5" x2="1580.8" y2="1085.5" stroke="#EFB030" stroke-width="1.5" />
<line x1="1673.7" y1="950.0" x2="1673.7" y2="972.2" stroke="#EFB030" stroke-width="1.5" />
<line x1="1668.8" y1="950.0" x2="1678.6" y2="950.0" stroke="#EFB030" stroke-width="1.5" />
<line x1="1668.8" y1="972.2" x2="1678.6" y2="972.2" stroke="#EFB030" stroke-width="1.5" />
<line x1="1771.8" y1="853.8" x2="1771.8" y2="872.2" stroke="#EFB030" stroke-width="1.5" />
<line x1="1766.9" y1="853.8" x2="1776.7" y2="853.8" stroke="#EFB030" stroke-width="1.5" />
<line x1="1766.9" y1="872.2" x2="1776.7" y2="872.2" stroke="#EFB030" stroke-width="1.5" />
<polyline points="1478.0,1006.9 1575.9,1051.6 1673.7,960.8 1771.8,862.7" fill="none" stroke="#EFB030" stroke-width="2.5" stroke-linejoin="round"/>
<circle cx="1478.0" cy="1006.9" r="4.9" fill="#EFB030" />
<circle cx="1575.9" cy="1051.6" r="4.9" fill="#EFB030" />
<circle cx="1673.7" cy="960.8" r="4.9" fill="#EFB030" />
<circle cx="1771.8" cy="862.7" r="4.9" fill="#EFB030" />
<line x1="1478.0" y1="970.3" x2="1478.0" y2="1011.0" stroke="#BDB7DB" stroke-width="1.5" />
<line x1="1473.1" y1="970.3" x2="1482.9" y2="970.3" stroke="#BDB7DB" stroke-width="1.5" />
<line x1="1473.1" y1="1011.0" x2="1482.9" y2="1011.0" stroke="#BDB7DB" stroke-width="1.5" />
<line x1="1575.9" y1="952.7" x2="1575.9" y2="979.8" stroke="#BDB7DB" stroke-width="1.5" />
<line x1="1571.0" y1="952.7" x2="1580.8" y2="952.7" stroke="#BDB7DB" stroke-width="1.5" />
<line x1="1571.0" y1="979.8" x2="1580.8" y2="979.8" stroke="#BDB7DB" stroke-width="1.5" />
<line x1="1673.7" y1="883.6" x2="1673.7" y2="905.8" stroke="#BDB7DB" stroke-width="1.5" />
<line x1="1668.8" y1="883.6" x2="1678.6" y2="883.6" stroke="#BDB7DB" stroke-width="1.5" />
<line x1="1668.8" y1="905.8" x2="1678.6" y2="905.8" stroke="#BDB7DB" stroke-width="1.5" />
<line x1="1771.8" y1="834.8" x2="1771.8" y2="847.0" stroke="#BDB7DB" stroke-width="1.5" />
<line x1="1766.9" y1="834.8" x2="1776.7" y2="834.8" stroke="#BDB7DB" stroke-width="1.5" />
<line x1="1766.9" y1="847.0" x2="1776.7" y2="847.0" stroke="#BDB7DB" stroke-width="1.5" />
<polyline points="1478.0,990.6 1575.9,966.2 1673.7,893.9 1771.8,840.8" fill="none" stroke="#BDB7DB" stroke-width="2.5" stroke-linejoin="round"/>
<circle cx="1478.0" cy="990.6" r="4.9" fill="#BDB7DB" />
<circle cx="1575.9" cy="966.2" r="4.9" fill="#BDB7DB" />
<circle cx="1673.7" cy="893.9" r="4.9" fill="#BDB7DB" />
<circle cx="1771.8" cy="840.8" r="4.9" fill="#BDB7DB" />
<line x1="1478.0" y1="1027.2" x2="1478.0" y2="1079.2" stroke="#7BABD0" stroke-width="1.5" />
<line x1="1473.1" y1="1027.2" x2="1482.9" y2="1027.2" stroke="#7BABD0" stroke-width="1.5" />
<line x1="1473.1" y1="1079.2" x2="1482.9" y2="1079.2" stroke="#7BABD0" stroke-width="1.5" />
<line x1="1575.9" y1="979.8" x2="1575.9" y2="1030.5" stroke="#7BABD0" stroke-width="1.5" />
<line x1="1571.0" y1="979.8" x2="1580.8" y2="979.8" stroke="#7BABD0" stroke-width="1.5" />
<line x1="1571.0" y1="1030.5" x2="1580.8" y2="1030.5" stroke="#7BABD0" stroke-width="1.5" />
<line x1="1673.7" y1="812.6" x2="1673.7" y2="848.9" stroke="#7BABD0" stroke-width="1.5" />
<line x1="1668.8" y1="812.6" x2="1678.6" y2="812.6" stroke="#7BABD0" stroke-width="1.5" />
<line x1="1668.8" y1="848.9" x2="1678.6" y2="848.9" stroke="#7BABD0" stroke-width="1.5" />
<line x1="1771.8" y1="818.5" x2="1771.8" y2="830.2" stroke="#7BABD0" stroke-width="1.5" />
<line x1="1766.9" y1="818.5" x2="1776.7" y2="818.5" stroke="#7BABD0" stroke-width="1.5" />
<line x1="1766.9" y1="830.2" x2="1776.7" y2="830.2" stroke="#7BABD0" stroke-width="1.5" />
<polyline points="1478.0,1053.0 1575.9,1004.7 1673.7,830.7 1771.8,824.2" fill="none" stroke="#7BABD0" stroke-width="2.5" stroke-linejoin="round"/>
<circle cx="1478.0" cy="1053.0" r="4.9" fill="#7BABD0" />
<circle cx="1575.9" cy="1004.7" r="4.9" fill="#7BABD0" />
<circle cx="1673.7" cy="830.7" r="4.9" fill="#7BABD0" />
<circle cx="1771.8" cy="824.2" r="4.9" fill="#7BABD0" />
<line x1="1478.0" y1="939.1" x2="1478.0" y2="1028.6" stroke="#86CCBF" stroke-width="1.5" />
<line x1="1473.1" y1="939.1" x2="1482.9" y2="939.1" stroke="#86CCBF" stroke-width="1.5" />
<line x1="1473.1" y1="1028.6" x2="1482.9" y2="1028.6" stroke="#86CCBF" stroke-width="1.5" />
<line x1="1575.9" y1="948.6" x2="1575.9" y2="977.1" stroke="#86CCBF" stroke-width="1.5" />
<line x1="1571.0" y1="948.6" x2="1580.8" y2="948.6" stroke="#86CCBF" stroke-width="1.5" />
<line x1="1571.0" y1="977.1" x2="1580.8" y2="977.1" stroke="#86CCBF" stroke-width="1.5" />
<line x1="1673.7" y1="766.5" x2="1673.7" y2="800.4" stroke="#86CCBF" stroke-width="1.5" />
<line x1="1668.8" y1="766.5" x2="1678.6" y2="766.5" stroke="#86CCBF" stroke-width="1.5" />
<line x1="1668.8" y1="800.4" x2="1678.6" y2="800.4" stroke="#86CCBF" stroke-width="1.5" />
<line x1="1771.8" y1="786.0" x2="1771.8" y2="829.4" stroke="#86CCBF" stroke-width="1.5" />
<line x1="1766.9" y1="786.0" x2="1776.7" y2="786.0" stroke="#86CCBF" stroke-width="1.5" />
<line x1="1766.9" y1="829.4" x2="1776.7" y2="829.4" stroke="#86CCBF" stroke-width="1.5" />
<polyline points="1478.0,983.8 1575.9,963.0 1673.7,783.8 1771.8,808.0" fill="none" stroke="#86CCBF" stroke-width="2.5" stroke-linejoin="round"/>
<circle cx="1478.0" cy="983.8" r="4.9" fill="#86CCBF" />
<circle cx="1575.9" cy="963.0" r="4.9" fill="#86CCBF" />
<circle cx="1673.7" cy="783.8" r="4.9" fill="#86CCBF" />
<circle cx="1771.8" cy="808.0" r="4.9" fill="#86CCBF" />
<line x1="1478.0" y1="889.8" x2="1478.0" y2="929.9" stroke="#EE7B6E" stroke-width="1.5" />
<line x1="1473.1" y1="889.8" x2="1482.9" y2="889.8" stroke="#EE7B6E" stroke-width="1.5" />
<line x1="1473.1" y1="929.9" x2="1482.9" y2="929.9" stroke="#EE7B6E" stroke-width="1.5" />
<line x1="1575.9" y1="946.7" x2="1575.9" y2="1004.2" stroke="#EE7B6E" stroke-width="1.5" />
<line x1="1571.0" y1="946.7" x2="1580.8" y2="946.7" stroke="#EE7B6E" stroke-width="1.5" />
<line x1="1571.0" y1="1004.2" x2="1580.8" y2="1004.2" stroke="#EE7B6E" stroke-width="1.5" />
<line x1="1673.7" y1="818.5" x2="1673.7" y2="838.9" stroke="#EE7B6E" stroke-width="1.5" />
<line x1="1668.8" y1="818.5" x2="1678.6" y2="818.5" stroke="#EE7B6E" stroke-width="1.5" />
<line x1="1668.8" y1="838.9" x2="1678.6" y2="838.9" stroke="#EE7B6E" stroke-width="1.5" />
<line x1="1771.8" y1="744.8" x2="1771.8" y2="759.7" stroke="#EE7B6E" stroke-width="1.5" />
<line x1="1766.9" y1="744.8" x2="1776.7" y2="744.8" stroke="#EE7B6E" stroke-width="1.5" />
<line x1="1766.9" y1="759.7" x2="1776.7" y2="759.7" stroke="#EE7B6E" stroke-width="1.5" />
<polyline points="1478.0,909.9 1575.9,975.7 1673.7,829.4 1771.8,752.7" fill="none" stroke="#EE7B6E" stroke-width="2.5" stroke-linejoin="round"/>
<circle cx="1478.0" cy="909.9" r="4.9" fill="#EE7B6E" />
<circle cx="1575.9" cy="975.7" r="4.9" fill="#EE7B6E" />
<circle cx="1673.7" cy="829.4" r="4.9" fill="#EE7B6E" />
<circle cx="1771.8" cy="752.7" r="4.9" fill="#EE7B6E" />
<line x1="1478.0" y1="1102.3" x2="1478.0" y2="1107.3" stroke="#111" stroke-width="1.0" />
<text x="1473.9" y="1141.4" font-size="28" text-anchor="middle" fill="#000" letter-spacing="0.5">&gt;112</text>
<line x1="1575.9" y1="1102.3" x2="1575.9" y2="1107.3" stroke="#111" stroke-width="1.0" />
<text x="1575.9" y="1141.4" font-size="28" text-anchor="middle" fill="#000" letter-spacing="0.75">64~112</text>
<line x1="1673.7" y1="1102.3" x2="1673.7" y2="1107.3" stroke="#111" stroke-width="1.0" />
<text x="1678.6" y="1141.4" font-size="28" text-anchor="middle" fill="#000" >5~64</text>
<line x1="1771.8" y1="1102.3" x2="1771.8" y2="1107.3" stroke="#111" stroke-width="1.0" />
<text x="1769.4" y="1141.4" font-size="28" text-anchor="middle" fill="#000" letter-spacing="0.5">0.2~5</text>
<text x="1640.4" y="1184.0" font-size="31.5" text-anchor="middle" fill="#000" letter-spacing="0.6">Size (μm)</text>
<circle cx="130.4" cy="1603.9" r="7.75" fill="#70A7CF" />
<circle cx="148.7" cy="1585.5" r="7.75" fill="#70A7CF" />
<circle cx="139.9" cy="1571.2" r="7.75" fill="#70A7CF" />
<circle cx="129.4" cy="1549.8" r="7.75" fill="#70A7CF" />
<circle cx="133.6" cy="1545.6" r="7.75" fill="#70A7CF" />
<circle cx="141.3" cy="1536.2" r="7.75" fill="#70A7CF" />
<circle cx="140.5" cy="1505.7" r="7.75" fill="#70A7CF" />
<circle cx="175.9" cy="1449.1" r="7.75" fill="#70A7CF" />
<circle cx="173.4" cy="1450.2" r="7.75" fill="#70A7CF" />
<circle cx="193.3" cy="1426.7" r="7.75" fill="#70A7CF" />
<circle cx="216.4" cy="1440.7" r="7.75" fill="#70A7CF" />
<circle cx="222.3" cy="1428.1" r="7.75" fill="#70A7CF" />
<circle cx="159.8" cy="1416.6" r="7.75" fill="#70A7CF" />
<circle cx="168.2" cy="1425.0" r="7.75" fill="#70A7CF" />
<circle cx="179.3" cy="1417.7" r="7.75" fill="#70A7CF" />
<circle cx="181.8" cy="1408.2" r="7.75" fill="#70A7CF" />
<circle cx="187.0" cy="1397.7" r="7.75" fill="#70A7CF" />
<circle cx="196.5" cy="1407.2" r="7.75" fill="#70A7CF" />
<circle cx="205.9" cy="1403.0" r="7.75" fill="#70A7CF" />
<circle cx="200.7" cy="1394.6" r="7.75" fill="#70A7CF" />
<circle cx="208.0" cy="1390.4" r="7.75" fill="#70A7CF" />
<circle cx="192.3" cy="1384.1" r="7.75" fill="#70A7CF" />
<circle cx="189.1" cy="1379.9" r="7.75" fill="#70A7CF" />
<circle cx="190.2" cy="1363.1" r="7.75" fill="#70A7CF" />
<circle cx="189.1" cy="1348.4" r="7.75" fill="#70A7CF" />
<circle cx="234.2" cy="1345.3" r="7.75" fill="#70A7CF" />
<circle cx="390.5" cy="1320.1" r="7.75" fill="#70A7CF" />
<circle cx="412.1" cy="1301.7" r="7.75" fill="#70A7CF" />
<circle cx="425.1" cy="1314.9" r="7.75" fill="#70A7CF" />
<circle cx="431.0" cy="1333.8" r="7.75" fill="#70A7CF" />
<circle cx="434.6" cy="1292.9" r="7.75" fill="#70A7CF" />
<circle cx="441.5" cy="1295.6" r="7.75" fill="#70A7CF" />
<circle cx="441.5" cy="1307.5" r="7.75" fill="#70A7CF" />
<polygon points="129.4,1452.8 137.2,1449.3 145.0,1445.8 152.8,1442.1 160.6,1438.3 168.4,1434.4 176.2,1430.4 184.0,1426.2 191.8,1421.7 199.6,1417.1 207.4,1412.2 215.2,1407.2 223.0,1402.1 230.8,1396.8 238.6,1391.5 246.4,1386.1 254.2,1380.7 262.0,1375.1 269.8,1369.5 277.6,1363.8 285.4,1358.1 293.2,1352.3 301.0,1346.5 308.8,1340.6 316.6,1334.8 324.4,1328.8 332.2,1322.9 340.0,1316.9 347.8,1310.9 355.6,1304.9 363.4,1298.8 371.2,1292.8 379.1,1286.7 386.9,1280.6 394.7,1274.6 402.5,1268.4 410.3,1262.3 418.1,1256.2 425.9,1250.1 433.7,1244.0 441.5,1237.8 441.5,1324.8 433.7,1328.5 425.9,1332.3 418.1,1336.0 410.3,1339.7 402.5,1343.5 394.7,1347.2 386.9,1351.0 379.1,1354.8 371.2,1358.6 363.4,1362.4 355.6,1366.2 347.8,1370.0 340.0,1373.9 332.2,1377.8 324.4,1381.7 316.6,1385.6 308.8,1389.6 301.0,1393.6 293.2,1397.6 285.4,1401.7 277.6,1405.8 269.8,1410.0 262.0,1414.2 254.2,1418.6 246.4,1422.9 238.6,1427.4 230.8,1432.0 223.0,1436.6 215.2,1441.3 207.4,1446.2 199.6,1451.2 191.8,1456.4 184.0,1461.8 176.2,1467.4 168.4,1473.2 160.6,1479.2 152.8,1485.3 145.0,1491.5 137.2,1497.8 129.4,1504.2" fill="#999999" fill-opacity="0.4"/>
<line x1="129.4" y1="1478.5" x2="441.5" y2="1281.3" stroke="#808080" stroke-width="3.8" />
<text x="139.9" y="1252.5" font-size="28.8" text-anchor="start" fill="#000" >R² = 0.60</text>
<text x="143.6" y="1299.5" font-size="28.3" text-anchor="start" fill="#000" ><tspan font-style="italic">P</tspan> &lt; 0.001</text>
<circle cx="475.0" cy="1339.4" r="7.75" fill="#F5A852" />
<circle cx="523.5" cy="1335.9" r="7.75" fill="#F5A852" />
<circle cx="480.5" cy="1372.6" r="7.75" fill="#F5A852" />
<circle cx="482.6" cy="1376.8" r="7.75" fill="#F5A852" />
<circle cx="519.3" cy="1382.6" r="7.75" fill="#F5A852" />
<circle cx="478.8" cy="1390.4" r="7.75" fill="#F5A852" />
<circle cx="483.6" cy="1392.5" r="7.75" fill="#F5A852" />
<circle cx="480.5" cy="1401.3" r="7.75" fill="#F5A852" />
<circle cx="472.1" cy="1413.0" r="7.75" fill="#F5A852" />
<circle cx="530.6" cy="1395.6" r="7.75" fill="#F5A852" />
<circle cx="556.0" cy="1400.5" r="7.75" fill="#F5A852" />
<circle cx="533.3" cy="1421.8" r="7.75" fill="#F5A852" />
<circle cx="556.8" cy="1434.4" r="7.75" fill="#F5A852" />
<circle cx="544.9" cy="1444.9" r="7.75" fill="#F5A852" />
<circle cx="588.9" cy="1441.8" r="7.75" fill="#F5A852" />
<circle cx="598.8" cy="1418.7" r="7.75" fill="#F5A852" />
<circle cx="614.7" cy="1410.3" r="7.75" fill="#F5A852" />
<circle cx="643.0" cy="1389.8" r="7.75" fill="#F5A852" />
<circle cx="648.1" cy="1280.3" r="7.75" fill="#F5A852" />
<circle cx="648.7" cy="1290.8" r="7.75" fill="#F5A852" />
<circle cx="666.1" cy="1309.6" r="7.75" fill="#F5A852" />
<circle cx="685.8" cy="1296.6" r="7.75" fill="#F5A852" />
<circle cx="700.1" cy="1304.4" r="7.75" fill="#F5A852" />
<circle cx="715.4" cy="1323.9" r="7.75" fill="#F5A852" />
<circle cx="762.4" cy="1284.5" r="7.75" fill="#F5A852" />
<circle cx="784.0" cy="1354.3" r="7.75" fill="#F5A852" />
<circle cx="780.2" cy="1419.8" r="7.75" fill="#F5A852" />
<circle cx="480.3" cy="1502.0" r="7.75" fill="#F5A852" />
<circle cx="475.0" cy="1533.6" r="7.75" fill="#F5A852" />
<circle cx="477.8" cy="1543.5" r="7.75" fill="#F5A852" />
<circle cx="477.8" cy="1547.7" r="7.75" fill="#F5A852" />
<circle cx="477.3" cy="1570.4" r="7.75" fill="#F5A852" />
<circle cx="479.4" cy="1584.8" r="7.75" fill="#F5A852" />
<circle cx="479.4" cy="1603.7" r="7.75" fill="#F5A852" />
<polygon points="472.1,1425.6 479.9,1423.5 487.7,1421.3 495.5,1419.0 503.3,1416.6 511.1,1414.1 518.9,1411.6 526.7,1408.8 534.6,1405.9 542.4,1402.8 550.2,1399.4 558.0,1395.8 565.8,1391.8 573.6,1387.7 581.4,1383.3 589.2,1378.7 597.0,1373.9 604.8,1368.9 612.6,1363.8 620.4,1358.5 628.3,1353.1 636.1,1347.7 643.9,1342.1 651.7,1336.5 659.5,1330.8 667.3,1325.1 675.1,1319.3 682.9,1313.5 690.7,1307.6 698.5,1301.8 706.3,1295.9 714.1,1289.9 721.9,1284.0 729.8,1278.1 737.6,1272.1 745.4,1266.1 753.2,1260.1 761.0,1254.1 768.8,1248.1 776.6,1242.1 784.4,1236.0 784.4,1358.0 776.6,1360.1 768.8,1362.3 761.0,1364.4 753.2,1366.5 745.4,1368.6 737.6,1370.8 729.8,1372.9 721.9,1375.1 714.1,1377.3 706.3,1379.5 698.5,1381.7 690.7,1384.0 682.9,1386.3 675.1,1388.6 667.3,1390.9 659.5,1393.3 651.7,1395.8 643.9,1398.3 636.1,1400.9 628.3,1403.5 620.4,1406.3 612.6,1409.1 604.8,1412.1 597.0,1415.3 589.2,1418.6 581.4,1422.2 573.6,1425.9 565.8,1429.8 558.0,1434.0 550.2,1438.5 542.4,1443.3 534.6,1448.3 526.7,1453.5 518.9,1458.9 511.1,1464.4 503.3,1470.1 495.5,1475.8 487.7,1481.7 479.9,1487.6 472.1,1493.6" fill="#999999" fill-opacity="0.4"/>
<line x1="472.1" y1="1459.6" x2="784.4" y2="1297.0" stroke="#808080" stroke-width="3.8" />
<text x="483.1" y="1252.5" font-size="28.8" text-anchor="start" fill="#000" >R² = 0.35</text>
<text x="483.8" y="1299.5" font-size="28.3" text-anchor="start" fill="#000" ><tspan font-style="italic">P</tspan> &lt; 0.001</text>
<circle cx="831.0" cy="1345.7" r="7.75" fill="#A0D264" />
<circle cx="845.7" cy="1360.4" r="7.75" fill="#A0D264" />
<circle cx="905.0" cy="1342.1" r="7.75" fill="#A0D264" />
<circle cx="819.0" cy="1382.4" r="7.75" fill="#A0D264" />
<circle cx="839.8" cy="1388.3" r="7.75" fill="#A0D264" />
<circle cx="829.7" cy="1396.0" r="7.75" fill="#A0D264" />
<circle cx="835.0" cy="1399.8" r="7.75" fill="#A0D264" />
<circle cx="845.0" cy="1405.1" r="7.75" fill="#A0D264" />
<circle cx="815.2" cy="1406.5" r="7.75" fill="#A0D264" />
<circle cx="837.1" cy="1414.5" r="7.75" fill="#A0D264" />
<circle cx="847.1" cy="1423.9" r="7.75" fill="#A0D264" />
<circle cx="839.4" cy="1439.0" r="7.75" fill="#A0D264" />
<circle cx="828.9" cy="1445.3" r="7.75" fill="#A0D264" />
<circle cx="898.7" cy="1414.5" r="7.75" fill="#A0D264" />
<circle cx="917.2" cy="1426.7" r="7.75" fill="#A0D264" />
<circle cx="904.8" cy="1449.1" r="7.75" fill="#A0D264" />
<circle cx="986.8" cy="1377.8" r="7.75" fill="#A0D264" />
<circle cx="1003.6" cy="1395.0" r="7.75" fill="#A0D264" />
<circle cx="995.0" cy="1418.1" r="7.75" fill="#A0D264" />
<circle cx="1049.9" cy="1288.7" r="7.75" fill="#A0D264" />
<circle cx="1070.5" cy="1292.9" r="7.75" fill="#A0D264" />
<circle cx="1064.2" cy="1304.4" r="7.75" fill="#A0D264" />
<circle cx="1072.2" cy="1316.6" r="7.75" fill="#A0D264" />
<circle cx="1114.1" cy="1330.6" r="7.75" fill="#A0D264" />
<circle cx="1127.6" cy="1311.7" r="7.75" fill="#A0D264" />
<circle cx="832.0" cy="1504.7" r="7.75" fill="#A0D264" />
<circle cx="837.3" cy="1535.7" r="7.75" fill="#A0D264" />
<circle cx="842.9" cy="1545.2" r="7.75" fill="#A0D264" />
<circle cx="829.7" cy="1549.2" r="7.75" fill="#A0D264" />
<circle cx="839.4" cy="1570.8" r="7.75" fill="#A0D264" />
<circle cx="823.0" cy="1584.8" r="7.75" fill="#A0D264" />
<circle cx="834.5" cy="1603.7" r="7.75" fill="#A0D264" />
<polygon points="815.2,1433.9 823.0,1431.2 830.9,1428.4 838.7,1425.5 846.5,1422.6 854.3,1419.6 862.1,1416.6 869.9,1413.4 877.7,1410.1 885.5,1406.7 893.3,1403.1 901.1,1399.3 908.9,1395.3 916.7,1391.1 924.5,1386.7 932.4,1382.1 940.2,1377.3 948.0,1372.3 955.8,1367.1 963.6,1361.8 971.4,1356.4 979.2,1350.9 987.0,1345.3 994.8,1339.6 1002.6,1333.8 1010.4,1328.0 1018.2,1322.2 1026.1,1316.3 1033.9,1310.4 1041.7,1304.4 1049.5,1298.5 1057.3,1292.5 1065.1,1286.5 1072.9,1280.4 1080.7,1274.4 1088.5,1268.3 1096.3,1262.3 1104.1,1256.2 1111.9,1250.1 1119.7,1244.0 1127.6,1237.9 1127.6,1346.9 1119.7,1349.4 1111.9,1351.9 1104.1,1354.4 1096.3,1356.9 1088.5,1359.4 1080.7,1361.9 1072.9,1364.4 1065.1,1366.9 1057.3,1369.5 1049.5,1372.1 1041.7,1374.7 1033.9,1377.3 1026.1,1379.9 1018.2,1382.6 1010.4,1385.4 1002.6,1388.1 994.8,1390.9 987.0,1393.8 979.2,1396.8 971.4,1399.8 963.6,1403.0 955.8,1406.2 948.0,1409.7 940.2,1413.2 932.4,1417.0 924.5,1420.9 916.7,1425.1 908.9,1429.5 901.1,1434.1 893.3,1438.9 885.5,1443.8 877.7,1449.0 869.9,1454.2 862.1,1459.6 854.3,1465.1 846.5,1470.7 838.7,1476.4 830.9,1482.1 823.0,1487.9 815.2,1493.7" fill="#999999" fill-opacity="0.4"/>
<line x1="815.2" y1="1463.8" x2="1127.6" y2="1292.4" stroke="#808080" stroke-width="3.8" />
<text x="826.4" y="1252.5" font-size="28.8" text-anchor="start" fill="#000" >R² = 0.43</text>
<text x="829.1" y="1299.5" font-size="28.3" text-anchor="start" fill="#000" ><tspan font-style="italic">P</tspan> &lt; 0.001</text>
<circle cx="1158.4" cy="1500.5" r="7.75" fill="#F3C2DC" />
<circle cx="1159.2" cy="1532.6" r="7.75" fill="#F3C2DC" />
<circle cx="1161.3" cy="1542.5" r="7.75" fill="#F3C2DC" />
<circle cx="1162.0" cy="1547.7" r="7.75" fill="#F3C2DC" />
<circle cx="1159.2" cy="1570.1" r="7.75" fill="#F3C2DC" />
<circle cx="1160.3" cy="1584.4" r="7.75" fill="#F3C2DC" />
<circle cx="1161.5" cy="1603.7" r="7.75" fill="#F3C2DC" />
<circle cx="1209.1" cy="1388.9" r="7.75" fill="#F3C2DC" />
<circle cx="1237.0" cy="1398.1" r="7.75" fill="#F3C2DC" />
<circle cx="1241.2" cy="1371.5" r="7.75" fill="#F3C2DC" />
<circle cx="1242.3" cy="1368.4" r="7.75" fill="#F3C2DC" />
<circle cx="1248.4" cy="1334.8" r="7.75" fill="#F3C2DC" />
<circle cx="1248.4" cy="1410.3" r="7.75" fill="#F3C2DC" />
<circle cx="1266.2" cy="1386.8" r="7.75" fill="#F3C2DC" />
<circle cx="1277.9" cy="1386.8" r="7.75" fill="#F3C2DC" />
<circle cx="1273.1" cy="1406.7" r="7.75" fill="#F3C2DC" />
<circle cx="1269.3" cy="1415.6" r="7.75" fill="#F3C2DC" />
<circle cx="1264.3" cy="1442.8" r="7.75" fill="#F3C2DC" />
<circle cx="1296.2" cy="1350.1" r="7.75" fill="#F3C2DC" />
<circle cx="1298.3" cy="1407.2" r="7.75" fill="#F3C2DC" />
<circle cx="1289.9" cy="1416.6" r="7.75" fill="#F3C2DC" />
<circle cx="1288.8" cy="1432.3" r="7.75" fill="#F3C2DC" />
<circle cx="1305.6" cy="1392.1" r="7.75" fill="#F3C2DC" />
<circle cx="1309.8" cy="1397.7" r="7.75" fill="#F3C2DC" />
<circle cx="1309.8" cy="1439.3" r="7.75" fill="#F3C2DC" />
<circle cx="1321.8" cy="1378.8" r="7.75" fill="#F3C2DC" />
<circle cx="1323.5" cy="1419.1" r="7.75" fill="#F3C2DC" />
<circle cx="1344.4" cy="1331.2" r="7.75" fill="#F3C2DC" />
<circle cx="1447.2" cy="1285.5" r="7.75" fill="#F3C2DC" />
<circle cx="1459.4" cy="1275.7" r="7.75" fill="#F3C2DC" />
<circle cx="1461.5" cy="1282.4" r="7.75" fill="#F3C2DC" />
<circle cx="1467.1" cy="1291.8" r="7.75" fill="#F3C2DC" />
<circle cx="1462.5" cy="1299.1" r="7.75" fill="#F3C2DC" />
<circle cx="1454.1" cy="1305.0" r="7.75" fill="#F3C2DC" />
<circle cx="1470.3" cy="1319.7" r="7.75" fill="#F3C2DC" />
<polygon points="1158.8,1482.2 1166.6,1477.5 1174.4,1472.7 1182.1,1468.0 1189.9,1463.2 1197.7,1458.4 1205.5,1453.5 1213.2,1448.6 1221.0,1443.7 1228.8,1438.7 1236.6,1433.6 1244.3,1428.5 1252.1,1423.3 1259.9,1417.9 1267.7,1412.4 1275.5,1406.8 1283.2,1401.1 1291.0,1395.2 1298.8,1389.1 1306.6,1382.9 1314.3,1376.6 1322.1,1370.2 1329.9,1363.7 1337.7,1357.0 1345.4,1350.3 1353.2,1343.6 1361.0,1336.7 1368.8,1329.9 1376.5,1323.0 1384.3,1316.0 1392.1,1309.0 1399.9,1302.1 1407.7,1295.0 1415.4,1288.0 1423.2,1281.0 1431.0,1273.9 1438.8,1266.8 1446.5,1259.7 1454.3,1252.6 1462.1,1245.5 1469.9,1238.4 1469.9,1302.4 1462.1,1307.1 1454.3,1311.9 1446.5,1316.6 1438.8,1321.4 1431.0,1326.2 1423.2,1331.0 1415.4,1335.8 1407.7,1340.6 1399.9,1345.4 1392.1,1350.3 1384.3,1355.2 1376.5,1360.1 1368.8,1365.0 1361.0,1370.0 1353.2,1375.0 1345.4,1380.1 1337.7,1385.3 1329.9,1390.5 1322.1,1395.8 1314.3,1401.2 1306.6,1406.7 1298.8,1412.4 1291.0,1418.2 1283.2,1424.1 1275.5,1430.2 1267.7,1436.5 1259.9,1442.9 1252.1,1449.4 1244.3,1456.0 1236.6,1462.7 1228.8,1469.5 1221.0,1476.4 1213.2,1483.3 1205.5,1490.2 1197.7,1497.2 1189.9,1504.3 1182.1,1511.3 1174.4,1518.4 1166.6,1525.5 1158.8,1532.6" fill="#999999" fill-opacity="0.4"/>
<line x1="1158.8" y1="1507.4" x2="1469.9" y2="1270.4" stroke="#808080" stroke-width="3.8" />
<text x="1169.6" y="1252.5" font-size="28.8" text-anchor="start" fill="#000" >R² = 0.74</text>
<text x="1173.3" y="1299.5" font-size="28.3" text-anchor="start" fill="#000" ><tspan font-style="italic">P</tspan> &lt; 0.001</text>
<circle cx="1705.0" cy="1236.8" r="7.75" fill="#B97DC0" />
<circle cx="1795.8" cy="1240.8" r="7.75" fill="#B97DC0" />
<circle cx="1790.6" cy="1247.9" r="7.75" fill="#B97DC0" />
<circle cx="1813.1" cy="1255.0" r="7.75" fill="#B97DC0" />
<circle cx="1762.6" cy="1263.8" r="7.75" fill="#B97DC0" />
<circle cx="1810.0" cy="1269.7" r="7.75" fill="#B97DC0" />
<circle cx="1766.4" cy="1286.3" r="7.75" fill="#B97DC0" />
<circle cx="1761.9" cy="1299.6" r="7.75" fill="#B97DC0" />
<circle cx="1607.4" cy="1304.1" r="7.75" fill="#B97DC0" />
<circle cx="1722.3" cy="1320.4" r="7.75" fill="#B97DC0" />
<circle cx="1634.2" cy="1340.3" r="7.75" fill="#B97DC0" />
<circle cx="1625.2" cy="1346.3" r="7.75" fill="#B97DC0" />
<circle cx="1813.5" cy="1352.9" r="7.75" fill="#B97DC0" />
<circle cx="1608.8" cy="1363.6" r="7.75" fill="#B97DC0" />
<circle cx="1615.7" cy="1374.0" r="7.75" fill="#B97DC0" />
<circle cx="1655.5" cy="1360.9" r="7.75" fill="#B97DC0" />
<circle cx="1661.4" cy="1360.9" r="7.75" fill="#B97DC0" />
<circle cx="1756.7" cy="1367.1" r="7.75" fill="#B97DC0" />
<circle cx="1697.7" cy="1373.0" r="7.75" fill="#B97DC0" />
<circle cx="1588.7" cy="1387.2" r="7.75" fill="#B97DC0" />
<circle cx="1759.0" cy="1383.7" r="7.75" fill="#B97DC0" />
<circle cx="1772.8" cy="1384.6" r="7.75" fill="#B97DC0" />
<circle cx="1698.1" cy="1394.8" r="7.75" fill="#B97DC0" />
<circle cx="1753.8" cy="1397.7" r="7.75" fill="#B97DC0" />
<circle cx="1810.2" cy="1393.6" r="7.75" fill="#B97DC0" />
<circle cx="1796.0" cy="1411.9" r="7.75" fill="#B97DC0" />
<circle cx="1770.9" cy="1419.7" r="7.75" fill="#B97DC0" />
<circle cx="1743.9" cy="1423.7" r="7.75" fill="#B97DC0" />
<circle cx="1512.8" cy="1488.0" r="7.75" fill="#B97DC0" />
<circle cx="1501.5" cy="1524.4" r="7.75" fill="#B97DC0" />
<circle cx="1508.1" cy="1535.8" r="7.75" fill="#B97DC0" />
<circle cx="1504.3" cy="1540.6" r="7.75" fill="#B97DC0" />
<circle cx="1504.5" cy="1565.4" r="7.75" fill="#B97DC0" />
<circle cx="1539.1" cy="1582.0" r="7.75" fill="#B97DC0" />
<circle cx="1508.3" cy="1604.1" r="7.75" fill="#B97DC0" />
<polygon points="1501.9,1458.3 1509.7,1454.8 1517.5,1451.2 1525.3,1447.6 1533.1,1444.0 1540.9,1440.4 1548.7,1436.8 1556.5,1433.2 1564.3,1429.6 1572.1,1425.9 1579.8,1422.3 1587.6,1418.6 1595.4,1414.8 1603.2,1411.1 1611.0,1407.3 1618.8,1403.5 1626.6,1399.6 1634.4,1395.7 1642.2,1391.7 1650.0,1387.5 1657.7,1383.3 1665.5,1379.0 1673.3,1374.5 1681.1,1369.8 1688.9,1364.9 1696.7,1359.7 1704.5,1354.3 1712.3,1348.6 1720.1,1342.6 1727.9,1336.4 1735.6,1329.9 1743.4,1323.3 1751.2,1316.6 1759.0,1309.7 1766.8,1302.8 1774.6,1295.8 1782.4,1288.7 1790.2,1281.6 1798.0,1274.5 1805.8,1267.4 1813.5,1260.2 1813.5,1329.0 1805.8,1332.3 1798.0,1335.7 1790.2,1339.0 1782.4,1342.4 1774.6,1345.9 1766.8,1349.4 1759.0,1353.0 1751.2,1356.6 1743.4,1360.4 1735.6,1364.3 1727.9,1368.3 1720.1,1372.6 1712.3,1377.0 1704.5,1381.8 1696.7,1386.9 1688.9,1392.3 1681.1,1397.9 1673.3,1403.7 1665.5,1409.7 1657.7,1415.8 1650.0,1422.1 1642.2,1428.5 1634.4,1435.0 1626.6,1441.5 1618.8,1448.1 1611.0,1454.8 1603.2,1461.5 1595.4,1468.3 1587.6,1475.0 1579.8,1481.9 1572.1,1488.7 1564.3,1495.5 1556.5,1502.4 1548.7,1509.3 1540.9,1516.2 1533.1,1523.1 1525.3,1530.0 1517.5,1536.9 1509.7,1543.8 1501.9,1550.7" fill="#999999" fill-opacity="0.4"/>
<line x1="1501.9" y1="1504.5" x2="1813.5" y2="1294.6" stroke="#808080" stroke-width="3.8" />
<text x="1511.9" y="1252.2" font-size="28.8" text-anchor="start" fill="#000" >R² = 0.54</text>
<text x="1517.1" y="1299.6" font-size="28.3" text-anchor="start" fill="#000" ><tspan font-style="italic">P</tspan> &lt; 0.001</text>
<line x1="113.6" y1="1218.3" x2="113.6" y2="1622.2" stroke="#111" stroke-width="1.15" />
<line x1="456.7" y1="1218.3" x2="456.7" y2="1622.2" stroke="#111" stroke-width="1.15" />
<line x1="799.8" y1="1218.3" x2="799.8" y2="1622.2" stroke="#111" stroke-width="1.15" />
<line x1="1143.2" y1="1218.3" x2="1143.2" y2="1622.2" stroke="#111" stroke-width="1.15" />
<line x1="1486.3" y1="1218.3" x2="1486.3" y2="1622.2" stroke="#111" stroke-width="1.5" />
<line x1="113.0" y1="1622.2" x2="1828.5" y2="1622.2" stroke="#111" stroke-width="1.15" />
<line x1="109.4" y1="1231.0" x2="113.6" y2="1231.0" stroke="#111" stroke-width="1.15" />
<text x="102.4" y="1241.9" font-size="28.3" text-anchor="end" fill="#000" >14</text>
<line x1="109.4" y1="1328.1" x2="113.6" y2="1328.1" stroke="#111" stroke-width="1.15" />
<text x="102.4" y="1339.0" font-size="28.3" text-anchor="end" fill="#000" >12</text>
<line x1="109.4" y1="1425.0" x2="113.6" y2="1425.0" stroke="#111" stroke-width="1.15" />
<text x="102.4" y="1435.9" font-size="28.3" text-anchor="end" fill="#000" >10</text>
<line x1="109.4" y1="1522.1" x2="113.6" y2="1522.1" stroke="#111" stroke-width="1.15" />
<text x="102.4" y="1533.0" font-size="28.3" text-anchor="end" fill="#000" >8</text>
<line x1="109.4" y1="1619.0" x2="113.6" y2="1619.0" stroke="#111" stroke-width="1.15" />
<text x="102.4" y="1629.9" font-size="28.3" text-anchor="end" fill="#000" >6</text>
<line x1="133.0" y1="1622.2" x2="133.0" y2="1627.0" stroke="#111" stroke-width="1.15" />
<text x="131.1" y="1658.6" font-size="28.3" text-anchor="middle" fill="#000" >2</text>
<line x1="231.1" y1="1622.2" x2="231.1" y2="1627.0" stroke="#111" stroke-width="1.15" />
<text x="229.5" y="1658.6" font-size="28.3" text-anchor="middle" fill="#000" >4</text>
<line x1="328.6" y1="1622.2" x2="328.6" y2="1627.0" stroke="#111" stroke-width="1.15" />
<text x="327.0" y="1658.6" font-size="28.3" text-anchor="middle" fill="#000" >6</text>
<line x1="425.7" y1="1622.2" x2="425.7" y2="1627.0" stroke="#111" stroke-width="1.15" />
<text x="424.1" y="1658.6" font-size="28.3" text-anchor="middle" fill="#000" >8</text>
<line x1="468.3" y1="1622.2" x2="468.3" y2="1627.0" stroke="#111" stroke-width="1.15" />
<text x="467.1" y="1658.6" font-size="28.3" text-anchor="middle" fill="#000" >0</text>
<line x1="554.3" y1="1622.2" x2="554.3" y2="1627.0" stroke="#111" stroke-width="1.15" />
<text x="553.1" y="1658.6" font-size="28.3" text-anchor="middle" fill="#000" >30</text>
<line x1="640.7" y1="1622.2" x2="640.7" y2="1627.0" stroke="#111" stroke-width="1.15" />
<text x="639.5" y="1658.6" font-size="28.3" text-anchor="middle" fill="#000" >60</text>
<line x1="726.9" y1="1622.2" x2="726.9" y2="1627.0" stroke="#111" stroke-width="1.15" />
<text x="725.7" y="1658.6" font-size="28.3" text-anchor="middle" fill="#000" >90</text>
<line x1="878.6" y1="1622.2" x2="878.6" y2="1627.0" stroke="#111" stroke-width="1.15" />
<text x="877.6" y="1658.6" font-size="28.3" text-anchor="middle" fill="#000" >1</text>
<line x1="1026.9" y1="1622.2" x2="1026.9" y2="1627.0" stroke="#111" stroke-width="1.15" />
<text x="1025.9" y="1658.6" font-size="28.3" text-anchor="middle" fill="#000" >2</text>
<line x1="1181.9" y1="1622.2" x2="1181.9" y2="1627.0" stroke="#111" stroke-width="1.15" />
<text x="1181.1" y="1658.6" font-size="28.3" text-anchor="middle" fill="#000" >1</text>
<line x1="1305.6" y1="1622.2" x2="1305.6" y2="1627.0" stroke="#111" stroke-width="1.15" />
<text x="1305.6" y="1658.6" font-size="28.3" text-anchor="middle" fill="#000" >3</text>
<line x1="1429.8" y1="1622.2" x2="1429.8" y2="1627.0" stroke="#111" stroke-width="1.15" />
<text x="1427.3" y="1658.6" font-size="28.3" text-anchor="middle" fill="#000" >5</text>
<line x1="1486.5" y1="1622.2" x2="1486.5" y2="1627.0" stroke="#111" stroke-width="1.15" />
<text x="1484.1" y="1658.6" font-size="28.3" text-anchor="middle" fill="#000" >0.0</text>
<line x1="1627.8" y1="1622.2" x2="1627.8" y2="1627.0" stroke="#111" stroke-width="1.15" />
<text x="1624.3" y="1658.6" font-size="28.3" text-anchor="middle" fill="#000" >0.2</text>
<line x1="1768.8" y1="1622.2" x2="1768.8" y2="1627.0" stroke="#111" stroke-width="1.15" />
<text x="1765.3" y="1658.6" font-size="28.3" text-anchor="middle" fill="#000" >0.4</text>
<text x="288.2" y="1693.0" font-size="28.4" text-anchor="middle" fill="#000" >DOC (mg/L)</text>
<text x="625.0" y="1693.0" font-size="28.4" text-anchor="middle" fill="#000" >Chl.<tspan font-style="italic">a</tspan> (μg/L)</text>
<text x="972.0" y="1693.0" font-size="28.4" text-anchor="middle" fill="#000" >HIX</text>
<text x="1329.0" y="1693.0" font-size="28.4" text-anchor="middle" fill="#000" >a<tspan font-size="17" dy="8.5">254</tspan><tspan dy="-8.5"> (m</tspan><tspan font-size="17" dy="-11">-1</tspan><tspan dy="11">)</tspan></text>
<text x="1654.7" y="1693.0" font-size="28.4" text-anchor="middle" fill="#000" >C1 (R.U.)</text>
<text transform="translate(57,1416.7) rotate(-90)" font-size="31.6" text-anchor="middle">lnmcrA (copies/mL)</text>
<circle cx="129.4" cy="2093.3" r="7.75" fill="#70A7CF" />
<circle cx="134.6" cy="2092.2" r="7.75" fill="#70A7CF" />
<circle cx="141.3" cy="2092.9" r="7.75" fill="#70A7CF" />
<circle cx="139.9" cy="2097.1" r="7.75" fill="#70A7CF" />
<circle cx="148.9" cy="2098.5" r="7.75" fill="#70A7CF" />
<circle cx="130.8" cy="2044.0" r="7.75" fill="#70A7CF" />
<circle cx="141.3" cy="2049.2" r="7.75" fill="#70A7CF" />
<circle cx="170.9" cy="2070.8" r="7.75" fill="#70A7CF" />
<circle cx="196.1" cy="2066.6" r="7.75" fill="#70A7CF" />
<circle cx="202.1" cy="2071.9" r="7.75" fill="#70A7CF" />
<circle cx="160.8" cy="1990.9" r="7.75" fill="#70A7CF" />
<circle cx="169.2" cy="1968.5" r="7.75" fill="#70A7CF" />
<circle cx="179.7" cy="1969.1" r="7.75" fill="#70A7CF" />
<circle cx="182.9" cy="1946.0" r="7.75" fill="#70A7CF" />
<circle cx="187.7" cy="1956.9" r="7.75" fill="#70A7CF" />
<circle cx="189.6" cy="1980.0" r="7.75" fill="#70A7CF" />
<circle cx="194.0" cy="1992.6" r="7.75" fill="#70A7CF" />
<circle cx="175.1" cy="2013.6" r="7.75" fill="#70A7CF" />
<circle cx="178.2" cy="2021.3" r="7.75" fill="#70A7CF" />
<circle cx="193.3" cy="2027.6" r="7.75" fill="#70A7CF" />
<circle cx="194.4" cy="2036.6" r="7.75" fill="#70A7CF" />
<circle cx="206.3" cy="1964.7" r="7.75" fill="#70A7CF" />
<circle cx="208.4" cy="1950.0" r="7.75" fill="#70A7CF" />
<circle cx="216.8" cy="1940.6" r="7.75" fill="#70A7CF" />
<circle cx="222.7" cy="1995.1" r="7.75" fill="#70A7CF" />
<circle cx="189.6" cy="1916.7" r="7.75" fill="#70A7CF" />
<circle cx="234.2" cy="1882.1" r="7.75" fill="#70A7CF" />
<circle cx="190.2" cy="1845.1" r="7.75" fill="#70A7CF" />
<circle cx="391.1" cy="1807.4" r="7.75" fill="#70A7CF" />
<circle cx="412.5" cy="1790.2" r="7.75" fill="#70A7CF" />
<circle cx="425.7" cy="1802.8" r="7.75" fill="#70A7CF" />
<circle cx="431.4" cy="1821.2" r="7.75" fill="#70A7CF" />
<circle cx="434.1" cy="1767.1" r="7.75" fill="#70A7CF" />
<circle cx="441.9" cy="1777.6" r="7.75" fill="#70A7CF" />
<circle cx="441.9" cy="1795.0" r="7.75" fill="#70A7CF" />
<polygon points="130.4,2027.9 138.2,2022.7 146.0,2017.5 153.7,2012.2 161.5,2006.7 169.3,2001.2 177.1,1995.4 184.8,1989.5 192.6,1983.2 200.4,1976.6 208.2,1969.7 216.0,1962.6 223.7,1955.4 231.5,1948.1 239.3,1940.7 247.1,1933.2 254.8,1925.6 262.6,1917.9 270.4,1910.1 278.2,1902.3 285.9,1894.5 293.7,1886.6 301.5,1878.6 309.3,1870.7 317.0,1862.7 324.8,1854.7 332.6,1846.7 340.4,1838.6 348.2,1830.5 355.9,1822.5 363.7,1814.4 371.5,1806.3 379.3,1798.2 387.0,1790.0 394.8,1781.9 402.6,1773.8 410.4,1765.6 418.1,1757.5 425.9,1749.3 433.7,1741.2 441.5,1733.0 441.5,1813.8 433.7,1819.6 425.9,1825.4 418.1,1831.1 410.4,1836.9 402.6,1842.7 394.8,1848.5 387.0,1854.3 379.3,1860.1 371.5,1865.9 363.7,1871.7 355.9,1877.6 348.2,1883.4 340.4,1889.3 332.6,1895.2 324.8,1901.1 317.0,1907.0 309.3,1912.9 301.5,1918.9 293.7,1924.9 285.9,1930.9 278.2,1937.0 270.4,1943.1 262.6,1949.3 254.8,1955.5 247.1,1961.8 239.3,1968.3 231.5,1974.8 223.7,1981.4 216.0,1988.1 208.2,1994.9 200.4,2001.9 192.6,2009.3 184.8,2017.0 177.1,2024.9 169.3,2033.1 161.5,2041.5 153.7,2050.0 146.0,2058.6 138.2,2067.3 130.4,2076.1" fill="#999999" fill-opacity="0.4"/>
<line x1="130.4" y1="2052.0" x2="441.5" y2="1773.4" stroke="#808080" stroke-width="3.8" />
<text x="139.9" y="1747.3" font-size="28.8" text-anchor="start" fill="#000" >R² = 0.78</text>
<text x="144.0" y="1794.6" font-size="28.3" text-anchor="start" fill="#000" ><tspan font-style="italic">P</tspan> &lt; 0.001</text>
<circle cx="475.7" cy="1916.5" r="7.75" fill="#F5A852" />
<circle cx="523.9" cy="1881.9" r="7.75" fill="#F5A852" />
<circle cx="519.7" cy="1949.6" r="7.75" fill="#F5A852" />
<circle cx="530.8" cy="1964.3" r="7.75" fill="#F5A852" />
<circle cx="557.5" cy="1939.5" r="7.75" fill="#F5A852" />
<circle cx="556.4" cy="1945.0" r="7.75" fill="#F5A852" />
<circle cx="480.9" cy="1980.0" r="7.75" fill="#F5A852" />
<circle cx="534.0" cy="1994.7" r="7.75" fill="#F5A852" />
<circle cx="545.5" cy="2013.2" r="7.75" fill="#F5A852" />
<circle cx="589.3" cy="2021.3" r="7.75" fill="#F5A852" />
<circle cx="598.8" cy="1968.1" r="7.75" fill="#F5A852" />
<circle cx="615.8" cy="1968.1" r="7.75" fill="#F5A852" />
<circle cx="614.7" cy="1990.9" r="7.75" fill="#F5A852" />
<circle cx="643.9" cy="1956.3" r="7.75" fill="#F5A852" />
<circle cx="648.7" cy="1766.1" r="7.75" fill="#F5A852" />
<circle cx="649.3" cy="1789.1" r="7.75" fill="#F5A852" />
<circle cx="666.5" cy="1807.0" r="7.75" fill="#F5A852" />
<circle cx="686.5" cy="1794.0" r="7.75" fill="#F5A852" />
<circle cx="700.5" cy="1802.1" r="7.75" fill="#F5A852" />
<circle cx="715.8" cy="1820.6" r="7.75" fill="#F5A852" />
<circle cx="763.0" cy="1776.6" r="7.75" fill="#F5A852" />
<circle cx="784.6" cy="1844.3" r="7.75" fill="#F5A852" />
<circle cx="780.8" cy="1992.2" r="7.75" fill="#F5A852" />
<circle cx="483.0" cy="2027.2" r="7.75" fill="#F5A852" />
<circle cx="484.0" cy="2036.2" r="7.75" fill="#F5A852" />
<circle cx="479.2" cy="2044.0" r="7.75" fill="#F5A852" />
<circle cx="480.5" cy="2049.2" r="7.75" fill="#F5A852" />
<circle cx="480.9" cy="2066.0" r="7.75" fill="#F5A852" />
<circle cx="472.5" cy="2070.8" r="7.75" fill="#F5A852" />
<circle cx="479.9" cy="2072.3" r="7.75" fill="#F5A852" />
<circle cx="477.8" cy="2085.5" r="7.75" fill="#F5A852" />
<circle cx="475.7" cy="2088.0" r="7.75" fill="#F5A852" />
<circle cx="478.8" cy="2093.3" r="7.75" fill="#F5A852" />
<polygon points="472.5,2008.4 480.3,2003.7 488.1,1999.0 495.9,1994.2 503.7,1989.3 511.5,1984.3 519.3,1979.2 527.1,1973.9 534.9,1968.5 542.7,1963.0 550.5,1957.3 558.3,1951.3 566.1,1945.2 573.9,1938.9 581.7,1932.4 589.6,1925.7 597.4,1918.9 605.2,1911.9 613.0,1904.7 620.8,1897.5 628.6,1890.1 636.4,1882.7 644.2,1875.1 652.0,1867.5 659.8,1859.8 667.6,1852.1 675.4,1844.3 683.2,1836.5 691.0,1828.7 698.8,1820.8 706.6,1812.9 714.4,1805.0 722.2,1797.1 730.0,1789.1 737.8,1781.1 745.6,1773.1 753.4,1765.1 761.2,1757.1 769.0,1749.1 776.8,1741.1 784.6,1733.0 784.6,1849.4 776.8,1853.8 769.0,1858.2 761.2,1862.6 753.4,1867.0 745.6,1871.5 737.8,1875.9 730.0,1880.4 722.2,1884.8 714.4,1889.3 706.6,1893.8 698.8,1898.4 691.0,1902.9 683.2,1907.5 675.4,1912.1 667.6,1916.8 659.8,1921.5 652.0,1926.3 644.2,1931.1 636.4,1936.0 628.6,1940.9 620.8,1946.0 613.0,1951.2 605.2,1956.4 597.4,1961.9 589.6,1967.4 581.7,1973.2 573.9,1979.1 566.1,1985.2 558.3,1991.5 550.5,1998.0 542.7,2004.8 534.9,2011.6 527.1,2018.7 519.3,2025.9 511.5,2033.2 503.7,2040.6 495.9,2048.2 488.1,2055.8 480.3,2063.4 472.5,2071.2" fill="#999999" fill-opacity="0.4"/>
<line x1="472.5" y1="2039.8" x2="784.6" y2="1791.2" stroke="#808080" stroke-width="3.8" />
<text x="481.6" y="1747.3" font-size="28.8" text-anchor="start" fill="#000" >R² = 0.57</text>
<text x="484.4" y="1794.6" font-size="28.3" text-anchor="start" fill="#000" ><tspan font-style="italic">P</tspan> &lt; 0.001</text>
<circle cx="845.9" cy="1839.5" r="7.75" fill="#A0D264" />
<circle cx="905.4" cy="1877.9" r="7.75" fill="#A0D264" />
<circle cx="831.4" cy="1912.9" r="7.75" fill="#A0D264" />
<circle cx="840.2" cy="1937.6" r="7.75" fill="#A0D264" />
<circle cx="845.0" cy="1943.3" r="7.75" fill="#A0D264" />
<circle cx="829.7" cy="1953.4" r="7.75" fill="#A0D264" />
<circle cx="835.6" cy="1962.2" r="7.75" fill="#A0D264" />
<circle cx="847.1" cy="1965.8" r="7.75" fill="#A0D264" />
<circle cx="837.7" cy="1966.4" r="7.75" fill="#A0D264" />
<circle cx="847.7" cy="1990.5" r="7.75" fill="#A0D264" />
<circle cx="898.9" cy="1988.8" r="7.75" fill="#A0D264" />
<circle cx="917.4" cy="1992.6" r="7.75" fill="#A0D264" />
<circle cx="905.0" cy="2011.5" r="7.75" fill="#A0D264" />
<circle cx="987.2" cy="1977.9" r="7.75" fill="#A0D264" />
<circle cx="1050.2" cy="1759.8" r="7.75" fill="#A0D264" />
<circle cx="1070.5" cy="1770.9" r="7.75" fill="#A0D264" />
<circle cx="1071.6" cy="1783.9" r="7.75" fill="#A0D264" />
<circle cx="1064.2" cy="1788.1" r="7.75" fill="#A0D264" />
<circle cx="1072.6" cy="1801.7" r="7.75" fill="#A0D264" />
<circle cx="1114.6" cy="1815.4" r="7.75" fill="#A0D264" />
<circle cx="1127.8" cy="1796.5" r="7.75" fill="#A0D264" />
<circle cx="828.9" cy="2020.3" r="7.75" fill="#A0D264" />
<circle cx="819.2" cy="2026.6" r="7.75" fill="#A0D264" />
<circle cx="829.7" cy="2036.2" r="7.75" fill="#A0D264" />
<circle cx="835.0" cy="2044.0" r="7.75" fill="#A0D264" />
<circle cx="832.4" cy="2047.1" r="7.75" fill="#A0D264" />
<circle cx="815.7" cy="2065.4" r="7.75" fill="#A0D264" />
<circle cx="995.0" cy="2070.6" r="7.75" fill="#A0D264" />
<circle cx="1003.4" cy="2071.3" r="7.75" fill="#A0D264" />
<circle cx="823.0" cy="2098.5" r="7.75" fill="#A0D264" />
<circle cx="830.3" cy="2094.3" r="7.75" fill="#A0D264" />
<circle cx="839.8" cy="2097.1" r="7.75" fill="#A0D264" />
<circle cx="842.9" cy="2091.2" r="7.75" fill="#A0D264" />
<polygon points="816.1,1992.7 823.9,1988.7 831.7,1984.5 839.4,1980.3 847.2,1975.9 855.0,1971.5 862.8,1966.9 870.6,1962.2 878.4,1957.2 886.2,1952.1 893.9,1946.8 901.7,1941.3 909.5,1935.6 917.3,1929.6 925.1,1923.5 932.9,1917.2 940.7,1910.8 948.5,1904.1 956.2,1897.4 964.0,1890.5 971.8,1883.5 979.6,1876.5 987.4,1869.3 995.2,1862.1 1003.0,1854.8 1010.8,1847.4 1018.5,1840.0 1026.3,1832.6 1034.1,1825.1 1041.9,1817.6 1049.7,1810.1 1057.5,1802.5 1065.3,1794.9 1073.0,1787.3 1080.8,1779.7 1088.6,1772.0 1096.4,1764.4 1104.2,1756.7 1112.0,1749.0 1119.8,1741.3 1127.6,1733.6 1127.6,1861.4 1119.8,1865.2 1112.0,1869.1 1104.2,1872.9 1096.4,1876.7 1088.6,1880.6 1080.8,1884.4 1073.0,1888.3 1065.3,1892.2 1057.5,1896.1 1049.7,1900.1 1041.9,1904.0 1034.1,1908.0 1026.3,1912.0 1018.5,1916.1 1010.8,1920.2 1003.0,1924.4 995.2,1928.6 987.4,1932.9 979.6,1937.2 971.8,1941.6 964.0,1946.2 956.2,1950.8 948.5,1955.5 940.7,1960.4 932.9,1965.5 925.1,1970.7 917.3,1976.1 909.5,1981.6 901.7,1987.4 893.9,1993.4 886.2,1999.6 878.4,2006.0 870.6,2012.6 862.8,2019.3 855.0,2026.3 847.2,2033.3 839.4,2040.5 831.7,2047.7 823.9,2055.1 816.1,2062.5" fill="#999999" fill-opacity="0.4"/>
<line x1="816.1" y1="2027.6" x2="1127.6" y2="1797.5" stroke="#808080" stroke-width="3.8" />
<text x="826.4" y="1747.3" font-size="28.8" text-anchor="start" fill="#000" >R² = 0.49</text>
<text x="829.1" y="1794.6" font-size="28.3" text-anchor="start" fill="#000" ><tspan font-style="italic">P</tspan> &lt; 0.001</text>
<circle cx="1296.6" cy="1817.9" r="7.75" fill="#F3C2DC" />
<circle cx="1344.9" cy="1856.7" r="7.75" fill="#F3C2DC" />
<circle cx="1248.4" cy="1891.9" r="7.75" fill="#F3C2DC" />
<circle cx="1289.1" cy="1916.7" r="7.75" fill="#F3C2DC" />
<circle cx="1308.8" cy="1922.3" r="7.75" fill="#F3C2DC" />
<circle cx="1322.4" cy="1927.2" r="7.75" fill="#F3C2DC" />
<circle cx="1277.9" cy="1933.5" r="7.75" fill="#F3C2DC" />
<circle cx="1270.6" cy="1945.4" r="7.75" fill="#F3C2DC" />
<circle cx="1306.7" cy="1941.6" r="7.75" fill="#F3C2DC" />
<circle cx="1298.3" cy="1945.8" r="7.75" fill="#F3C2DC" />
<circle cx="1242.7" cy="1958.0" r="7.75" fill="#F3C2DC" />
<circle cx="1273.7" cy="1969.5" r="7.75" fill="#F3C2DC" />
<circle cx="1290.3" cy="1971.0" r="7.75" fill="#F3C2DC" />
<circle cx="1323.9" cy="1973.3" r="7.75" fill="#F3C2DC" />
<circle cx="1264.7" cy="1992.6" r="7.75" fill="#F3C2DC" />
<circle cx="1309.8" cy="2001.0" r="7.75" fill="#F3C2DC" />
<circle cx="1241.7" cy="2007.7" r="7.75" fill="#F3C2DC" />
<circle cx="1209.1" cy="2015.7" r="7.75" fill="#F3C2DC" />
<circle cx="1162.6" cy="2024.7" r="7.75" fill="#F3C2DC" />
<circle cx="1158.4" cy="2029.3" r="7.75" fill="#F3C2DC" />
<circle cx="1237.5" cy="2047.1" r="7.75" fill="#F3C2DC" />
<circle cx="1248.6" cy="2051.8" r="7.75" fill="#F3C2DC" />
<circle cx="1266.8" cy="2053.4" r="7.75" fill="#F3C2DC" />
<circle cx="1158.8" cy="2073.4" r="7.75" fill="#F3C2DC" />
<circle cx="1161.5" cy="2077.6" r="7.75" fill="#F3C2DC" />
<circle cx="1159.4" cy="2080.7" r="7.75" fill="#F3C2DC" />
<circle cx="1460.2" cy="1736.1" r="7.75" fill="#F3C2DC" />
<circle cx="1458.3" cy="1747.8" r="7.75" fill="#F3C2DC" />
<circle cx="1448.3" cy="1760.4" r="7.75" fill="#F3C2DC" />
<circle cx="1467.1" cy="1766.1" r="7.75" fill="#F3C2DC" />
<circle cx="1453.5" cy="1777.6" r="7.75" fill="#F3C2DC" />
<circle cx="1464.0" cy="1775.5" r="7.75" fill="#F3C2DC" />
<circle cx="1470.3" cy="1793.3" r="7.75" fill="#F3C2DC" />
<polygon points="1158.8,2049.4 1166.6,2042.8 1174.4,2036.2 1182.1,2029.6 1189.9,2023.0 1197.7,2016.3 1205.5,2009.7 1213.2,2002.9 1221.0,1996.2 1228.8,1989.4 1236.6,1982.5 1244.3,1975.5 1252.1,1968.5 1259.9,1961.3 1267.7,1954.1 1275.5,1946.6 1283.2,1939.0 1291.0,1931.3 1298.8,1923.3 1306.6,1915.2 1314.3,1907.0 1322.1,1898.6 1329.9,1890.2 1337.7,1881.6 1345.4,1872.9 1353.2,1864.2 1361.0,1855.4 1368.8,1846.6 1376.5,1837.7 1384.3,1828.8 1392.1,1819.9 1399.9,1811.0 1407.7,1802.0 1415.4,1793.0 1423.2,1784.1 1431.0,1775.1 1438.8,1766.0 1446.5,1757.0 1454.3,1748.0 1462.1,1739.0 1469.9,1729.9 1469.9,1795.9 1462.1,1802.4 1454.3,1809.0 1446.5,1815.5 1438.8,1822.0 1431.0,1828.6 1423.2,1835.1 1415.4,1841.7 1407.7,1848.3 1399.9,1854.8 1392.1,1861.5 1384.3,1868.1 1376.5,1874.8 1368.8,1881.5 1361.0,1888.2 1353.2,1895.0 1345.4,1901.8 1337.7,1908.7 1329.9,1915.7 1322.1,1922.7 1314.3,1929.9 1306.6,1937.2 1298.8,1944.7 1291.0,1952.3 1283.2,1960.1 1275.5,1968.1 1267.7,1976.2 1259.9,1984.4 1252.1,1992.8 1244.3,2001.3 1236.6,2009.9 1228.8,2018.6 1221.0,2027.4 1213.2,2036.2 1205.5,2045.0 1197.7,2053.9 1189.9,2062.8 1182.1,2071.7 1174.4,2080.6 1166.6,2089.6 1158.8,2098.6" fill="#999999" fill-opacity="0.4"/>
<line x1="1158.8" y1="2074.0" x2="1469.9" y2="1762.9" stroke="#808080" stroke-width="3.8" />
<text x="1169.6" y="1747.3" font-size="28.8" text-anchor="start" fill="#000" >R² = 0.80</text>
<text x="1173.3" y="1794.6" font-size="28.3" text-anchor="start" fill="#000" ><tspan font-style="italic">P</tspan> &lt; 0.001</text>
<circle cx="1788.7" cy="1732.0" r="7.75" fill="#DC1E1E" />
<circle cx="1813.5" cy="1744.3" r="7.75" fill="#DC1E1E" />
<circle cx="1792.2" cy="1757.6" r="7.75" fill="#DC1E1E" />
<circle cx="1772.3" cy="1762.8" r="7.75" fill="#DC1E1E" />
<circle cx="1784.2" cy="1771.8" r="7.75" fill="#DC1E1E" />
<circle cx="1804.1" cy="1777.0" r="7.75" fill="#DC1E1E" />
<circle cx="1799.6" cy="1791.9" r="7.75" fill="#DC1E1E" />
<circle cx="1746.7" cy="1818.0" r="7.75" fill="#DC1E1E" />
<circle cx="1670.9" cy="1859.5" r="7.75" fill="#DC1E1E" />
<circle cx="1513.8" cy="1897.2" r="7.75" fill="#DC1E1E" />
<circle cx="1651.5" cy="1923.2" r="7.75" fill="#DC1E1E" />
<circle cx="1643.6" cy="1929.4" r="7.75" fill="#DC1E1E" />
<circle cx="1675.6" cy="1934.1" r="7.75" fill="#DC1E1E" />
<circle cx="1630.1" cy="1941.2" r="7.75" fill="#DC1E1E" />
<circle cx="1665.7" cy="1950.5" r="7.75" fill="#DC1E1E" />
<circle cx="1671.6" cy="1954.3" r="7.75" fill="#DC1E1E" />
<circle cx="1688.0" cy="1954.7" r="7.75" fill="#DC1E1E" />
<circle cx="1522.8" cy="1967.8" r="7.75" fill="#DC1E1E" />
<circle cx="1657.4" cy="1979.6" r="7.75" fill="#DC1E1E" />
<circle cx="1647.9" cy="1983.6" r="7.75" fill="#DC1E1E" />
<circle cx="1733.0" cy="1981.3" r="7.75" fill="#DC1E1E" />
<circle cx="1675.6" cy="2003.3" r="7.75" fill="#DC1E1E" />
<circle cx="1655.7" cy="2013.3" r="7.75" fill="#DC1E1E" />
<circle cx="1523.3" cy="2019.9" r="7.75" fill="#DC1E1E" />
<circle cx="1522.8" cy="2028.9" r="7.75" fill="#DC1E1E" />
<circle cx="1506.7" cy="2038.4" r="7.75" fill="#DC1E1E" />
<circle cx="1508.1" cy="2042.4" r="7.75" fill="#DC1E1E" />
<circle cx="1515.2" cy="2062.1" r="7.75" fill="#DC1E1E" />
<circle cx="1516.9" cy="2068.0" r="7.75" fill="#DC1E1E" />
<circle cx="1501.5" cy="2088.6" r="7.75" fill="#DC1E1E" />
<circle cx="1507.4" cy="2094.5" r="7.75" fill="#DC1E1E" />
<circle cx="1504.3" cy="2098.1" r="7.75" fill="#DC1E1E" />
<polygon points="1501.9,2039.9 1509.7,2034.1 1517.5,2028.2 1525.3,2022.3 1533.1,2016.4 1540.9,2010.5 1548.7,2004.5 1556.5,1998.5 1564.3,1992.5 1572.1,1986.5 1579.9,1980.4 1587.7,1974.2 1595.5,1968.0 1603.3,1961.7 1611.1,1955.3 1618.9,1948.9 1626.7,1942.2 1634.5,1935.5 1642.3,1928.6 1650.1,1921.5 1657.9,1914.3 1665.7,1906.8 1673.5,1899.1 1681.3,1891.3 1689.0,1883.3 1696.8,1875.1 1704.6,1866.9 1712.4,1858.6 1720.2,1850.2 1728.0,1841.8 1735.8,1833.3 1743.6,1824.8 1751.4,1816.3 1759.2,1807.7 1767.0,1799.1 1774.8,1790.5 1782.6,1781.9 1790.4,1773.3 1798.2,1764.6 1806.0,1756.0 1813.8,1747.3 1813.8,1819.5 1806.0,1825.1 1798.2,1830.7 1790.4,1836.4 1782.6,1842.0 1774.8,1847.7 1767.0,1853.3 1759.2,1859.0 1751.4,1864.7 1743.6,1870.5 1735.8,1876.3 1728.0,1882.1 1720.2,1887.9 1712.4,1893.8 1704.6,1899.8 1696.8,1905.8 1689.0,1912.0 1681.3,1918.3 1673.5,1924.7 1665.7,1931.3 1657.9,1938.1 1650.1,1945.1 1642.3,1952.3 1634.5,1959.7 1626.7,1967.2 1618.9,1974.9 1611.1,1982.7 1603.3,1990.6 1595.5,1998.6 1587.7,2006.6 1579.9,2014.8 1572.1,2022.9 1564.3,2031.2 1556.5,2039.4 1548.7,2047.7 1540.9,2056.0 1533.1,2064.4 1525.3,2072.8 1517.5,2081.1 1509.7,2089.5 1501.9,2097.9" fill="#999999" fill-opacity="0.4"/>
<line x1="1501.9" y1="2068.9" x2="1813.8" y2="1783.4" stroke="#808080" stroke-width="3.8" />
<text x="1512.6" y="1746.9" font-size="28.8" text-anchor="start" fill="#000" >R² = 0.78</text>
<text x="1515.0" y="1794.8" font-size="28.3" text-anchor="start" fill="#000" ><tspan font-style="italic">P</tspan> &lt; 0.001</text>
<line x1="113.6" y1="1714.5" x2="113.6" y2="2117.4" stroke="#111" stroke-width="1.25" />
<line x1="457.3" y1="1714.5" x2="457.3" y2="2117.4" stroke="#111" stroke-width="1.25" />
<line x1="800.2" y1="1714.5" x2="800.2" y2="2117.4" stroke="#111" stroke-width="1.25" />
<line x1="1143.3" y1="1714.5" x2="1143.3" y2="2117.4" stroke="#111" stroke-width="1.25" />
<line x1="1486.6" y1="1714.5" x2="1486.6" y2="2117.4" stroke="#111" stroke-width="1.5" />
<line x1="113.0" y1="2117.4" x2="1828.5" y2="2117.4" stroke="#111" stroke-width="1.15" />
<line x1="109.4" y1="1717.8" x2="113.6" y2="1717.8" stroke="#111" stroke-width="1.15" />
<text x="102.4" y="1728.7" font-size="28.3" text-anchor="end" fill="#000" >12</text>
<line x1="109.4" y1="1792.9" x2="113.6" y2="1792.9" stroke="#111" stroke-width="1.15" />
<text x="102.4" y="1803.8" font-size="28.3" text-anchor="end" fill="#000" >11</text>
<line x1="109.4" y1="1868.4" x2="113.6" y2="1868.4" stroke="#111" stroke-width="1.15" />
<text x="102.4" y="1879.3" font-size="28.3" text-anchor="end" fill="#000" >10</text>
<line x1="109.4" y1="1943.3" x2="113.6" y2="1943.3" stroke="#111" stroke-width="1.15" />
<text x="102.4" y="1954.2" font-size="28.3" text-anchor="end" fill="#000" >9</text>
<line x1="109.4" y1="2018.4" x2="113.6" y2="2018.4" stroke="#111" stroke-width="1.15" />
<text x="102.4" y="2029.3" font-size="28.3" text-anchor="end" fill="#000" >8</text>
<line x1="109.4" y1="2093.3" x2="113.6" y2="2093.3" stroke="#111" stroke-width="1.15" />
<text x="102.4" y="2104.2" font-size="28.3" text-anchor="end" fill="#000" >7</text>
<line x1="133.0" y1="2117.4" x2="133.0" y2="2122.2" stroke="#111" stroke-width="1.15" />
<text x="131.1" y="2152.0" font-size="28.3" text-anchor="middle" fill="#000" >2</text>
<line x1="231.1" y1="2117.4" x2="231.1" y2="2122.2" stroke="#111" stroke-width="1.15" />
<text x="229.5" y="2152.0" font-size="28.3" text-anchor="middle" fill="#000" >4</text>
<line x1="328.6" y1="2117.4" x2="328.6" y2="2122.2" stroke="#111" stroke-width="1.15" />
<text x="327.0" y="2152.0" font-size="28.3" text-anchor="middle" fill="#000" >6</text>
<line x1="425.7" y1="2117.4" x2="425.7" y2="2122.2" stroke="#111" stroke-width="1.15" />
<text x="424.1" y="2152.0" font-size="28.3" text-anchor="middle" fill="#000" >8</text>
<line x1="468.3" y1="2117.4" x2="468.3" y2="2122.2" stroke="#111" stroke-width="1.15" />
<text x="467.1" y="2152.0" font-size="28.3" text-anchor="middle" fill="#000" >0</text>
<line x1="554.3" y1="2117.4" x2="554.3" y2="2122.2" stroke="#111" stroke-width="1.15" />
<text x="553.1" y="2152.0" font-size="28.3" text-anchor="middle" fill="#000" >30</text>
<line x1="640.7" y1="2117.4" x2="640.7" y2="2122.2" stroke="#111" stroke-width="1.15" />
<text x="639.5" y="2152.0" font-size="28.3" text-anchor="middle" fill="#000" >60</text>
<line x1="726.9" y1="2117.4" x2="726.9" y2="2122.2" stroke="#111" stroke-width="1.15" />
<text x="725.7" y="2152.0" font-size="28.3" text-anchor="middle" fill="#000" >90</text>
<line x1="878.6" y1="2117.4" x2="878.6" y2="2122.2" stroke="#111" stroke-width="1.15" />
<text x="877.6" y="2152.0" font-size="28.3" text-anchor="middle" fill="#000" >1</text>
<line x1="1026.9" y1="2117.4" x2="1026.9" y2="2122.2" stroke="#111" stroke-width="1.15" />
<text x="1025.9" y="2152.0" font-size="28.3" text-anchor="middle" fill="#000" >2</text>
<line x1="1181.9" y1="2117.4" x2="1181.9" y2="2122.2" stroke="#111" stroke-width="1.15" />
<text x="1181.1" y="2152.0" font-size="28.3" text-anchor="middle" fill="#000" >1</text>
<line x1="1305.6" y1="2117.4" x2="1305.6" y2="2122.2" stroke="#111" stroke-width="1.15" />
<text x="1305.6" y="2152.0" font-size="28.3" text-anchor="middle" fill="#000" >3</text>
<line x1="1429.8" y1="2117.4" x2="1429.8" y2="2122.2" stroke="#111" stroke-width="1.15" />
<text x="1427.3" y="2152.0" font-size="28.3" text-anchor="middle" fill="#000" >5</text>
<line x1="1496.3" y1="2117.4" x2="1496.3" y2="2122.2" stroke="#111" stroke-width="1.15" />
<text x="1496.3" y="2152.0" font-size="28.3" text-anchor="middle" fill="#000" >0.0</text>
<line x1="1627.5" y1="2117.4" x2="1627.5" y2="2122.2" stroke="#111" stroke-width="1.15" />
<text x="1623.0" y="2152.0" font-size="28.3" text-anchor="middle" fill="#000" >0.1</text>
<line x1="1758.6" y1="2117.4" x2="1758.6" y2="2122.2" stroke="#111" stroke-width="1.15" />
<text x="1753.3" y="2152.0" font-size="28.3" text-anchor="middle" fill="#000" >0.2</text>
<text x="288.2" y="2193.5" font-size="28.4" text-anchor="middle" fill="#000" >DOC (mg/L)</text>
<text x="625.0" y="2193.5" font-size="28.4" text-anchor="middle" fill="#000" >Chl.<tspan font-style="italic">a</tspan> (μg/L)</text>
<text x="972.0" y="2193.5" font-size="28.4" text-anchor="middle" fill="#000" >HIX</text>
<text x="1329.0" y="2185.5" font-size="28.4" text-anchor="middle" fill="#000" >a<tspan font-size="17" dy="8.5">254</tspan><tspan dy="-8.5"> (m</tspan><tspan font-size="17" dy="-11">-1</tspan><tspan dy="11">)</tspan></text>
<text x="1658.0" y="2193.5" font-size="28.4" text-anchor="middle" fill="#000" >TP (mg/L)</text>
<text transform="translate(57,1900) rotate(-90)" font-size="31.6" text-anchor="middle">lnphnJ (copies/mL)</text>
</svg>
</body></html>
